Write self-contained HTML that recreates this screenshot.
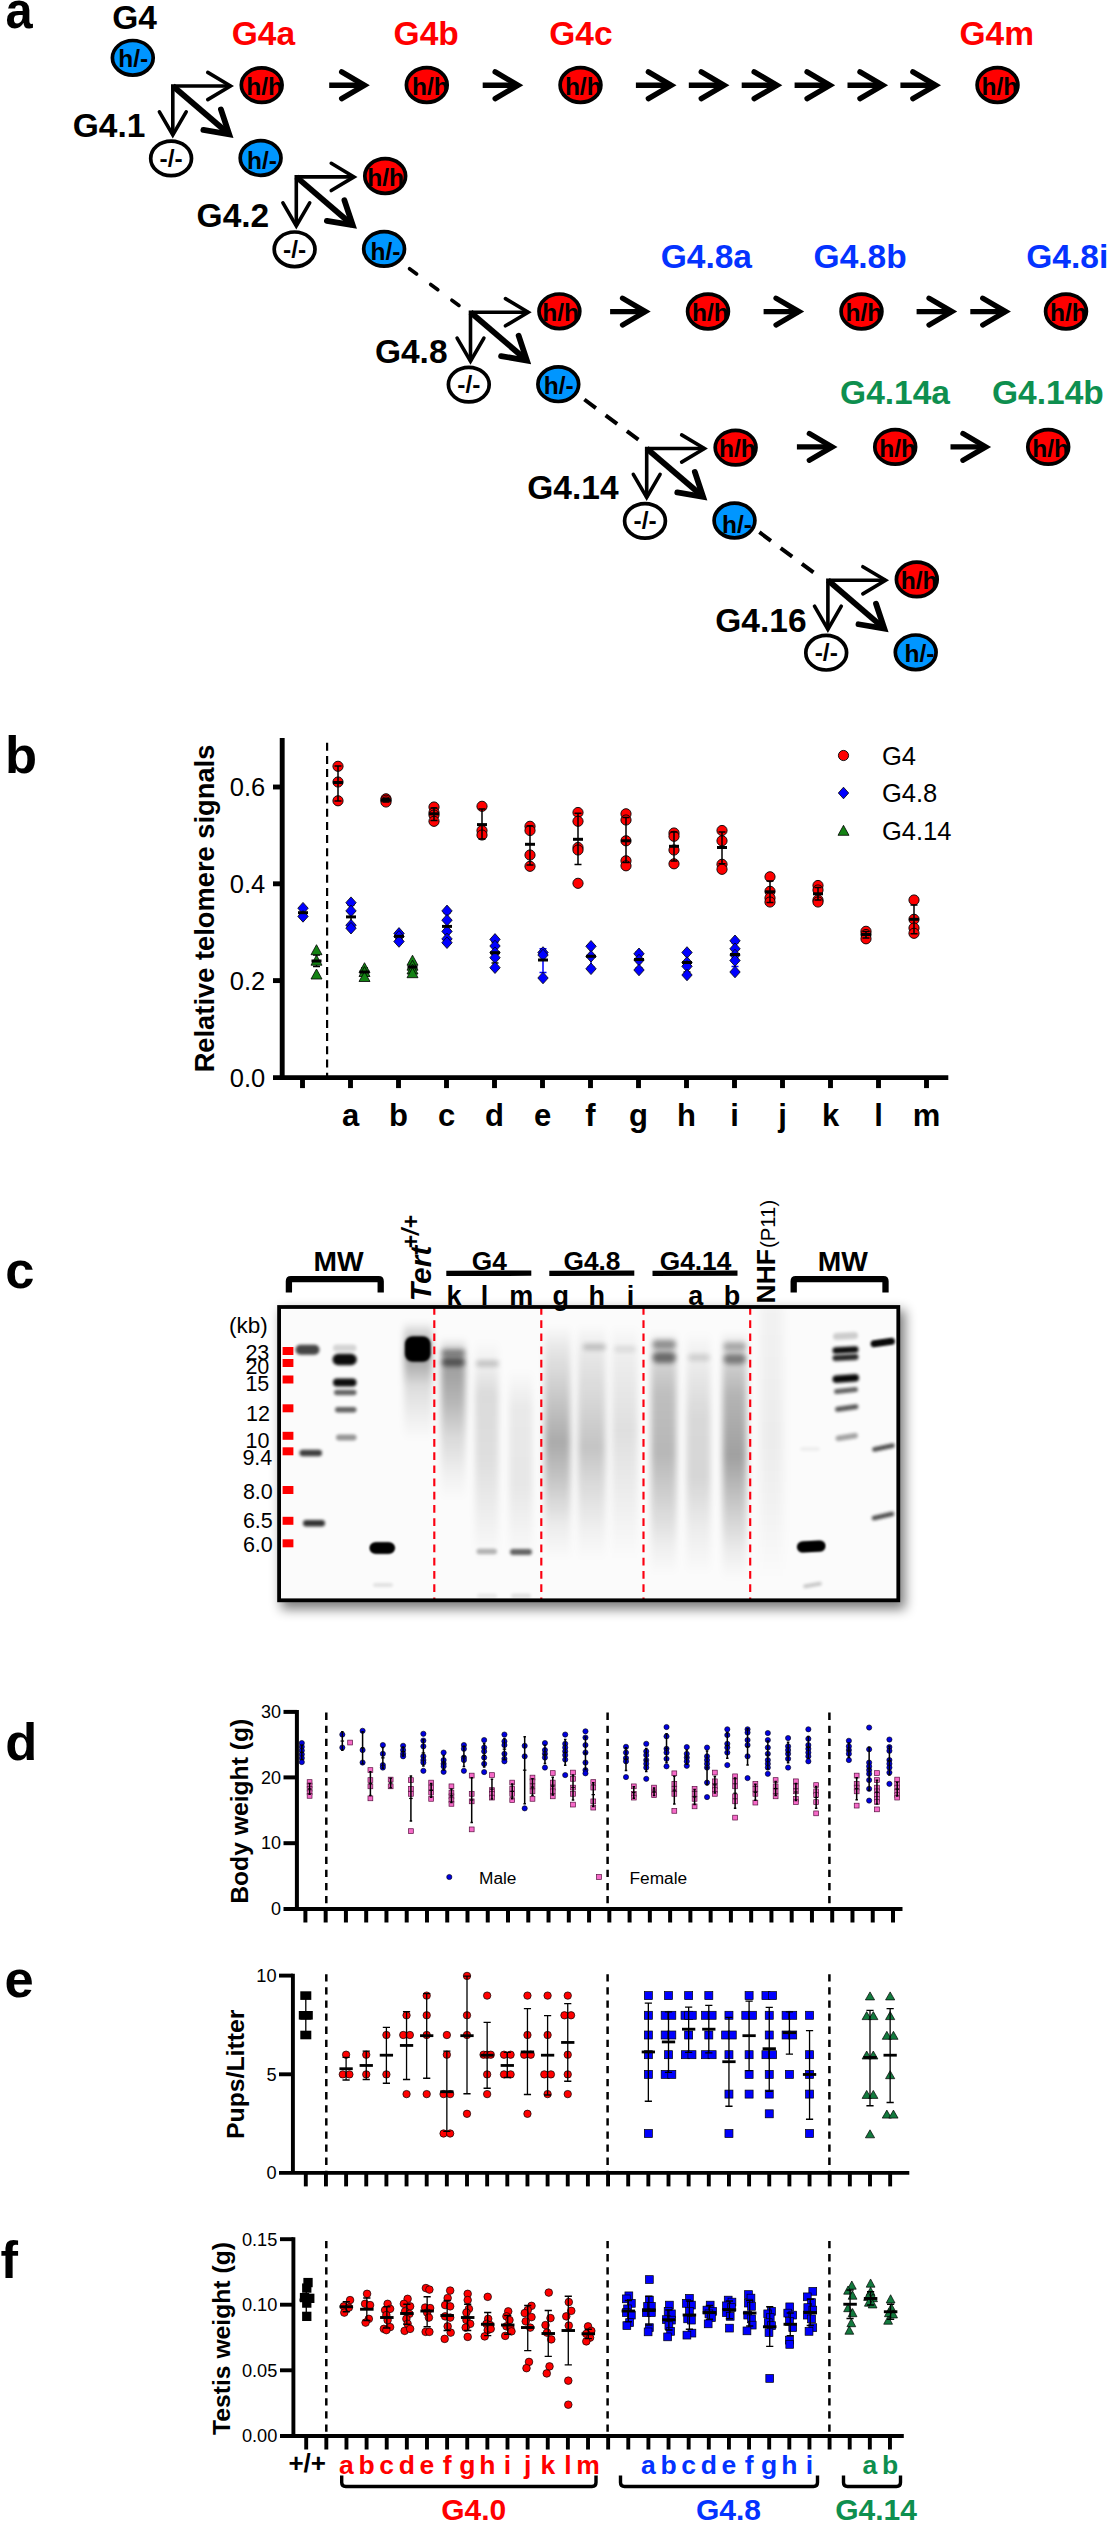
<!DOCTYPE html>
<html><head><meta charset="utf-8"><title>Figure</title><style>html,body{margin:0;padding:0;background:#fff}svg{display:block}text{font-family:"Liberation Sans",sans-serif}</style></head><body>
<svg width="1107" height="2523" viewBox="0 0 1107 2523" font-family="Liberation Sans, sans-serif">
<rect width="1107" height="2523" fill="#fff"/>
<text transform="translate(5.5,27.7) scale(0.93,1)" font-size="52.5" font-weight="bold">a</text>
<text x="5.00" y="773.00" font-size="52.5" font-weight="bold" fill="#000" >b</text>
<text x="5.30" y="1288.00" font-size="52.5" font-weight="bold" fill="#000" >c</text>
<text x="5.20" y="1760.30" font-size="52.5" font-weight="bold" fill="#000" >d</text>
<text x="4.50" y="1997.00" font-size="52.5" font-weight="bold" fill="#000" >e</text>
<text x="0.50" y="2278.00" font-size="52.5" font-weight="bold" fill="#000" >f</text>
<ellipse cx="132.8" cy="57.8" rx="20.4" ry="17.3" fill="#0096ff"/>
<clipPath id="c1"><ellipse cx="132.8" cy="57.8" rx="20.4" ry="17.3"/></clipPath>
<text clip-path="url(#c1)" x="118.3" y="67.4" font-size="24.5" font-weight="bold">h/-</text>
<ellipse cx="132.8" cy="57.8" rx="20.4" ry="17.3" fill="none" stroke="#000" stroke-width="3.7"/>
<text x="112.30" y="29.20" font-size="33.5" font-weight="bold" fill="#000" >G4</text>
<path d="M172.80,135.00 L172.80,86.00 L230.50,86.00" fill="none" stroke="#000" stroke-width="3.6" stroke-linejoin="miter"/>
<path d="M207.76,72.39 L230.50,86.00 L207.76,99.61" fill="none" stroke="#000" stroke-width="3.6" stroke-linecap="round" stroke-linejoin="miter" stroke-miterlimit="10"/>
<path d="M186.19,111.90 L172.80,135.00 L159.41,111.90" fill="none" stroke="#000" stroke-width="3.6" stroke-linecap="round" stroke-linejoin="miter" stroke-miterlimit="10"/>
<path d="M172.80,86.00 L229.20,134.30" stroke="#000" stroke-width="5.8" fill="none"/>
<path d="M220.92,109.44 L229.20,134.30 L203.37,129.94" fill="none" stroke="#000" stroke-width="5.8" stroke-linecap="round" stroke-linejoin="miter" stroke-miterlimit="10"/>
<ellipse cx="261.7" cy="85.1" rx="20.4" ry="17.3" fill="#ff0000"/>
<clipPath id="c2"><ellipse cx="261.7" cy="85.1" rx="20.4" ry="17.3"/></clipPath>
<text clip-path="url(#c2)" x="246.2" y="94.7" font-size="24.5" font-weight="bold">h/h</text>
<ellipse cx="261.7" cy="85.1" rx="20.4" ry="17.3" fill="none" stroke="#000" stroke-width="3.7"/>
<ellipse cx="171.1" cy="158.4" rx="20.4" ry="17.3" fill="#fff"/>
<clipPath id="c3"><ellipse cx="171.1" cy="158.4" rx="20.4" ry="17.3"/></clipPath>
<text clip-path="url(#c3)" x="159.6" y="166.6" font-size="24.5" font-weight="bold">-/-</text>
<ellipse cx="171.1" cy="158.4" rx="20.4" ry="17.3" fill="none" stroke="#000" stroke-width="3.7"/>
<ellipse cx="260.6" cy="158.0" rx="20.4" ry="17.3" fill="#0096ff"/>
<clipPath id="c4"><ellipse cx="260.6" cy="158.0" rx="20.4" ry="17.3"/></clipPath>
<text clip-path="url(#c4)" x="247.1" y="168.7" font-size="24.5" font-weight="bold">h/-</text>
<ellipse cx="260.6" cy="158.0" rx="20.4" ry="17.3" fill="none" stroke="#000" stroke-width="3.7"/>
<text x="72.70" y="137.20" font-size="33.5" font-weight="bold" fill="#000" >G4.1</text>
<path d="M296.30,225.90 L296.30,176.90 L354.00,176.90" fill="none" stroke="#000" stroke-width="3.6" stroke-linejoin="miter"/>
<path d="M331.26,163.29 L354.00,176.90 L331.26,190.51" fill="none" stroke="#000" stroke-width="3.6" stroke-linecap="round" stroke-linejoin="miter" stroke-miterlimit="10"/>
<path d="M309.69,202.80 L296.30,225.90 L282.91,202.80" fill="none" stroke="#000" stroke-width="3.6" stroke-linecap="round" stroke-linejoin="miter" stroke-miterlimit="10"/>
<path d="M296.30,176.90 L352.70,225.20" stroke="#000" stroke-width="5.8" fill="none"/>
<path d="M344.42,200.34 L352.70,225.20 L326.87,220.84" fill="none" stroke="#000" stroke-width="5.8" stroke-linecap="round" stroke-linejoin="miter" stroke-miterlimit="10"/>
<ellipse cx="385.2" cy="176.0" rx="20.4" ry="17.3" fill="#ff0000"/>
<clipPath id="c5"><ellipse cx="385.2" cy="176.0" rx="20.4" ry="17.3"/></clipPath>
<text clip-path="url(#c5)" x="367.3" y="185.6" font-size="24.5" font-weight="bold">h/h</text>
<ellipse cx="385.2" cy="176.0" rx="20.4" ry="17.3" fill="none" stroke="#000" stroke-width="3.7"/>
<ellipse cx="294.6" cy="249.3" rx="20.4" ry="17.3" fill="#fff"/>
<clipPath id="c6"><ellipse cx="294.6" cy="249.3" rx="20.4" ry="17.3"/></clipPath>
<text clip-path="url(#c6)" x="283.1" y="257.5" font-size="24.5" font-weight="bold">-/-</text>
<ellipse cx="294.6" cy="249.3" rx="20.4" ry="17.3" fill="none" stroke="#000" stroke-width="3.7"/>
<ellipse cx="384.1" cy="248.9" rx="20.4" ry="17.3" fill="#0096ff"/>
<clipPath id="c7"><ellipse cx="384.1" cy="248.9" rx="20.4" ry="17.3"/></clipPath>
<text clip-path="url(#c7)" x="370.6" y="259.9" font-size="24.5" font-weight="bold">h/-</text>
<ellipse cx="384.1" cy="248.9" rx="20.4" ry="17.3" fill="none" stroke="#000" stroke-width="3.7"/>
<text x="196.60" y="226.60" font-size="33.5" font-weight="bold" fill="#000" >G4.2</text>
<path d="M470.50,361.20 L470.50,312.20 L528.20,312.20" fill="none" stroke="#000" stroke-width="3.6" stroke-linejoin="miter"/>
<path d="M505.46,298.59 L528.20,312.20 L505.46,325.81" fill="none" stroke="#000" stroke-width="3.6" stroke-linecap="round" stroke-linejoin="miter" stroke-miterlimit="10"/>
<path d="M483.89,338.10 L470.50,361.20 L457.11,338.10" fill="none" stroke="#000" stroke-width="3.6" stroke-linecap="round" stroke-linejoin="miter" stroke-miterlimit="10"/>
<path d="M470.50,312.20 L526.90,360.50" stroke="#000" stroke-width="5.8" fill="none"/>
<path d="M518.62,335.64 L526.90,360.50 L501.07,356.14" fill="none" stroke="#000" stroke-width="5.8" stroke-linecap="round" stroke-linejoin="miter" stroke-miterlimit="10"/>
<ellipse cx="559.4" cy="311.3" rx="20.4" ry="17.3" fill="#ff0000"/>
<clipPath id="c8"><ellipse cx="559.4" cy="311.3" rx="20.4" ry="17.3"/></clipPath>
<text clip-path="url(#c8)" x="542.2" y="320.9" font-size="24.5" font-weight="bold">h/h</text>
<ellipse cx="559.4" cy="311.3" rx="20.4" ry="17.3" fill="none" stroke="#000" stroke-width="3.7"/>
<ellipse cx="468.8" cy="384.6" rx="20.4" ry="17.3" fill="#fff"/>
<clipPath id="c9"><ellipse cx="468.8" cy="384.6" rx="20.4" ry="17.3"/></clipPath>
<text clip-path="url(#c9)" x="457.3" y="392.8" font-size="24.5" font-weight="bold">-/-</text>
<ellipse cx="468.8" cy="384.6" rx="20.4" ry="17.3" fill="none" stroke="#000" stroke-width="3.7"/>
<ellipse cx="558.3" cy="384.2" rx="20.4" ry="17.3" fill="#0096ff"/>
<clipPath id="c10"><ellipse cx="558.3" cy="384.2" rx="20.4" ry="17.3"/></clipPath>
<text clip-path="url(#c10)" x="543.8" y="393.8" font-size="24.5" font-weight="bold">h/-</text>
<ellipse cx="558.3" cy="384.2" rx="20.4" ry="17.3" fill="none" stroke="#000" stroke-width="3.7"/>
<text x="374.90" y="362.60" font-size="33.5" font-weight="bold" fill="#000" >G4.8</text>
<path d="M646.70,497.50 L646.70,448.50 L704.40,448.50" fill="none" stroke="#000" stroke-width="3.6" stroke-linejoin="miter"/>
<path d="M681.66,434.89 L704.40,448.50 L681.66,462.11" fill="none" stroke="#000" stroke-width="3.6" stroke-linecap="round" stroke-linejoin="miter" stroke-miterlimit="10"/>
<path d="M660.09,474.40 L646.70,497.50 L633.31,474.40" fill="none" stroke="#000" stroke-width="3.6" stroke-linecap="round" stroke-linejoin="miter" stroke-miterlimit="10"/>
<path d="M646.70,448.50 L703.10,496.80" stroke="#000" stroke-width="5.8" fill="none"/>
<path d="M694.82,471.94 L703.10,496.80 L677.27,492.44" fill="none" stroke="#000" stroke-width="5.8" stroke-linecap="round" stroke-linejoin="miter" stroke-miterlimit="10"/>
<ellipse cx="735.6" cy="447.6" rx="20.4" ry="17.3" fill="#ff0000"/>
<clipPath id="c11"><ellipse cx="735.6" cy="447.6" rx="20.4" ry="17.3"/></clipPath>
<text clip-path="url(#c11)" x="719.1" y="457.2" font-size="24.5" font-weight="bold">h/h</text>
<ellipse cx="735.6" cy="447.6" rx="20.4" ry="17.3" fill="none" stroke="#000" stroke-width="3.7"/>
<ellipse cx="645.0" cy="520.9" rx="20.4" ry="17.3" fill="#fff"/>
<clipPath id="c12"><ellipse cx="645.0" cy="520.9" rx="20.4" ry="17.3"/></clipPath>
<text clip-path="url(#c12)" x="633.5" y="529.1" font-size="24.5" font-weight="bold">-/-</text>
<ellipse cx="645.0" cy="520.9" rx="20.4" ry="17.3" fill="none" stroke="#000" stroke-width="3.7"/>
<ellipse cx="734.5" cy="520.5" rx="20.4" ry="17.3" fill="#0096ff"/>
<clipPath id="c13"><ellipse cx="734.5" cy="520.5" rx="20.4" ry="17.3"/></clipPath>
<text clip-path="url(#c13)" x="722.0" y="532.5" font-size="24.5" font-weight="bold">h/-</text>
<ellipse cx="734.5" cy="520.5" rx="20.4" ry="17.3" fill="none" stroke="#000" stroke-width="3.7"/>
<text x="527.30" y="499.20" font-size="33.5" font-weight="bold" fill="#000" >G4.14</text>
<path d="M827.90,629.30 L827.90,580.30 L885.60,580.30" fill="none" stroke="#000" stroke-width="3.6" stroke-linejoin="miter"/>
<path d="M862.86,566.69 L885.60,580.30 L862.86,593.91" fill="none" stroke="#000" stroke-width="3.6" stroke-linecap="round" stroke-linejoin="miter" stroke-miterlimit="10"/>
<path d="M841.29,606.20 L827.90,629.30 L814.51,606.20" fill="none" stroke="#000" stroke-width="3.6" stroke-linecap="round" stroke-linejoin="miter" stroke-miterlimit="10"/>
<path d="M827.90,580.30 L884.30,628.60" stroke="#000" stroke-width="5.8" fill="none"/>
<path d="M876.02,603.74 L884.30,628.60 L858.47,624.24" fill="none" stroke="#000" stroke-width="5.8" stroke-linecap="round" stroke-linejoin="miter" stroke-miterlimit="10"/>
<ellipse cx="916.8" cy="579.4" rx="20.4" ry="17.3" fill="#ff0000"/>
<clipPath id="c14"><ellipse cx="916.8" cy="579.4" rx="20.4" ry="17.3"/></clipPath>
<text clip-path="url(#c14)" x="900.8" y="589.0" font-size="24.5" font-weight="bold">h/h</text>
<ellipse cx="916.8" cy="579.4" rx="20.4" ry="17.3" fill="none" stroke="#000" stroke-width="3.7"/>
<ellipse cx="826.2" cy="652.7" rx="20.4" ry="17.3" fill="#fff"/>
<clipPath id="c15"><ellipse cx="826.2" cy="652.7" rx="20.4" ry="17.3"/></clipPath>
<text clip-path="url(#c15)" x="814.7" y="660.9" font-size="24.5" font-weight="bold">-/-</text>
<ellipse cx="826.2" cy="652.7" rx="20.4" ry="17.3" fill="none" stroke="#000" stroke-width="3.7"/>
<ellipse cx="915.7" cy="652.3" rx="20.4" ry="17.3" fill="#0096ff"/>
<clipPath id="c16"><ellipse cx="915.7" cy="652.3" rx="20.4" ry="17.3"/></clipPath>
<text clip-path="url(#c16)" x="904.6" y="662.1" font-size="24.5" font-weight="bold">h/-</text>
<ellipse cx="915.7" cy="652.3" rx="20.4" ry="17.3" fill="none" stroke="#000" stroke-width="3.7"/>
<text x="715.30" y="631.60" font-size="33.5" font-weight="bold" fill="#000" >G4.16</text>
<path d="M409.5,268.7 L459.1,305.6" stroke="#000" stroke-width="3.6" stroke-dasharray="8.9,17.5" stroke-linecap="round" fill="none"/>
<path d="M584.4,399.5 L638.8,440.0" stroke="#000" stroke-width="4" stroke-dasharray="14.3,12.2" fill="none"/>
<path d="M759.4,532.2 L813.8,572.7" stroke="#000" stroke-width="4" stroke-dasharray="14.4,12.1" fill="none"/>
<ellipse cx="426.8" cy="85.0" rx="20.4" ry="17.3" fill="#ff0000"/>
<clipPath id="c17"><ellipse cx="426.8" cy="85.0" rx="20.4" ry="17.3"/></clipPath>
<text clip-path="url(#c17)" x="412.1" y="94.6" font-size="24.5" font-weight="bold">h/h</text>
<ellipse cx="426.8" cy="85.0" rx="20.4" ry="17.3" fill="none" stroke="#000" stroke-width="3.7"/>
<ellipse cx="580.5" cy="85.0" rx="20.4" ry="17.3" fill="#ff0000"/>
<clipPath id="c18"><ellipse cx="580.5" cy="85.0" rx="20.4" ry="17.3"/></clipPath>
<text clip-path="url(#c18)" x="564.9" y="94.6" font-size="24.5" font-weight="bold">h/h</text>
<ellipse cx="580.5" cy="85.0" rx="20.4" ry="17.3" fill="none" stroke="#000" stroke-width="3.7"/>
<ellipse cx="997.5" cy="85.0" rx="20.4" ry="17.3" fill="#ff0000"/>
<clipPath id="c19"><ellipse cx="997.5" cy="85.0" rx="20.4" ry="17.3"/></clipPath>
<text clip-path="url(#c19)" x="981.5" y="94.6" font-size="24.5" font-weight="bold">h/h</text>
<ellipse cx="997.5" cy="85.0" rx="20.4" ry="17.3" fill="none" stroke="#000" stroke-width="3.7"/>
<path d="M329.20,85.30 L364.50,85.30" stroke="#000" stroke-width="5.4" fill="none"/>
<path d="M341.69,71.92 L364.50,85.30 L341.69,98.68" fill="none" stroke="#000" stroke-width="5.4" stroke-linecap="round" stroke-linejoin="miter" stroke-miterlimit="10"/>
<path d="M482.70,85.30 L518.00,85.30" stroke="#000" stroke-width="5.4" fill="none"/>
<path d="M495.19,71.92 L518.00,85.30 L495.19,98.68" fill="none" stroke="#000" stroke-width="5.4" stroke-linecap="round" stroke-linejoin="miter" stroke-miterlimit="10"/>
<path d="M635.90,85.30 L671.20,85.30" stroke="#000" stroke-width="5.4" fill="none"/>
<path d="M648.39,71.92 L671.20,85.30 L648.39,98.68" fill="none" stroke="#000" stroke-width="5.4" stroke-linecap="round" stroke-linejoin="miter" stroke-miterlimit="10"/>
<path d="M688.80,85.30 L724.10,85.30" stroke="#000" stroke-width="5.4" fill="none"/>
<path d="M701.29,71.92 L724.10,85.30 L701.29,98.68" fill="none" stroke="#000" stroke-width="5.4" stroke-linecap="round" stroke-linejoin="miter" stroke-miterlimit="10"/>
<path d="M741.70,85.30 L777.00,85.30" stroke="#000" stroke-width="5.4" fill="none"/>
<path d="M754.19,71.92 L777.00,85.30 L754.19,98.68" fill="none" stroke="#000" stroke-width="5.4" stroke-linecap="round" stroke-linejoin="miter" stroke-miterlimit="10"/>
<path d="M794.60,85.30 L829.90,85.30" stroke="#000" stroke-width="5.4" fill="none"/>
<path d="M807.09,71.92 L829.90,85.30 L807.09,98.68" fill="none" stroke="#000" stroke-width="5.4" stroke-linecap="round" stroke-linejoin="miter" stroke-miterlimit="10"/>
<path d="M847.50,85.30 L882.80,85.30" stroke="#000" stroke-width="5.4" fill="none"/>
<path d="M859.99,71.92 L882.80,85.30 L859.99,98.68" fill="none" stroke="#000" stroke-width="5.4" stroke-linecap="round" stroke-linejoin="miter" stroke-miterlimit="10"/>
<path d="M900.40,85.30 L935.70,85.30" stroke="#000" stroke-width="5.4" fill="none"/>
<path d="M912.89,71.92 L935.70,85.30 L912.89,98.68" fill="none" stroke="#000" stroke-width="5.4" stroke-linecap="round" stroke-linejoin="miter" stroke-miterlimit="10"/>
<text x="231.70" y="44.80" font-size="33.5" font-weight="bold" fill="#ff0000" >G4a</text>
<text x="393.60" y="44.80" font-size="33.5" font-weight="bold" fill="#ff0000" >G4b</text>
<text x="549.30" y="44.80" font-size="33.5" font-weight="bold" fill="#ff0000" >G4c</text>
<text x="959.50" y="44.80" font-size="33.5" font-weight="bold" fill="#ff0000" >G4m</text>
<ellipse cx="708.0" cy="311.5" rx="20.4" ry="17.3" fill="#ff0000"/>
<clipPath id="c20"><ellipse cx="708.0" cy="311.5" rx="20.4" ry="17.3"/></clipPath>
<text clip-path="url(#c20)" x="692.0" y="321.1" font-size="24.5" font-weight="bold">h/h</text>
<ellipse cx="708.0" cy="311.5" rx="20.4" ry="17.3" fill="none" stroke="#000" stroke-width="3.7"/>
<ellipse cx="861.5" cy="311.5" rx="20.4" ry="17.3" fill="#ff0000"/>
<clipPath id="c21"><ellipse cx="861.5" cy="311.5" rx="20.4" ry="17.3"/></clipPath>
<text clip-path="url(#c21)" x="845.5" y="321.1" font-size="24.5" font-weight="bold">h/h</text>
<ellipse cx="861.5" cy="311.5" rx="20.4" ry="17.3" fill="none" stroke="#000" stroke-width="3.7"/>
<ellipse cx="1066.0" cy="311.5" rx="20.4" ry="17.3" fill="#ff0000"/>
<clipPath id="c22"><ellipse cx="1066.0" cy="311.5" rx="20.4" ry="17.3"/></clipPath>
<text clip-path="url(#c22)" x="1050.0" y="321.1" font-size="24.5" font-weight="bold">h/h</text>
<ellipse cx="1066.0" cy="311.5" rx="20.4" ry="17.3" fill="none" stroke="#000" stroke-width="3.7"/>
<path d="M610.10,311.60 L645.40,311.60" stroke="#000" stroke-width="5.4" fill="none"/>
<path d="M622.59,298.22 L645.40,311.60 L622.59,324.98" fill="none" stroke="#000" stroke-width="5.4" stroke-linecap="round" stroke-linejoin="miter" stroke-miterlimit="10"/>
<path d="M763.60,311.60 L798.90,311.60" stroke="#000" stroke-width="5.4" fill="none"/>
<path d="M776.09,298.22 L798.90,311.60 L776.09,324.98" fill="none" stroke="#000" stroke-width="5.4" stroke-linecap="round" stroke-linejoin="miter" stroke-miterlimit="10"/>
<path d="M916.60,311.60 L951.90,311.60" stroke="#000" stroke-width="5.4" fill="none"/>
<path d="M929.09,298.22 L951.90,311.60 L929.09,324.98" fill="none" stroke="#000" stroke-width="5.4" stroke-linecap="round" stroke-linejoin="miter" stroke-miterlimit="10"/>
<path d="M970.30,311.60 L1005.60,311.60" stroke="#000" stroke-width="5.4" fill="none"/>
<path d="M982.79,298.22 L1005.60,311.60 L982.79,324.98" fill="none" stroke="#000" stroke-width="5.4" stroke-linecap="round" stroke-linejoin="miter" stroke-miterlimit="10"/>
<text x="660.70" y="267.60" font-size="33.5" font-weight="bold" fill="#0433ff" >G4.8a</text>
<text x="813.60" y="267.60" font-size="33.5" font-weight="bold" fill="#0433ff" >G4.8b</text>
<text x="1026.30" y="267.60" font-size="33.5" font-weight="bold" fill="#0433ff" >G4.8i</text>
<ellipse cx="895.2" cy="446.9" rx="20.4" ry="17.3" fill="#ff0000"/>
<clipPath id="c23"><ellipse cx="895.2" cy="446.9" rx="20.4" ry="17.3"/></clipPath>
<text clip-path="url(#c23)" x="879.2" y="456.5" font-size="24.5" font-weight="bold">h/h</text>
<ellipse cx="895.2" cy="446.9" rx="20.4" ry="17.3" fill="none" stroke="#000" stroke-width="3.7"/>
<ellipse cx="1048.2" cy="446.9" rx="20.4" ry="17.3" fill="#ff0000"/>
<clipPath id="c24"><ellipse cx="1048.2" cy="446.9" rx="20.4" ry="17.3"/></clipPath>
<text clip-path="url(#c24)" x="1032.2" y="456.5" font-size="24.5" font-weight="bold">h/h</text>
<ellipse cx="1048.2" cy="446.9" rx="20.4" ry="17.3" fill="none" stroke="#000" stroke-width="3.7"/>
<path d="M796.90,446.90 L832.20,446.90" stroke="#000" stroke-width="5.4" fill="none"/>
<path d="M809.39,433.52 L832.20,446.90 L809.39,460.28" fill="none" stroke="#000" stroke-width="5.4" stroke-linecap="round" stroke-linejoin="miter" stroke-miterlimit="10"/>
<path d="M950.50,446.90 L985.80,446.90" stroke="#000" stroke-width="5.4" fill="none"/>
<path d="M962.99,433.52 L985.80,446.90 L962.99,460.28" fill="none" stroke="#000" stroke-width="5.4" stroke-linecap="round" stroke-linejoin="miter" stroke-miterlimit="10"/>
<text x="840.10" y="404.00" font-size="33.5" font-weight="bold" fill="#0e8f4f" >G4.14a</text>
<text x="992.00" y="404.00" font-size="33.5" font-weight="bold" fill="#0e8f4f" >G4.14b</text>
<path d="M303.00,908.00 L303.00,917.00 M299.50,908.00 L306.50,908.00 M299.50,917.00 L306.50,917.00" stroke="#000" stroke-width="1.5" fill="none"/>
<path d="M303.00,902.40 L308.20,908.20 L303.00,914.00 L297.80,908.20 Z" fill="#0000ff" stroke="#000" stroke-width="0.8"/>
<path d="M303.00,910.60 L308.20,916.40 L303.00,922.20 L297.80,916.40 Z" fill="#0000ff" stroke="#000" stroke-width="0.8"/>
<path d="M298.00,912.70 L308.00,912.70" stroke="#000" stroke-width="3" fill="none"/>
<path d="M351.00,905.00 L351.00,929.00 M347.50,905.00 L354.50,905.00 M347.50,929.00 L354.50,929.00" stroke="#000" stroke-width="1.5" fill="none"/>
<path d="M351.00,896.90 L356.20,902.70 L351.00,908.50 L345.80,902.70 Z" fill="#0000ff" stroke="#000" stroke-width="0.8"/>
<path d="M351.00,905.10 L356.20,910.90 L351.00,916.70 L345.80,910.90 Z" fill="#0000ff" stroke="#000" stroke-width="0.8"/>
<path d="M351.00,919.40 L356.20,925.20 L351.00,931.00 L345.80,925.20 Z" fill="#0000ff" stroke="#000" stroke-width="0.8"/>
<path d="M351.00,922.40 L356.20,928.20 L351.00,934.00 L345.80,928.20 Z" fill="#0000ff" stroke="#000" stroke-width="0.8"/>
<path d="M346.00,916.90 L356.00,916.90" stroke="#000" stroke-width="3" fill="none"/>
<path d="M399.00,933.00 L399.00,940.00 M395.50,933.00 L402.50,933.00 M395.50,940.00 L402.50,940.00" stroke="#000" stroke-width="1.5" fill="none"/>
<path d="M399.00,927.60 L404.20,933.40 L399.00,939.20 L393.80,933.40 Z" fill="#0000ff" stroke="#000" stroke-width="0.8"/>
<path d="M399.00,930.60 L404.20,936.40 L399.00,942.20 L393.80,936.40 Z" fill="#0000ff" stroke="#000" stroke-width="0.8"/>
<path d="M399.00,935.70 L404.20,941.50 L399.00,947.30 L393.80,941.50 Z" fill="#0000ff" stroke="#000" stroke-width="0.8"/>
<path d="M394.00,936.30 L404.00,936.30" stroke="#000" stroke-width="3" fill="none"/>
<path d="M447.00,913.00 L447.00,941.00 M443.50,913.00 L450.50,913.00 M443.50,941.00 L450.50,941.00" stroke="#000" stroke-width="1.5" fill="none"/>
<path d="M447.00,905.10 L452.20,910.90 L447.00,916.70 L441.80,910.90 Z" fill="#0000ff" stroke="#000" stroke-width="0.8"/>
<path d="M447.00,914.40 L452.20,920.20 L447.00,926.00 L441.80,920.20 Z" fill="#0000ff" stroke="#000" stroke-width="0.8"/>
<path d="M447.00,925.60 L452.20,931.40 L447.00,937.20 L441.80,931.40 Z" fill="#0000ff" stroke="#000" stroke-width="0.8"/>
<path d="M447.00,933.10 L452.20,938.90 L447.00,944.70 L441.80,938.90 Z" fill="#0000ff" stroke="#000" stroke-width="0.8"/>
<path d="M447.00,936.90 L452.20,942.70 L447.00,948.50 L441.80,942.70 Z" fill="#0000ff" stroke="#000" stroke-width="0.8"/>
<path d="M442.00,926.40 L452.00,926.40" stroke="#000" stroke-width="3" fill="none"/>
<path d="M495.00,942.00 L495.00,963.00 M491.50,942.00 L498.50,942.00 M491.50,963.00 L498.50,963.00" stroke="#000" stroke-width="1.5" fill="none"/>
<path d="M495.00,933.60 L500.20,939.40 L495.00,945.20 L489.80,939.40 Z" fill="#0000ff" stroke="#000" stroke-width="0.8"/>
<path d="M495.00,940.20 L500.20,946.00 L495.00,951.80 L489.80,946.00 Z" fill="#0000ff" stroke="#000" stroke-width="0.8"/>
<path d="M495.00,946.90 L500.20,952.70 L495.00,958.50 L489.80,952.70 Z" fill="#0000ff" stroke="#000" stroke-width="0.8"/>
<path d="M495.00,951.90 L500.20,957.70 L495.00,963.50 L489.80,957.70 Z" fill="#0000ff" stroke="#000" stroke-width="0.8"/>
<path d="M495.00,961.90 L500.20,967.70 L495.00,973.50 L489.80,967.70 Z" fill="#0000ff" stroke="#000" stroke-width="0.8"/>
<path d="M490.00,952.70 L500.00,952.70" stroke="#000" stroke-width="3" fill="none"/>
<path d="M543.00,948.80 L543.00,972.50 M539.50,948.80 L546.50,948.80 M539.50,972.50 L546.50,972.50" stroke="#0000ff" stroke-width="1.5" fill="none"/>
<path d="M543.00,946.70 L548.20,952.50 L543.00,958.30 L537.80,952.50 Z" fill="#0000ff" stroke="#000" stroke-width="0.8"/>
<path d="M543.00,949.20 L548.20,955.00 L543.00,960.80 L537.80,955.00 Z" fill="#0000ff" stroke="#000" stroke-width="0.8"/>
<path d="M543.00,972.20 L548.20,978.00 L543.00,983.80 L537.80,978.00 Z" fill="#0000ff" stroke="#000" stroke-width="0.8"/>
<path d="M538.00,960.00 L548.00,960.00" stroke="#000" stroke-width="3" fill="none"/>
<path d="M591.00,946.00 L591.00,967.00 M587.50,946.00 L594.50,946.00 M587.50,967.00 L594.50,967.00" stroke="#0000ff" stroke-width="1.5" fill="none"/>
<path d="M591.00,940.50 L596.20,946.30 L591.00,952.10 L585.80,946.30 Z" fill="#0000ff" stroke="#000" stroke-width="0.8"/>
<path d="M591.00,950.50 L596.20,956.30 L591.00,962.10 L585.80,956.30 Z" fill="#0000ff" stroke="#000" stroke-width="0.8"/>
<path d="M591.00,963.00 L596.20,968.80 L591.00,974.60 L585.80,968.80 Z" fill="#0000ff" stroke="#000" stroke-width="0.8"/>
<path d="M586.00,956.30 L596.00,956.30" stroke="#000" stroke-width="3" fill="none"/>
<path d="M639.00,952.00 L639.00,968.00 M635.50,952.00 L642.50,952.00 M635.50,968.00 L642.50,968.00" stroke="#000" stroke-width="1.5" fill="none"/>
<path d="M639.00,948.00 L644.20,953.80 L639.00,959.60 L633.80,953.80 Z" fill="#0000ff" stroke="#000" stroke-width="0.8"/>
<path d="M639.00,954.20 L644.20,960.00 L639.00,965.80 L633.80,960.00 Z" fill="#0000ff" stroke="#000" stroke-width="0.8"/>
<path d="M639.00,964.20 L644.20,970.00 L639.00,975.80 L633.80,970.00 Z" fill="#0000ff" stroke="#000" stroke-width="0.8"/>
<path d="M634.00,959.50 L644.00,959.50" stroke="#000" stroke-width="3" fill="none"/>
<path d="M687.00,953.00 L687.00,972.00 M683.50,953.00 L690.50,953.00 M683.50,972.00 L690.50,972.00" stroke="#000" stroke-width="1.5" fill="none"/>
<path d="M687.00,946.70 L692.20,952.50 L687.00,958.30 L681.80,952.50 Z" fill="#0000ff" stroke="#000" stroke-width="0.8"/>
<path d="M687.00,956.70 L692.20,962.50 L687.00,968.30 L681.80,962.50 Z" fill="#0000ff" stroke="#000" stroke-width="0.8"/>
<path d="M687.00,960.50 L692.20,966.30 L687.00,972.10 L681.80,966.30 Z" fill="#0000ff" stroke="#000" stroke-width="0.8"/>
<path d="M687.00,969.20 L692.20,975.00 L687.00,980.80 L681.80,975.00 Z" fill="#0000ff" stroke="#000" stroke-width="0.8"/>
<path d="M682.00,962.50 L692.00,962.50" stroke="#000" stroke-width="3" fill="none"/>
<path d="M735.00,943.00 L735.00,966.50 M731.50,943.00 L738.50,943.00 M731.50,966.50 L738.50,966.50" stroke="#0000ff" stroke-width="1.5" fill="none"/>
<path d="M735.00,935.00 L740.20,940.80 L735.00,946.60 L729.80,940.80 Z" fill="#0000ff" stroke="#000" stroke-width="0.8"/>
<path d="M735.00,943.00 L740.20,948.80 L735.00,954.60 L729.80,948.80 Z" fill="#0000ff" stroke="#000" stroke-width="0.8"/>
<path d="M735.00,949.20 L740.20,955.00 L735.00,960.80 L729.80,955.00 Z" fill="#0000ff" stroke="#000" stroke-width="0.8"/>
<path d="M735.00,954.70 L740.20,960.50 L735.00,966.30 L729.80,960.50 Z" fill="#0000ff" stroke="#000" stroke-width="0.8"/>
<path d="M735.00,966.20 L740.20,972.00 L735.00,977.80 L729.80,972.00 Z" fill="#0000ff" stroke="#000" stroke-width="0.8"/>
<path d="M730.00,954.50 L740.00,954.50" stroke="#000" stroke-width="3" fill="none"/>
<path d="M316.50,955.00 L316.50,966.50 M313.00,955.00 L320.00,955.00 M313.00,966.50 L320.00,966.50" stroke="#000" stroke-width="1.5" fill="none"/>
<path d="M316.50,944.70 L322.00,954.70 L311.00,954.70 Z" fill="#148214" stroke="#000" stroke-width="0.8"/>
<path d="M316.50,955.20 L322.00,965.20 L311.00,965.20 Z" fill="#148214" stroke="#000" stroke-width="0.8"/>
<path d="M316.50,969.00 L322.00,979.00 L311.00,979.00 Z" fill="#148214" stroke="#000" stroke-width="0.8"/>
<path d="M311.50,961.00 L321.50,961.00" stroke="#000" stroke-width="3" fill="none"/>
<path d="M364.50,968.00 L364.50,976.00 M361.00,968.00 L368.00,968.00 M361.00,976.00 L368.00,976.00" stroke="#000" stroke-width="1.5" fill="none"/>
<path d="M364.50,962.70 L370.00,972.70 L359.00,972.70 Z" fill="#148214" stroke="#000" stroke-width="0.8"/>
<path d="M364.50,966.50 L370.00,976.50 L359.00,976.50 Z" fill="#148214" stroke="#000" stroke-width="0.8"/>
<path d="M364.50,971.50 L370.00,981.50 L359.00,981.50 Z" fill="#148214" stroke="#000" stroke-width="0.8"/>
<path d="M359.50,972.00 L369.50,972.00" stroke="#000" stroke-width="3" fill="none"/>
<path d="M412.50,962.00 L412.50,972.00 M409.00,962.00 L416.00,962.00 M409.00,972.00 L416.00,972.00" stroke="#000" stroke-width="1.5" fill="none"/>
<path d="M412.50,955.20 L418.00,965.20 L407.00,965.20 Z" fill="#148214" stroke="#000" stroke-width="0.8"/>
<path d="M412.50,960.20 L418.00,970.20 L407.00,970.20 Z" fill="#148214" stroke="#000" stroke-width="0.8"/>
<path d="M412.50,964.00 L418.00,974.00 L407.00,974.00 Z" fill="#148214" stroke="#000" stroke-width="0.8"/>
<path d="M412.50,967.70 L418.00,977.70 L407.00,977.70 Z" fill="#148214" stroke="#000" stroke-width="0.8"/>
<path d="M407.50,967.00 L417.50,967.00" stroke="#000" stroke-width="3" fill="none"/>
<circle cx="338.00" cy="766.30" r="5.1" fill="#ff0000" stroke="#000" stroke-width="0.9"/>
<circle cx="338.00" cy="782.00" r="5.1" fill="#ff0000" stroke="#000" stroke-width="0.9"/>
<circle cx="338.00" cy="800.80" r="5.1" fill="#ff0000" stroke="#000" stroke-width="0.9"/>
<path d="M338.00,766.00 L338.00,801.00 M334.50,766.00 L341.50,766.00 M334.50,801.00 L341.50,801.00" stroke="#000" stroke-width="1.5" fill="none"/>
<path d="M333.00,782.50 L343.00,782.50" stroke="#000" stroke-width="3" fill="none"/>
<circle cx="386.00" cy="798.80" r="5.1" fill="#ff0000" stroke="#000" stroke-width="0.9"/>
<circle cx="386.00" cy="800.20" r="5.1" fill="#ff0000" stroke="#000" stroke-width="0.9"/>
<circle cx="386.00" cy="802.00" r="5.1" fill="#ff0000" stroke="#000" stroke-width="0.9"/>
<path d="M386.00,798.50 L386.00,802.00 M382.50,798.50 L389.50,798.50 M382.50,802.00 L389.50,802.00" stroke="#000" stroke-width="1.5" fill="none"/>
<path d="M381.00,800.30 L391.00,800.30" stroke="#000" stroke-width="3" fill="none"/>
<circle cx="434.00" cy="807.00" r="5.1" fill="#ff0000" stroke="#000" stroke-width="0.9"/>
<circle cx="434.00" cy="812.60" r="5.1" fill="#ff0000" stroke="#000" stroke-width="0.9"/>
<circle cx="434.00" cy="815.00" r="5.1" fill="#ff0000" stroke="#000" stroke-width="0.9"/>
<circle cx="434.00" cy="821.30" r="5.1" fill="#ff0000" stroke="#000" stroke-width="0.9"/>
<path d="M434.00,808.00 L434.00,820.50 M430.50,808.00 L437.50,808.00 M430.50,820.50 L437.50,820.50" stroke="#000" stroke-width="1.5" fill="none"/>
<path d="M429.00,813.80 L439.00,813.80" stroke="#000" stroke-width="3" fill="none"/>
<circle cx="482.00" cy="806.30" r="5.1" fill="#ff0000" stroke="#000" stroke-width="0.9"/>
<circle cx="482.00" cy="830.60" r="5.1" fill="#ff0000" stroke="#000" stroke-width="0.9"/>
<circle cx="482.00" cy="835.00" r="5.1" fill="#ff0000" stroke="#000" stroke-width="0.9"/>
<path d="M482.00,809.00 L482.00,839.00 M478.50,809.00 L485.50,809.00 M478.50,839.00 L485.50,839.00" stroke="#000" stroke-width="1.5" fill="none"/>
<path d="M477.00,824.60 L487.00,824.60" stroke="#000" stroke-width="3" fill="none"/>
<circle cx="530.00" cy="826.30" r="5.1" fill="#ff0000" stroke="#000" stroke-width="0.9"/>
<circle cx="530.00" cy="830.50" r="5.1" fill="#ff0000" stroke="#000" stroke-width="0.9"/>
<circle cx="530.00" cy="855.00" r="5.1" fill="#ff0000" stroke="#000" stroke-width="0.9"/>
<circle cx="530.00" cy="866.30" r="5.1" fill="#ff0000" stroke="#000" stroke-width="0.9"/>
<path d="M530.00,826.00 L530.00,865.00 M526.50,826.00 L533.50,826.00 M526.50,865.00 L533.50,865.00" stroke="#000" stroke-width="1.5" fill="none"/>
<path d="M525.00,844.30 L535.00,844.30" stroke="#000" stroke-width="3" fill="none"/>
<circle cx="578.00" cy="812.50" r="5.1" fill="#ff0000" stroke="#000" stroke-width="0.9"/>
<circle cx="578.00" cy="821.30" r="5.1" fill="#ff0000" stroke="#000" stroke-width="0.9"/>
<circle cx="578.00" cy="847.50" r="5.1" fill="#ff0000" stroke="#000" stroke-width="0.9"/>
<circle cx="578.00" cy="850.00" r="5.1" fill="#ff0000" stroke="#000" stroke-width="0.9"/>
<circle cx="578.00" cy="883.30" r="5.1" fill="#ff0000" stroke="#000" stroke-width="0.9"/>
<path d="M578.00,813.30 L578.00,864.50 M574.50,813.30 L581.50,813.30 M574.50,864.50 L581.50,864.50" stroke="#000" stroke-width="1.5" fill="none"/>
<path d="M573.00,839.30 L583.00,839.30" stroke="#000" stroke-width="3" fill="none"/>
<circle cx="626.00" cy="813.80" r="5.1" fill="#ff0000" stroke="#000" stroke-width="0.9"/>
<circle cx="626.00" cy="820.00" r="5.1" fill="#ff0000" stroke="#000" stroke-width="0.9"/>
<circle cx="626.00" cy="840.80" r="5.1" fill="#ff0000" stroke="#000" stroke-width="0.9"/>
<circle cx="626.00" cy="860.80" r="5.1" fill="#ff0000" stroke="#000" stroke-width="0.9"/>
<circle cx="626.00" cy="865.80" r="5.1" fill="#ff0000" stroke="#000" stroke-width="0.9"/>
<path d="M626.00,817.50 L626.00,862.50 M622.50,817.50 L629.50,817.50 M622.50,862.50 L629.50,862.50" stroke="#000" stroke-width="1.5" fill="none"/>
<path d="M621.00,840.80 L631.00,840.80" stroke="#000" stroke-width="3" fill="none"/>
<circle cx="674.00" cy="833.00" r="5.1" fill="#ff0000" stroke="#000" stroke-width="0.9"/>
<circle cx="674.00" cy="836.30" r="5.1" fill="#ff0000" stroke="#000" stroke-width="0.9"/>
<circle cx="674.00" cy="850.00" r="5.1" fill="#ff0000" stroke="#000" stroke-width="0.9"/>
<circle cx="674.00" cy="863.80" r="5.1" fill="#ff0000" stroke="#000" stroke-width="0.9"/>
<path d="M674.00,832.00 L674.00,861.00 M670.50,832.00 L677.50,832.00 M670.50,861.00 L677.50,861.00" stroke="#000" stroke-width="1.5" fill="none"/>
<path d="M669.00,846.30 L679.00,846.30" stroke="#000" stroke-width="3" fill="none"/>
<circle cx="722.00" cy="830.50" r="5.1" fill="#ff0000" stroke="#000" stroke-width="0.9"/>
<circle cx="722.00" cy="840.80" r="5.1" fill="#ff0000" stroke="#000" stroke-width="0.9"/>
<circle cx="722.00" cy="864.30" r="5.1" fill="#ff0000" stroke="#000" stroke-width="0.9"/>
<circle cx="722.00" cy="869.30" r="5.1" fill="#ff0000" stroke="#000" stroke-width="0.9"/>
<path d="M722.00,832.00 L722.00,863.80 M718.50,832.00 L725.50,832.00 M718.50,863.80 L725.50,863.80" stroke="#000" stroke-width="1.5" fill="none"/>
<path d="M717.00,847.50 L727.00,847.50" stroke="#000" stroke-width="3" fill="none"/>
<circle cx="770.00" cy="876.80" r="5.1" fill="#ff0000" stroke="#000" stroke-width="0.9"/>
<circle cx="770.00" cy="891.30" r="5.1" fill="#ff0000" stroke="#000" stroke-width="0.9"/>
<circle cx="770.00" cy="898.00" r="5.1" fill="#ff0000" stroke="#000" stroke-width="0.9"/>
<circle cx="770.00" cy="902.00" r="5.1" fill="#ff0000" stroke="#000" stroke-width="0.9"/>
<path d="M770.00,881.00 L770.00,902.50 M766.50,881.00 L773.50,881.00 M766.50,902.50 L773.50,902.50" stroke="#000" stroke-width="1.5" fill="none"/>
<path d="M765.00,891.80 L775.00,891.80" stroke="#000" stroke-width="3" fill="none"/>
<circle cx="818.00" cy="885.50" r="5.1" fill="#ff0000" stroke="#000" stroke-width="0.9"/>
<circle cx="818.00" cy="890.00" r="5.1" fill="#ff0000" stroke="#000" stroke-width="0.9"/>
<circle cx="818.00" cy="900.00" r="5.1" fill="#ff0000" stroke="#000" stroke-width="0.9"/>
<circle cx="818.00" cy="902.00" r="5.1" fill="#ff0000" stroke="#000" stroke-width="0.9"/>
<path d="M818.00,887.50 L818.00,900.00 M814.50,887.50 L821.50,887.50 M814.50,900.00 L821.50,900.00" stroke="#000" stroke-width="1.5" fill="none"/>
<path d="M813.00,893.80 L823.00,893.80" stroke="#000" stroke-width="3" fill="none"/>
<circle cx="866.00" cy="931.30" r="5.1" fill="#ff0000" stroke="#000" stroke-width="0.9"/>
<circle cx="866.00" cy="934.50" r="5.1" fill="#ff0000" stroke="#000" stroke-width="0.9"/>
<circle cx="866.00" cy="938.80" r="5.1" fill="#ff0000" stroke="#000" stroke-width="0.9"/>
<path d="M866.00,931.50 L866.00,938.00 M862.50,931.50 L869.50,931.50 M862.50,938.00 L869.50,938.00" stroke="#000" stroke-width="1.5" fill="none"/>
<path d="M861.00,934.50 L871.00,934.50" stroke="#000" stroke-width="3" fill="none"/>
<circle cx="914.00" cy="900.00" r="5.1" fill="#ff0000" stroke="#000" stroke-width="0.9"/>
<circle cx="914.00" cy="919.30" r="5.1" fill="#ff0000" stroke="#000" stroke-width="0.9"/>
<circle cx="914.00" cy="928.00" r="5.1" fill="#ff0000" stroke="#000" stroke-width="0.9"/>
<circle cx="914.00" cy="933.30" r="5.1" fill="#ff0000" stroke="#000" stroke-width="0.9"/>
<path d="M914.00,905.00 L914.00,933.80 M910.50,905.00 L917.50,905.00 M910.50,933.80 L917.50,933.80" stroke="#000" stroke-width="1.5" fill="none"/>
<path d="M909.00,919.30 L919.00,919.30" stroke="#000" stroke-width="3" fill="none"/>
<path d="M327.10,742.70 L327.10,1077.60" stroke="#000" stroke-width="2.2" stroke-dasharray="8,5.2" fill="none"/>
<path d="M282.2,738 L282.2,1077.6 M273,1077.6 L948.3,1077.6" stroke="#000" stroke-width="4.9" fill="none"/>
<path d="M273,787.0 L282.2,787.0" stroke="#000" stroke-width="4.9"/>
<path d="M273,883.8 L282.2,883.8" stroke="#000" stroke-width="4.9"/>
<path d="M273,980.6 L282.2,980.6" stroke="#000" stroke-width="4.9"/>
<path d="M302.5,1077.6 L302.5,1088.1" stroke="#000" stroke-width="4.9"/>
<path d="M350.5,1077.6 L350.5,1088.1" stroke="#000" stroke-width="4.9"/>
<path d="M398.5,1077.6 L398.5,1088.1" stroke="#000" stroke-width="4.9"/>
<path d="M446.5,1077.6 L446.5,1088.1" stroke="#000" stroke-width="4.9"/>
<path d="M494.5,1077.6 L494.5,1088.1" stroke="#000" stroke-width="4.9"/>
<path d="M542.5,1077.6 L542.5,1088.1" stroke="#000" stroke-width="4.9"/>
<path d="M590.5,1077.6 L590.5,1088.1" stroke="#000" stroke-width="4.9"/>
<path d="M638.5,1077.6 L638.5,1088.1" stroke="#000" stroke-width="4.9"/>
<path d="M686.5,1077.6 L686.5,1088.1" stroke="#000" stroke-width="4.9"/>
<path d="M734.5,1077.6 L734.5,1088.1" stroke="#000" stroke-width="4.9"/>
<path d="M782.5,1077.6 L782.5,1088.1" stroke="#000" stroke-width="4.9"/>
<path d="M830.5,1077.6 L830.5,1088.1" stroke="#000" stroke-width="4.9"/>
<path d="M878.5,1077.6 L878.5,1088.1" stroke="#000" stroke-width="4.9"/>
<path d="M926.5,1077.6 L926.5,1088.1" stroke="#000" stroke-width="4.9"/>
<text x="265.20" y="795.90" font-size="25.5" text-anchor="end" fill="#000" >0.6</text>
<text x="265.20" y="892.70" font-size="25.5" text-anchor="end" fill="#000" >0.4</text>
<text x="265.20" y="989.50" font-size="25.5" text-anchor="end" fill="#000" >0.2</text>
<text x="265.20" y="1086.50" font-size="25.5" text-anchor="end" fill="#000" >0.0</text>
<text transform="translate(214.30,908.50) rotate(-90)" font-size="27.3" font-weight="bold" text-anchor="middle" fill="#000">Relative telomere signals</text>
<text x="350.50" y="1125.50" font-size="31" font-weight="bold" text-anchor="middle" fill="#000" >a</text>
<text x="398.50" y="1125.50" font-size="31" font-weight="bold" text-anchor="middle" fill="#000" >b</text>
<text x="446.50" y="1125.50" font-size="31" font-weight="bold" text-anchor="middle" fill="#000" >c</text>
<text x="494.50" y="1125.50" font-size="31" font-weight="bold" text-anchor="middle" fill="#000" >d</text>
<text x="542.50" y="1125.50" font-size="31" font-weight="bold" text-anchor="middle" fill="#000" >e</text>
<text x="590.50" y="1125.50" font-size="31" font-weight="bold" text-anchor="middle" fill="#000" >f</text>
<text x="638.50" y="1125.50" font-size="31" font-weight="bold" text-anchor="middle" fill="#000" >g</text>
<text x="686.50" y="1125.50" font-size="31" font-weight="bold" text-anchor="middle" fill="#000" >h</text>
<text x="734.50" y="1125.50" font-size="31" font-weight="bold" text-anchor="middle" fill="#000" >i</text>
<text x="782.50" y="1125.50" font-size="31" font-weight="bold" text-anchor="middle" fill="#000" >j</text>
<text x="830.50" y="1125.50" font-size="31" font-weight="bold" text-anchor="middle" fill="#000" >k</text>
<text x="878.50" y="1125.50" font-size="31" font-weight="bold" text-anchor="middle" fill="#000" >l</text>
<text x="926.50" y="1125.50" font-size="31" font-weight="bold" text-anchor="middle" fill="#000" >m</text>
<circle cx="843.50" cy="755.50" r="5.1" fill="#ff0000" stroke="#000" stroke-width="0.9"/>
<path d="M843.50,787.20 L848.70,793.00 L843.50,798.80 L838.30,793.00 Z" fill="#0000ff" stroke="#000" stroke-width="0.8"/>
<path d="M843.50,825.30 L849.00,835.30 L838.00,835.30 Z" fill="#148214" stroke="#000" stroke-width="0.8"/>
<text x="882.00" y="764.50" font-size="25.5" fill="#000" >G4</text>
<text x="882.00" y="802.00" font-size="25.5" fill="#000" >G4.8</text>
<text x="882.00" y="839.50" font-size="25.5" fill="#000" >G4.14</text>
<defs><filter id="b1" x="-20%" y="-100%" width="140%" height="300%"><feGaussianBlur stdDeviation="1"/></filter><filter id="b2" x="-20%" y="-100%" width="140%" height="300%"><feGaussianBlur stdDeviation="1.6"/></filter><filter id="b3" x="-30%" y="-10%" width="160%" height="120%"><feGaussianBlur stdDeviation="3 3"/></filter><filter id="b4" x="-50%" y="-10%" width="200%" height="120%"><feGaussianBlur stdDeviation="5 3"/></filter><filter id="b3b" x="-30%" y="-200%" width="160%" height="500%"><feGaussianBlur stdDeviation="2.6 2.6"/></filter><filter id="sh" x="-5%" y="-10%" width="112%" height="125%"><feGaussianBlur stdDeviation="6"/></filter><clipPath id="gelclip"><rect x="279.1" y="1307.0" width="619.1999999999999" height="293.29999999999995"/></clipPath></defs>
<rect x="281.1" y="1310.0" width="624.2" height="299.3" fill="#000" opacity="0.5" filter="url(#sh)"/>
<rect x="279.1" y="1307.0" width="619.1999999999999" height="293.29999999999995" fill="#fbfbfb"/>
<g clip-path="url(#gelclip)">
<rect x="295.5" y="1344.8" width="24.0" height="10.0" rx="5.0" fill="#000" opacity="0.72" filter="url(#b2)" transform="rotate(0 307.5 1349.8)"/>
<rect x="299.5" y="1449.8" width="22.5" height="6.5" rx="3.2" fill="#000" opacity="0.75" filter="url(#b2)" transform="rotate(0 310.8 1453.0)"/>
<rect x="303.0" y="1520.0" width="22.0" height="6.5" rx="3.2" fill="#000" opacity="0.8" filter="url(#b2)" transform="rotate(0 314.0 1523.3)"/>
<rect x="333.0" y="1344.5" width="23.5" height="7.0" rx="3.5" fill="#000" opacity="0.15" filter="url(#b2)" transform="rotate(0 344.8 1348.0)"/>
<rect x="332.5" y="1353.8" width="24.3" height="11.5" rx="5.8" fill="#000" opacity="0.95" filter="url(#b2)" transform="rotate(0 344.6 1359.6)"/>
<rect x="333.0" y="1378.5" width="23.5" height="8.0" rx="4.0" fill="#000" opacity="0.95" filter="url(#b2)" transform="rotate(0 344.8 1382.5)"/>
<rect x="334.0" y="1389.8" width="22.5" height="5.5" rx="2.8" fill="#000" opacity="0.6" filter="url(#b2)" transform="rotate(0 345.2 1392.5)"/>
<rect x="335.0" y="1407.0" width="21.5" height="5.5" rx="2.8" fill="#000" opacity="0.6" filter="url(#b2)" transform="rotate(0 345.8 1409.7)"/>
<rect x="336.0" y="1434.5" width="20.5" height="6.0" rx="3.0" fill="#000" opacity="0.4" filter="url(#b2)" transform="rotate(0 346.2 1437.5)"/>
<rect x="370.0" y="1542.2" width="24.5" height="11.5" rx="5.8" fill="#000" opacity="1.0" filter="url(#b1)" transform="rotate(0 382.2 1548.0)"/>
<rect x="370.0" y="1543.5" width="24.5" height="9.0" rx="4.5" fill="#000" opacity="1.0" filter="url(#b1)" transform="rotate(0 382.2 1548.0)"/>
<rect x="373.0" y="1583.0" width="20.0" height="4.0" rx="2.0" fill="#000" opacity="0.1" filter="url(#b2)" transform="rotate(0 383.0 1585.0)"/>
<linearGradient id="g1" x1="0" y1="0" x2="0" y2="1"><stop offset="0" stop-color="#000" stop-opacity="0"/><stop offset="0.1" stop-color="#000" stop-opacity="0.18"/><stop offset="0.3" stop-color="#000" stop-opacity="0.35"/><stop offset="0.42" stop-color="#000" stop-opacity="0.25"/><stop offset="0.55" stop-color="#000" stop-opacity="0.12"/><stop offset="0.8" stop-color="#000" stop-opacity="0.05"/><stop offset="1" stop-color="#000" stop-opacity="0"/></linearGradient>
<rect x="404.0" y="1322.0" width="28.0" height="118.0" fill="url(#g1)" filter="url(#b3)"/>
<rect x="405.2" y="1336.5" width="25" height="25" rx="7" fill="#000" filter="url(#b2)"/>
<rect x="405.8" y="1337.5" width="24" height="23" rx="7" fill="#000" filter="url(#b1)"/>
<linearGradient id="g2" x1="0" y1="0" x2="0" y2="1"><stop offset="0" stop-color="#000" stop-opacity="0"/><stop offset="0.08" stop-color="#000" stop-opacity="0.18"/><stop offset="0.2" stop-color="#000" stop-opacity="0.36"/><stop offset="0.4" stop-color="#000" stop-opacity="0.27"/><stop offset="0.62" stop-color="#000" stop-opacity="0.13"/><stop offset="0.85" stop-color="#000" stop-opacity="0.04"/><stop offset="1" stop-color="#000" stop-opacity="0"/></linearGradient>
<rect x="441.0" y="1338.0" width="24.5" height="162.0" fill="url(#g2)" filter="url(#b3)"/>
<rect x="441.5" y="1349.5" width="23.5" height="7.0" rx="3.5" fill="#000" opacity="0.4" filter="url(#b3b)" transform="rotate(0 453.2 1353.0)"/>
<rect x="441.5" y="1357.5" width="23.5" height="9.0" rx="4.5" fill="#000" opacity="0.55" filter="url(#b3b)" transform="rotate(0 453.2 1362.0)"/>
<linearGradient id="g3" x1="0" y1="0" x2="0" y2="1"><stop offset="0" stop-color="#000" stop-opacity="0"/><stop offset="0.12" stop-color="#000" stop-opacity="0.05"/><stop offset="0.25" stop-color="#000" stop-opacity="0.13"/><stop offset="0.55" stop-color="#000" stop-opacity="0.11"/><stop offset="0.8" stop-color="#000" stop-opacity="0.05"/><stop offset="1" stop-color="#000" stop-opacity="0"/></linearGradient>
<rect x="475.0" y="1340.0" width="23.5" height="220.0" fill="url(#g3)" filter="url(#b3)"/>
<rect x="476.0" y="1360.5" width="23.0" height="6.0" rx="3.0" fill="#000" opacity="0.2" filter="url(#b3b)" transform="rotate(0 487.5 1363.5)"/>
<rect x="476.5" y="1548.8" width="20.5" height="5.5" rx="2.8" fill="#000" opacity="0.28" filter="url(#b2)" transform="rotate(0 486.8 1551.5)"/>
<linearGradient id="g4" x1="0" y1="0" x2="0" y2="1"><stop offset="0" stop-color="#000" stop-opacity="0"/><stop offset="0.2" stop-color="#000" stop-opacity="0.07"/><stop offset="0.6" stop-color="#000" stop-opacity="0.08"/><stop offset="0.85" stop-color="#000" stop-opacity="0.03"/><stop offset="1" stop-color="#000" stop-opacity="0"/></linearGradient>
<rect x="509.0" y="1370.0" width="23.5" height="190.0" fill="url(#g4)" filter="url(#b3)"/>
<rect x="510.0" y="1549.0" width="22.0" height="6.0" rx="3.0" fill="#000" opacity="0.6" filter="url(#b2)" transform="rotate(0 521.0 1552.0)"/>
<rect x="511.0" y="1593.5" width="20.0" height="5.0" rx="2.5" fill="#000" opacity="0.1" filter="url(#b2)" transform="rotate(0 521.0 1596.0)"/>
<rect x="477.0" y="1593.5" width="20.0" height="5.0" rx="2.5" fill="#000" opacity="0.07" filter="url(#b2)" transform="rotate(0 487.0 1596.0)"/>
<linearGradient id="g5" x1="0" y1="0" x2="0" y2="1"><stop offset="0" stop-color="#000" stop-opacity="0"/><stop offset="0.1" stop-color="#000" stop-opacity="0.08"/><stop offset="0.3" stop-color="#000" stop-opacity="0.2"/><stop offset="0.5" stop-color="#000" stop-opacity="0.32"/><stop offset="0.65" stop-color="#000" stop-opacity="0.22"/><stop offset="0.85" stop-color="#000" stop-opacity="0.06"/><stop offset="1" stop-color="#000" stop-opacity="0"/></linearGradient>
<rect x="544.5" y="1325.0" width="26.0" height="235.0" fill="url(#g5)" filter="url(#b3)"/>
<linearGradient id="g6" x1="0" y1="0" x2="0" y2="1"><stop offset="0" stop-color="#000" stop-opacity="0"/><stop offset="0.1" stop-color="#000" stop-opacity="0.07"/><stop offset="0.3" stop-color="#000" stop-opacity="0.14"/><stop offset="0.52" stop-color="#000" stop-opacity="0.22"/><stop offset="0.7" stop-color="#000" stop-opacity="0.12"/><stop offset="0.88" stop-color="#000" stop-opacity="0.04"/><stop offset="1" stop-color="#000" stop-opacity="0"/></linearGradient>
<rect x="578.0" y="1325.0" width="27.5" height="235.0" fill="url(#g6)" filter="url(#b3)"/>
<rect x="583.0" y="1344.0" width="23.0" height="6.0" rx="3.0" fill="#000" opacity="0.2" filter="url(#b3b)" transform="rotate(0 594.5 1347.0)"/>
<linearGradient id="g7" x1="0" y1="0" x2="0" y2="1"><stop offset="0" stop-color="#000" stop-opacity="0"/><stop offset="0.12" stop-color="#000" stop-opacity="0.05"/><stop offset="0.45" stop-color="#000" stop-opacity="0.11"/><stop offset="0.7" stop-color="#000" stop-opacity="0.06"/><stop offset="1" stop-color="#000" stop-opacity="0"/></linearGradient>
<rect x="612.0" y="1325.0" width="25.5" height="235.0" fill="url(#g7)" filter="url(#b3)"/>
<rect x="614.0" y="1346.0" width="22.0" height="6.0" rx="3.0" fill="#000" opacity="0.09" filter="url(#b3b)" transform="rotate(0 625.0 1349.0)"/>
<linearGradient id="g8" x1="0" y1="0" x2="0" y2="1"><stop offset="0" stop-color="#000" stop-opacity="0"/><stop offset="0.06" stop-color="#000" stop-opacity="0.12"/><stop offset="0.25" stop-color="#000" stop-opacity="0.24"/><stop offset="0.5" stop-color="#000" stop-opacity="0.27"/><stop offset="0.7" stop-color="#000" stop-opacity="0.16"/><stop offset="0.88" stop-color="#000" stop-opacity="0.05"/><stop offset="1" stop-color="#000" stop-opacity="0"/></linearGradient>
<rect x="651.0" y="1332.0" width="25.5" height="243.0" fill="url(#g8)" filter="url(#b3)"/>
<rect x="652.5" y="1340.0" width="23.5" height="9.0" rx="4.5" fill="#000" opacity="0.36" filter="url(#b3b)" transform="rotate(0 664.2 1344.5)"/>
<rect x="652.5" y="1352.0" width="23.5" height="11.0" rx="5.5" fill="#000" opacity="0.5" filter="url(#b3b)" transform="rotate(0 664.2 1357.5)"/>
<linearGradient id="g9" x1="0" y1="0" x2="0" y2="1"><stop offset="0" stop-color="#000" stop-opacity="0"/><stop offset="0.1" stop-color="#000" stop-opacity="0.05"/><stop offset="0.35" stop-color="#000" stop-opacity="0.14"/><stop offset="0.6" stop-color="#000" stop-opacity="0.15"/><stop offset="0.8" stop-color="#000" stop-opacity="0.06"/><stop offset="1" stop-color="#000" stop-opacity="0"/></linearGradient>
<rect x="686.5" y="1332.0" width="24.0" height="243.0" fill="url(#g9)" filter="url(#b3)"/>
<rect x="688.0" y="1354.0" width="22.0" height="7.0" rx="3.5" fill="#000" opacity="0.13" filter="url(#b3b)" transform="rotate(0 699.0 1357.5)"/>
<linearGradient id="g10" x1="0" y1="0" x2="0" y2="1"><stop offset="0" stop-color="#000" stop-opacity="0"/><stop offset="0.06" stop-color="#000" stop-opacity="0.12"/><stop offset="0.25" stop-color="#000" stop-opacity="0.28"/><stop offset="0.5" stop-color="#000" stop-opacity="0.36"/><stop offset="0.7" stop-color="#000" stop-opacity="0.2"/><stop offset="0.88" stop-color="#000" stop-opacity="0.06"/><stop offset="1" stop-color="#000" stop-opacity="0"/></linearGradient>
<rect x="722.5" y="1332.0" width="24.0" height="248.0" fill="url(#g10)" filter="url(#b3)"/>
<rect x="723.5" y="1342.5" width="22.5" height="8.0" rx="4.0" fill="#000" opacity="0.25" filter="url(#b3b)" transform="rotate(0 734.8 1346.5)"/>
<rect x="723.5" y="1354.0" width="22.5" height="10.0" rx="5.0" fill="#000" opacity="0.42" filter="url(#b3b)" transform="rotate(0 734.8 1359.0)"/>
<linearGradient id="g11" x1="0" y1="0" x2="0" y2="1"><stop offset="0" stop-color="#000" stop-opacity="0.035"/><stop offset="0.5" stop-color="#000" stop-opacity="0.06"/><stop offset="0.8" stop-color="#000" stop-opacity="0.03"/><stop offset="1" stop-color="#000" stop-opacity="0"/></linearGradient>
<rect x="760.0" y="1300.0" width="23.0" height="280.0" fill="url(#g11)" filter="url(#b4)"/>
<rect x="797.5" y="1541.0" width="27.5" height="11.0" rx="5.5" fill="#000" opacity="1.0" filter="url(#b1)" transform="rotate(-3 811.2 1546.5)"/>
<rect x="797.5" y="1542.2" width="27.5" height="8.5" rx="4.2" fill="#000" opacity="1.0" filter="url(#b1)" transform="rotate(-3 811.2 1546.5)"/>
<rect x="803.0" y="1583.0" width="19.0" height="4.0" rx="2.0" fill="#000" opacity="0.2" filter="url(#b2)" transform="rotate(-10 812.5 1585.0)"/>
<rect x="800.0" y="1447.0" width="20.0" height="4.0" rx="2.0" fill="#000" opacity="0.05" filter="url(#b2)" transform="rotate(0 810.0 1449.0)"/>
<rect x="833.0" y="1332.5" width="25.0" height="7.0" rx="3.5" fill="#000" opacity="0.18" filter="url(#b2)" transform="rotate(-3 845.5 1336.0)"/>
<rect x="832.5" y="1346.8" width="26.0" height="6.5" rx="3.2" fill="#000" opacity="0.95" filter="url(#b2)" transform="rotate(-3 845.5 1350.0)"/>
<rect x="832.5" y="1354.5" width="26.0" height="6.0" rx="3.0" fill="#000" opacity="0.85" filter="url(#b2)" transform="rotate(-3 845.5 1357.5)"/>
<rect x="832.5" y="1374.8" width="26.5" height="7.5" rx="3.8" fill="#000" opacity="0.97" filter="url(#b2)" transform="rotate(-4 845.8 1378.5)"/>
<rect x="834.0" y="1388.0" width="24.0" height="5.0" rx="2.5" fill="#000" opacity="0.6" filter="url(#b2)" transform="rotate(-6 846.0 1390.5)"/>
<rect x="835.0" y="1405.5" width="23.5" height="5.0" rx="2.5" fill="#000" opacity="0.65" filter="url(#b2)" transform="rotate(-8 846.8 1408.0)"/>
<rect x="835.5" y="1434.2" width="22.5" height="5.5" rx="2.8" fill="#000" opacity="0.35" filter="url(#b2)" transform="rotate(-9 846.8 1437.0)"/>
<rect x="870.5" y="1339.0" width="24.5" height="7.0" rx="3.5" fill="#000" opacity="0.97" filter="url(#b1)" transform="rotate(-8 882.8 1342.5)"/>
<rect x="872.0" y="1445.2" width="23.0" height="4.5" rx="2.2" fill="#000" opacity="0.7" filter="url(#b2)" transform="rotate(-12 883.5 1447.5)"/>
<rect x="871.5" y="1513.8" width="23.0" height="4.5" rx="2.2" fill="#000" opacity="0.7" filter="url(#b2)" transform="rotate(-13 883.0 1516.0)"/>
</g>
<path d="M434.3,1307.0 L434.3,1601.3" stroke="#fc0010" stroke-width="2.15" stroke-dasharray="7.7,5.5" fill="none"/>
<path d="M541.3,1307.0 L541.3,1601.3" stroke="#fc0010" stroke-width="2.15" stroke-dasharray="7.7,5.5" fill="none"/>
<path d="M643.5,1307.0 L643.5,1601.3" stroke="#fc0010" stroke-width="2.15" stroke-dasharray="7.7,5.5" fill="none"/>
<path d="M750.2,1307.0 L750.2,1601.3" stroke="#fc0010" stroke-width="2.15" stroke-dasharray="7.7,5.5" fill="none"/>
<rect x="279.1" y="1307.0" width="619.1999999999999" height="293.29999999999995" fill="none" stroke="#000" stroke-width="3.8"/>
<rect x="282.6" y="1347.0" width="10.8" height="8" fill="#ff0000"/>
<rect x="282.6" y="1359.0" width="10.8" height="8" fill="#ff0000"/>
<rect x="282.6" y="1375.5" width="10.8" height="8" fill="#ff0000"/>
<rect x="282.6" y="1404.3" width="10.8" height="8" fill="#ff0000"/>
<rect x="282.6" y="1431.8" width="10.8" height="8" fill="#ff0000"/>
<rect x="282.6" y="1447.3" width="10.8" height="8" fill="#ff0000"/>
<rect x="282.6" y="1486.0" width="10.8" height="8" fill="#ff0000"/>
<rect x="282.6" y="1516.8" width="10.8" height="8" fill="#ff0000"/>
<rect x="282.6" y="1539.3" width="10.8" height="8" fill="#ff0000"/>
<text x="269.30" y="1360.20" font-size="21.5" text-anchor="end" fill="#000" >23</text>
<text x="269.30" y="1373.80" font-size="21.5" text-anchor="end" fill="#000" >20</text>
<text x="269.30" y="1391.30" font-size="21.5" text-anchor="end" fill="#000" >15</text>
<text x="270.00" y="1421.30" font-size="21.5" text-anchor="end" fill="#000" >12</text>
<text x="269.50" y="1447.50" font-size="21.5" text-anchor="end" fill="#000" >10</text>
<text x="272.30" y="1464.50" font-size="21.5" text-anchor="end" fill="#000" >9.4</text>
<text x="272.80" y="1498.80" font-size="21.5" text-anchor="end" fill="#000" >8.0</text>
<text x="272.80" y="1528.30" font-size="21.5" text-anchor="end" fill="#000" >6.5</text>
<text x="272.80" y="1552.00" font-size="21.5" text-anchor="end" fill="#000" >6.0</text>
<text x="229.00" y="1332.50" font-size="22.5" fill="#000" >(kb)</text>
<text x="313.60" y="1271.00" font-size="28.2" font-weight="bold" fill="#000" >MW</text>
<text x="817.80" y="1271.00" font-size="28.2" font-weight="bold" fill="#000" >MW</text>
<path d="M288.9,1292.6 L288.9,1281.2 Q288.9,1279.2 290.9,1279.2 L378.7,1279.2 Q380.7,1279.2 380.7,1281.2 L380.7,1292.6" fill="none" stroke="#000" stroke-width="6.3" stroke-linejoin="round"/>
<path d="M793.7,1292.6 L793.7,1281.2 Q793.7,1279.2 795.7,1279.2 L883.5,1279.2 Q885.5,1279.2 885.5,1281.2 L885.5,1292.6" fill="none" stroke="#000" stroke-width="6.3" stroke-linejoin="round"/>
<text transform="translate(430.8,1301.2) rotate(-90)" font-size="30" font-weight="bold" font-style="italic">Tert<tspan font-size="23" dy="-11.4" dx="-3">+/+</tspan></text>
<text transform="translate(775.2,1303.4) rotate(-90)" font-size="26.5" font-weight="bold">NHF<tspan font-size="20.3" font-weight="normal" dx="1">(P11)</tspan></text>
<text x="489.40" y="1270.00" font-size="26.3" font-weight="bold" text-anchor="middle" fill="#000" >G4</text>
<text x="592.00" y="1270.00" font-size="26.3" font-weight="bold" text-anchor="middle" fill="#000" >G4.8</text>
<text x="695.50" y="1270.00" font-size="26.3" font-weight="bold" text-anchor="middle" fill="#000" >G4.14</text>
<path d="M446.3,1273.3 L531.3,1273.2" stroke="#000" stroke-width="5.3"/>
<path d="M549.3,1273.3 L634.3,1273.2" stroke="#000" stroke-width="5.3"/>
<path d="M652.5,1273.3 L737.5,1273.2" stroke="#000" stroke-width="5.3"/>
<text x="453.90" y="1304.50" font-size="27" font-weight="bold" text-anchor="middle" fill="#000" >k</text>
<text x="484.40" y="1304.50" font-size="27" font-weight="bold" text-anchor="middle" fill="#000" >l</text>
<text x="521.20" y="1304.50" font-size="27" font-weight="bold" text-anchor="middle" fill="#000" >m</text>
<text x="560.80" y="1304.50" font-size="27" font-weight="bold" text-anchor="middle" fill="#000" >g</text>
<text x="596.80" y="1304.50" font-size="27" font-weight="bold" text-anchor="middle" fill="#000" >h</text>
<text x="630.40" y="1304.50" font-size="27" font-weight="bold" text-anchor="middle" fill="#000" >i</text>
<text x="695.80" y="1304.50" font-size="27" font-weight="bold" text-anchor="middle" fill="#000" >a</text>
<text x="732.00" y="1304.50" font-size="27" font-weight="bold" text-anchor="middle" fill="#000" >b</text>
<circle cx="301.80" cy="1743.04" r="2.6" fill="#0000e0" stroke="#000" stroke-width="0.6"/>
<circle cx="301.80" cy="1746.80" r="2.6" fill="#0000e0" stroke="#000" stroke-width="0.6"/>
<circle cx="301.80" cy="1750.55" r="2.6" fill="#0000e0" stroke="#000" stroke-width="0.6"/>
<circle cx="301.80" cy="1754.30" r="2.6" fill="#0000e0" stroke="#000" stroke-width="0.6"/>
<circle cx="301.80" cy="1758.06" r="2.6" fill="#0000e0" stroke="#000" stroke-width="0.6"/>
<circle cx="301.80" cy="1762.06" r="2.6" fill="#0000e0" stroke="#000" stroke-width="0.6"/>
<path d="M301.80,1745.38 L301.80,1759.56 M300.55,1745.38 L303.05,1745.38 M300.55,1759.56 L303.05,1759.56" stroke="#000" stroke-width="1.5" fill="none"/>
<path d="M300.05,1752.47 L303.55,1752.47" stroke="#000" stroke-width="1.2" fill="none"/>
<rect x="307.20" y="1779.68" width="4.8" height="4.8" fill="#f66ac8" stroke="#5a1040" stroke-width="0.7"/>
<rect x="307.20" y="1783.19" width="4.8" height="4.8" fill="#f66ac8" stroke="#5a1040" stroke-width="0.7"/>
<rect x="307.20" y="1786.44" width="4.8" height="4.8" fill="#f66ac8" stroke="#5a1040" stroke-width="0.7"/>
<rect x="307.20" y="1789.94" width="4.8" height="4.8" fill="#f66ac8" stroke="#5a1040" stroke-width="0.7"/>
<rect x="307.20" y="1793.45" width="4.8" height="4.8" fill="#f66ac8" stroke="#5a1040" stroke-width="0.7"/>
<path d="M309.60,1783.52 L309.60,1794.36 M308.35,1783.52 L310.85,1783.52 M308.35,1794.36 L310.85,1794.36" stroke="#000" stroke-width="1.5" fill="none"/>
<path d="M307.85,1788.94 L311.35,1788.94" stroke="#000" stroke-width="1.2" fill="none"/>
<circle cx="342.32" cy="1734.53" r="2.6" fill="#0000e0" stroke="#000" stroke-width="0.6"/>
<circle cx="342.32" cy="1747.55" r="2.6" fill="#0000e0" stroke="#000" stroke-width="0.6"/>
<path d="M342.32,1731.84 L342.32,1750.24 M341.07,1731.84 L343.57,1731.84 M341.07,1750.24 L343.57,1750.24" stroke="#000" stroke-width="1.5" fill="none"/>
<path d="M340.57,1741.04 L344.07,1741.04" stroke="#000" stroke-width="1.2" fill="none"/>
<rect x="347.72" y="1740.14" width="4.8" height="4.8" fill="#f66ac8" stroke="#5a1040" stroke-width="0.7"/>
<circle cx="362.59" cy="1730.78" r="2.6" fill="#0000e0" stroke="#000" stroke-width="0.6"/>
<circle cx="362.59" cy="1750.05" r="2.6" fill="#0000e0" stroke="#000" stroke-width="0.6"/>
<circle cx="362.59" cy="1762.56" r="2.6" fill="#0000e0" stroke="#000" stroke-width="0.6"/>
<path d="M362.59,1731.79 L362.59,1763.81 M361.34,1731.79 L363.84,1731.79 M361.34,1763.81 L363.84,1763.81" stroke="#000" stroke-width="1.5" fill="none"/>
<path d="M360.84,1747.80 L364.34,1747.80" stroke="#000" stroke-width="1.2" fill="none"/>
<rect x="367.99" y="1767.67" width="4.8" height="4.8" fill="#f66ac8" stroke="#5a1040" stroke-width="0.7"/>
<rect x="367.99" y="1777.68" width="4.8" height="4.8" fill="#f66ac8" stroke="#5a1040" stroke-width="0.7"/>
<rect x="367.99" y="1783.94" width="4.8" height="4.8" fill="#f66ac8" stroke="#5a1040" stroke-width="0.7"/>
<rect x="367.99" y="1795.95" width="4.8" height="4.8" fill="#f66ac8" stroke="#5a1040" stroke-width="0.7"/>
<path d="M370.39,1771.87 L370.39,1795.55 M369.14,1771.87 L371.64,1771.87 M369.14,1795.55 L371.64,1795.55" stroke="#000" stroke-width="1.5" fill="none"/>
<path d="M368.64,1783.71 L372.14,1783.71" stroke="#000" stroke-width="1.2" fill="none"/>
<circle cx="382.85" cy="1745.05" r="2.6" fill="#0000e0" stroke="#000" stroke-width="0.6"/>
<circle cx="382.85" cy="1753.80" r="2.6" fill="#0000e0" stroke="#000" stroke-width="0.6"/>
<circle cx="382.85" cy="1765.07" r="2.6" fill="#0000e0" stroke="#000" stroke-width="0.6"/>
<circle cx="382.85" cy="1767.57" r="2.6" fill="#0000e0" stroke="#000" stroke-width="0.6"/>
<path d="M382.85,1747.43 L382.85,1768.31 M381.60,1747.43 L384.10,1747.43 M381.60,1768.31 L384.10,1768.31" stroke="#000" stroke-width="1.5" fill="none"/>
<path d="M381.10,1757.87 L384.60,1757.87" stroke="#000" stroke-width="1.2" fill="none"/>
<rect x="388.25" y="1777.18" width="4.8" height="4.8" fill="#f66ac8" stroke="#5a1040" stroke-width="0.7"/>
<rect x="388.25" y="1783.94" width="4.8" height="4.8" fill="#f66ac8" stroke="#5a1040" stroke-width="0.7"/>
<path d="M390.65,1778.18 L390.65,1787.74 M389.40,1778.18 L391.90,1778.18 M389.40,1787.74 L391.90,1787.74" stroke="#000" stroke-width="1.5" fill="none"/>
<path d="M388.90,1782.96 L392.40,1782.96" stroke="#000" stroke-width="1.2" fill="none"/>
<circle cx="403.11" cy="1745.80" r="2.6" fill="#0000e0" stroke="#000" stroke-width="0.6"/>
<circle cx="403.11" cy="1750.05" r="2.6" fill="#0000e0" stroke="#000" stroke-width="0.6"/>
<circle cx="403.11" cy="1753.80" r="2.6" fill="#0000e0" stroke="#000" stroke-width="0.6"/>
<circle cx="403.11" cy="1756.31" r="2.6" fill="#0000e0" stroke="#000" stroke-width="0.6"/>
<path d="M403.11,1746.90 L403.11,1756.07 M401.86,1746.90 L404.36,1746.90 M401.86,1756.07 L404.36,1756.07" stroke="#000" stroke-width="1.5" fill="none"/>
<path d="M401.36,1751.49 L404.86,1751.49" stroke="#000" stroke-width="1.2" fill="none"/>
<rect x="408.51" y="1777.68" width="4.8" height="4.8" fill="#f66ac8" stroke="#5a1040" stroke-width="0.7"/>
<rect x="408.51" y="1786.44" width="4.8" height="4.8" fill="#f66ac8" stroke="#5a1040" stroke-width="0.7"/>
<rect x="408.51" y="1791.44" width="4.8" height="4.8" fill="#f66ac8" stroke="#5a1040" stroke-width="0.7"/>
<rect x="408.51" y="1828.73" width="4.8" height="4.8" fill="#f66ac8" stroke="#5a1040" stroke-width="0.7"/>
<path d="M410.91,1775.97 L410.91,1820.98 M409.66,1775.97 L412.16,1775.97 M409.66,1820.98 L412.16,1820.98" stroke="#000" stroke-width="1.5" fill="none"/>
<path d="M409.16,1798.47 L412.66,1798.47" stroke="#000" stroke-width="1.2" fill="none"/>
<circle cx="423.37" cy="1733.78" r="2.6" fill="#0000e0" stroke="#000" stroke-width="0.6"/>
<circle cx="423.37" cy="1740.54" r="2.6" fill="#0000e0" stroke="#000" stroke-width="0.6"/>
<circle cx="423.37" cy="1746.30" r="2.6" fill="#0000e0" stroke="#000" stroke-width="0.6"/>
<circle cx="423.37" cy="1756.31" r="2.6" fill="#0000e0" stroke="#000" stroke-width="0.6"/>
<circle cx="423.37" cy="1760.06" r="2.6" fill="#0000e0" stroke="#000" stroke-width="0.6"/>
<circle cx="423.37" cy="1762.56" r="2.6" fill="#0000e0" stroke="#000" stroke-width="0.6"/>
<circle cx="423.37" cy="1770.82" r="2.6" fill="#0000e0" stroke="#000" stroke-width="0.6"/>
<path d="M423.37,1739.75 L423.37,1766.07 M422.12,1739.75 L424.62,1739.75 M422.12,1766.07 L424.62,1766.07" stroke="#000" stroke-width="1.5" fill="none"/>
<path d="M421.62,1752.91 L425.12,1752.91" stroke="#000" stroke-width="1.2" fill="none"/>
<rect x="428.77" y="1780.18" width="4.8" height="4.8" fill="#f66ac8" stroke="#5a1040" stroke-width="0.7"/>
<rect x="428.77" y="1785.19" width="4.8" height="4.8" fill="#f66ac8" stroke="#5a1040" stroke-width="0.7"/>
<rect x="428.77" y="1790.19" width="4.8" height="4.8" fill="#f66ac8" stroke="#5a1040" stroke-width="0.7"/>
<rect x="428.77" y="1796.45" width="4.8" height="4.8" fill="#f66ac8" stroke="#5a1040" stroke-width="0.7"/>
<path d="M431.17,1783.45 L431.17,1797.36 M429.92,1783.45 L432.42,1783.45 M429.92,1797.36 L432.42,1797.36" stroke="#000" stroke-width="1.5" fill="none"/>
<path d="M429.42,1790.40 L432.92,1790.40" stroke="#000" stroke-width="1.2" fill="none"/>
<circle cx="443.63" cy="1752.55" r="2.6" fill="#0000e0" stroke="#000" stroke-width="0.6"/>
<circle cx="443.63" cy="1760.06" r="2.6" fill="#0000e0" stroke="#000" stroke-width="0.6"/>
<circle cx="443.63" cy="1763.81" r="2.6" fill="#0000e0" stroke="#000" stroke-width="0.6"/>
<circle cx="443.63" cy="1766.32" r="2.6" fill="#0000e0" stroke="#000" stroke-width="0.6"/>
<circle cx="443.63" cy="1771.82" r="2.6" fill="#0000e0" stroke="#000" stroke-width="0.6"/>
<path d="M443.63,1755.72 L443.63,1770.11 M442.38,1755.72 L444.88,1755.72 M442.38,1770.11 L444.88,1770.11" stroke="#000" stroke-width="1.5" fill="none"/>
<path d="M441.88,1762.91 L445.38,1762.91" stroke="#000" stroke-width="1.2" fill="none"/>
<rect x="449.03" y="1783.94" width="4.8" height="4.8" fill="#f66ac8" stroke="#5a1040" stroke-width="0.7"/>
<rect x="449.03" y="1790.19" width="4.8" height="4.8" fill="#f66ac8" stroke="#5a1040" stroke-width="0.7"/>
<rect x="449.03" y="1793.95" width="4.8" height="4.8" fill="#f66ac8" stroke="#5a1040" stroke-width="0.7"/>
<rect x="449.03" y="1797.70" width="4.8" height="4.8" fill="#f66ac8" stroke="#5a1040" stroke-width="0.7"/>
<rect x="449.03" y="1801.45" width="4.8" height="4.8" fill="#f66ac8" stroke="#5a1040" stroke-width="0.7"/>
<path d="M451.43,1789.07 L451.43,1802.62 M450.18,1789.07 L452.68,1789.07 M450.18,1802.62 L452.68,1802.62" stroke="#000" stroke-width="1.5" fill="none"/>
<path d="M449.68,1795.85 L453.18,1795.85" stroke="#000" stroke-width="1.2" fill="none"/>
<circle cx="463.90" cy="1745.05" r="2.6" fill="#0000e0" stroke="#000" stroke-width="0.6"/>
<circle cx="463.90" cy="1748.80" r="2.6" fill="#0000e0" stroke="#000" stroke-width="0.6"/>
<circle cx="463.90" cy="1757.56" r="2.6" fill="#0000e0" stroke="#000" stroke-width="0.6"/>
<circle cx="463.90" cy="1760.06" r="2.6" fill="#0000e0" stroke="#000" stroke-width="0.6"/>
<circle cx="463.90" cy="1770.82" r="2.6" fill="#0000e0" stroke="#000" stroke-width="0.6"/>
<path d="M463.90,1746.34 L463.90,1766.57 M462.65,1746.34 L465.15,1746.34 M462.65,1766.57 L465.15,1766.57" stroke="#000" stroke-width="1.5" fill="none"/>
<path d="M462.15,1756.46 L465.65,1756.46" stroke="#000" stroke-width="1.2" fill="none"/>
<rect x="469.30" y="1773.18" width="4.8" height="4.8" fill="#f66ac8" stroke="#5a1040" stroke-width="0.7"/>
<rect x="469.30" y="1791.44" width="4.8" height="4.8" fill="#f66ac8" stroke="#5a1040" stroke-width="0.7"/>
<rect x="469.30" y="1798.95" width="4.8" height="4.8" fill="#f66ac8" stroke="#5a1040" stroke-width="0.7"/>
<rect x="469.30" y="1826.98" width="4.8" height="4.8" fill="#f66ac8" stroke="#5a1040" stroke-width="0.7"/>
<path d="M471.70,1777.68 L471.70,1822.39 M470.45,1777.68 L472.95,1777.68 M470.45,1822.39 L472.95,1822.39" stroke="#000" stroke-width="1.5" fill="none"/>
<path d="M469.95,1800.04 L473.45,1800.04" stroke="#000" stroke-width="1.2" fill="none"/>
<circle cx="484.16" cy="1740.04" r="2.6" fill="#0000e0" stroke="#000" stroke-width="0.6"/>
<circle cx="484.16" cy="1747.55" r="2.6" fill="#0000e0" stroke="#000" stroke-width="0.6"/>
<circle cx="484.16" cy="1751.30" r="2.6" fill="#0000e0" stroke="#000" stroke-width="0.6"/>
<circle cx="484.16" cy="1757.56" r="2.6" fill="#0000e0" stroke="#000" stroke-width="0.6"/>
<circle cx="484.16" cy="1763.81" r="2.6" fill="#0000e0" stroke="#000" stroke-width="0.6"/>
<circle cx="484.16" cy="1772.07" r="2.6" fill="#0000e0" stroke="#000" stroke-width="0.6"/>
<path d="M484.16,1743.83 L484.16,1766.95 M482.91,1743.83 L485.41,1743.83 M482.91,1766.95 L485.41,1766.95" stroke="#000" stroke-width="1.5" fill="none"/>
<path d="M482.41,1755.39 L485.91,1755.39" stroke="#000" stroke-width="1.2" fill="none"/>
<rect x="489.56" y="1772.68" width="4.8" height="4.8" fill="#f66ac8" stroke="#5a1040" stroke-width="0.7"/>
<rect x="489.56" y="1787.69" width="4.8" height="4.8" fill="#f66ac8" stroke="#5a1040" stroke-width="0.7"/>
<rect x="489.56" y="1791.44" width="4.8" height="4.8" fill="#f66ac8" stroke="#5a1040" stroke-width="0.7"/>
<rect x="489.56" y="1795.20" width="4.8" height="4.8" fill="#f66ac8" stroke="#5a1040" stroke-width="0.7"/>
<path d="M491.96,1779.28 L491.96,1799.02 M490.71,1779.28 L493.21,1779.28 M490.71,1799.02 L493.21,1799.02" stroke="#000" stroke-width="1.5" fill="none"/>
<path d="M490.21,1789.15 L493.71,1789.15" stroke="#000" stroke-width="1.2" fill="none"/>
<circle cx="504.42" cy="1734.53" r="2.6" fill="#0000e0" stroke="#000" stroke-width="0.6"/>
<circle cx="504.42" cy="1741.29" r="2.6" fill="#0000e0" stroke="#000" stroke-width="0.6"/>
<circle cx="504.42" cy="1745.05" r="2.6" fill="#0000e0" stroke="#000" stroke-width="0.6"/>
<circle cx="504.42" cy="1753.80" r="2.6" fill="#0000e0" stroke="#000" stroke-width="0.6"/>
<circle cx="504.42" cy="1758.81" r="2.6" fill="#0000e0" stroke="#000" stroke-width="0.6"/>
<circle cx="504.42" cy="1761.31" r="2.6" fill="#0000e0" stroke="#000" stroke-width="0.6"/>
<path d="M504.42,1738.60 L504.42,1759.67 M503.17,1738.60 L505.67,1738.60 M503.17,1759.67 L505.67,1759.67" stroke="#000" stroke-width="1.5" fill="none"/>
<path d="M502.67,1749.13 L506.17,1749.13" stroke="#000" stroke-width="1.2" fill="none"/>
<rect x="509.82" y="1780.18" width="4.8" height="4.8" fill="#f66ac8" stroke="#5a1040" stroke-width="0.7"/>
<rect x="509.82" y="1786.44" width="4.8" height="4.8" fill="#f66ac8" stroke="#5a1040" stroke-width="0.7"/>
<rect x="509.82" y="1791.44" width="4.8" height="4.8" fill="#f66ac8" stroke="#5a1040" stroke-width="0.7"/>
<rect x="509.82" y="1797.70" width="4.8" height="4.8" fill="#f66ac8" stroke="#5a1040" stroke-width="0.7"/>
<path d="M512.22,1783.90 L512.22,1798.78 M510.97,1783.90 L513.47,1783.90 M510.97,1798.78 L513.47,1798.78" stroke="#000" stroke-width="1.5" fill="none"/>
<path d="M510.47,1791.34 L513.97,1791.34" stroke="#000" stroke-width="1.2" fill="none"/>
<circle cx="524.68" cy="1745.80" r="2.6" fill="#0000e0" stroke="#000" stroke-width="0.6"/>
<circle cx="524.68" cy="1756.31" r="2.6" fill="#0000e0" stroke="#000" stroke-width="0.6"/>
<circle cx="524.68" cy="1808.36" r="2.6" fill="#0000e0" stroke="#000" stroke-width="0.6"/>
<path d="M524.68,1736.65 L524.68,1803.65 M523.43,1736.65 L525.93,1736.65 M523.43,1803.65 L525.93,1803.65" stroke="#000" stroke-width="1.5" fill="none"/>
<path d="M522.93,1770.15 L526.43,1770.15" stroke="#000" stroke-width="1.2" fill="none"/>
<rect x="530.08" y="1775.18" width="4.8" height="4.8" fill="#f66ac8" stroke="#5a1040" stroke-width="0.7"/>
<rect x="530.08" y="1778.93" width="4.8" height="4.8" fill="#f66ac8" stroke="#5a1040" stroke-width="0.7"/>
<rect x="530.08" y="1783.94" width="4.8" height="4.8" fill="#f66ac8" stroke="#5a1040" stroke-width="0.7"/>
<rect x="530.08" y="1788.94" width="4.8" height="4.8" fill="#f66ac8" stroke="#5a1040" stroke-width="0.7"/>
<rect x="530.08" y="1796.45" width="4.8" height="4.8" fill="#f66ac8" stroke="#5a1040" stroke-width="0.7"/>
<path d="M532.48,1778.71 L532.48,1795.46 M531.23,1778.71 L533.73,1778.71 M531.23,1795.46 L533.73,1795.46" stroke="#000" stroke-width="1.5" fill="none"/>
<path d="M530.73,1787.09 L534.23,1787.09" stroke="#000" stroke-width="1.2" fill="none"/>
<circle cx="544.94" cy="1743.04" r="2.6" fill="#0000e0" stroke="#000" stroke-width="0.6"/>
<circle cx="544.94" cy="1750.05" r="2.6" fill="#0000e0" stroke="#000" stroke-width="0.6"/>
<circle cx="544.94" cy="1753.80" r="2.6" fill="#0000e0" stroke="#000" stroke-width="0.6"/>
<circle cx="544.94" cy="1757.56" r="2.6" fill="#0000e0" stroke="#000" stroke-width="0.6"/>
<circle cx="544.94" cy="1767.57" r="2.6" fill="#0000e0" stroke="#000" stroke-width="0.6"/>
<path d="M544.94,1745.30 L544.94,1763.51 M543.69,1745.30 L546.19,1745.30 M543.69,1763.51 L546.19,1763.51" stroke="#000" stroke-width="1.5" fill="none"/>
<path d="M543.19,1754.40 L546.69,1754.40" stroke="#000" stroke-width="1.2" fill="none"/>
<rect x="550.34" y="1770.67" width="4.8" height="4.8" fill="#f66ac8" stroke="#5a1040" stroke-width="0.7"/>
<rect x="550.34" y="1780.18" width="4.8" height="4.8" fill="#f66ac8" stroke="#5a1040" stroke-width="0.7"/>
<rect x="550.34" y="1785.19" width="4.8" height="4.8" fill="#f66ac8" stroke="#5a1040" stroke-width="0.7"/>
<rect x="550.34" y="1788.94" width="4.8" height="4.8" fill="#f66ac8" stroke="#5a1040" stroke-width="0.7"/>
<rect x="550.34" y="1793.95" width="4.8" height="4.8" fill="#f66ac8" stroke="#5a1040" stroke-width="0.7"/>
<path d="M552.74,1777.29 L552.74,1795.08 M551.49,1777.29 L553.99,1777.29 M551.49,1795.08 L553.99,1795.08" stroke="#000" stroke-width="1.5" fill="none"/>
<path d="M550.99,1786.19 L554.49,1786.19" stroke="#000" stroke-width="1.2" fill="none"/>
<circle cx="565.21" cy="1734.53" r="2.6" fill="#0000e0" stroke="#000" stroke-width="0.6"/>
<circle cx="565.21" cy="1743.79" r="2.6" fill="#0000e0" stroke="#000" stroke-width="0.6"/>
<circle cx="565.21" cy="1747.55" r="2.6" fill="#0000e0" stroke="#000" stroke-width="0.6"/>
<circle cx="565.21" cy="1751.30" r="2.6" fill="#0000e0" stroke="#000" stroke-width="0.6"/>
<circle cx="565.21" cy="1755.06" r="2.6" fill="#0000e0" stroke="#000" stroke-width="0.6"/>
<circle cx="565.21" cy="1759.56" r="2.6" fill="#0000e0" stroke="#000" stroke-width="0.6"/>
<circle cx="565.21" cy="1775.08" r="2.6" fill="#0000e0" stroke="#000" stroke-width="0.6"/>
<path d="M565.21,1739.56 L565.21,1765.26 M563.96,1739.56 L566.46,1739.56 M563.96,1765.26 L566.46,1765.26" stroke="#000" stroke-width="1.5" fill="none"/>
<path d="M563.46,1752.41 L566.96,1752.41" stroke="#000" stroke-width="1.2" fill="none"/>
<rect x="570.61" y="1770.17" width="4.8" height="4.8" fill="#f66ac8" stroke="#5a1040" stroke-width="0.7"/>
<rect x="570.61" y="1776.43" width="4.8" height="4.8" fill="#f66ac8" stroke="#5a1040" stroke-width="0.7"/>
<rect x="570.61" y="1785.19" width="4.8" height="4.8" fill="#f66ac8" stroke="#5a1040" stroke-width="0.7"/>
<rect x="570.61" y="1791.44" width="4.8" height="4.8" fill="#f66ac8" stroke="#5a1040" stroke-width="0.7"/>
<rect x="570.61" y="1802.20" width="4.8" height="4.8" fill="#f66ac8" stroke="#5a1040" stroke-width="0.7"/>
<path d="M573.01,1774.93 L573.01,1800.05 M571.76,1774.93 L574.26,1774.93 M571.76,1800.05 L574.26,1800.05" stroke="#000" stroke-width="1.5" fill="none"/>
<path d="M571.26,1787.49 L574.76,1787.49" stroke="#000" stroke-width="1.2" fill="none"/>
<circle cx="585.47" cy="1731.28" r="2.6" fill="#0000e0" stroke="#000" stroke-width="0.6"/>
<circle cx="585.47" cy="1737.54" r="2.6" fill="#0000e0" stroke="#000" stroke-width="0.6"/>
<circle cx="585.47" cy="1745.05" r="2.6" fill="#0000e0" stroke="#000" stroke-width="0.6"/>
<circle cx="585.47" cy="1752.55" r="2.6" fill="#0000e0" stroke="#000" stroke-width="0.6"/>
<circle cx="585.47" cy="1762.56" r="2.6" fill="#0000e0" stroke="#000" stroke-width="0.6"/>
<circle cx="585.47" cy="1770.07" r="2.6" fill="#0000e0" stroke="#000" stroke-width="0.6"/>
<circle cx="585.47" cy="1773.32" r="2.6" fill="#0000e0" stroke="#000" stroke-width="0.6"/>
<path d="M585.47,1737.02 L585.47,1769.37 M584.22,1737.02 L586.72,1737.02 M584.22,1769.37 L586.72,1769.37" stroke="#000" stroke-width="1.5" fill="none"/>
<path d="M583.72,1753.20 L587.22,1753.20" stroke="#000" stroke-width="1.2" fill="none"/>
<rect x="590.87" y="1779.68" width="4.8" height="4.8" fill="#f66ac8" stroke="#5a1040" stroke-width="0.7"/>
<rect x="590.87" y="1785.19" width="4.8" height="4.8" fill="#f66ac8" stroke="#5a1040" stroke-width="0.7"/>
<rect x="590.87" y="1798.95" width="4.8" height="4.8" fill="#f66ac8" stroke="#5a1040" stroke-width="0.7"/>
<rect x="590.87" y="1805.21" width="4.8" height="4.8" fill="#f66ac8" stroke="#5a1040" stroke-width="0.7"/>
<path d="M593.27,1782.82 L593.27,1806.50 M592.02,1782.82 L594.52,1782.82 M592.02,1806.50 L594.52,1806.50" stroke="#000" stroke-width="1.5" fill="none"/>
<path d="M591.52,1794.66 L595.02,1794.66" stroke="#000" stroke-width="1.2" fill="none"/>
<circle cx="625.99" cy="1746.80" r="2.6" fill="#0000e0" stroke="#000" stroke-width="0.6"/>
<circle cx="625.99" cy="1752.55" r="2.6" fill="#0000e0" stroke="#000" stroke-width="0.6"/>
<circle cx="625.99" cy="1758.06" r="2.6" fill="#0000e0" stroke="#000" stroke-width="0.6"/>
<circle cx="625.99" cy="1761.31" r="2.6" fill="#0000e0" stroke="#000" stroke-width="0.6"/>
<circle cx="625.99" cy="1777.08" r="2.6" fill="#0000e0" stroke="#000" stroke-width="0.6"/>
<path d="M625.99,1747.72 L625.99,1770.60 M624.74,1747.72 L627.24,1747.72 M624.74,1770.60 L627.24,1770.60" stroke="#000" stroke-width="1.5" fill="none"/>
<path d="M624.24,1759.16 L627.74,1759.16" stroke="#000" stroke-width="1.2" fill="none"/>
<rect x="631.39" y="1783.94" width="4.8" height="4.8" fill="#f66ac8" stroke="#5a1040" stroke-width="0.7"/>
<rect x="631.39" y="1791.44" width="4.8" height="4.8" fill="#f66ac8" stroke="#5a1040" stroke-width="0.7"/>
<rect x="631.39" y="1795.20" width="4.8" height="4.8" fill="#f66ac8" stroke="#5a1040" stroke-width="0.7"/>
<path d="M633.79,1786.86 L633.79,1798.33 M632.54,1786.86 L635.04,1786.86 M632.54,1798.33 L635.04,1798.33" stroke="#000" stroke-width="1.5" fill="none"/>
<path d="M632.04,1792.59 L635.54,1792.59" stroke="#000" stroke-width="1.2" fill="none"/>
<circle cx="646.25" cy="1743.79" r="2.6" fill="#0000e0" stroke="#000" stroke-width="0.6"/>
<circle cx="646.25" cy="1751.30" r="2.6" fill="#0000e0" stroke="#000" stroke-width="0.6"/>
<circle cx="646.25" cy="1755.06" r="2.6" fill="#0000e0" stroke="#000" stroke-width="0.6"/>
<circle cx="646.25" cy="1760.06" r="2.6" fill="#0000e0" stroke="#000" stroke-width="0.6"/>
<circle cx="646.25" cy="1763.81" r="2.6" fill="#0000e0" stroke="#000" stroke-width="0.6"/>
<circle cx="646.25" cy="1767.57" r="2.6" fill="#0000e0" stroke="#000" stroke-width="0.6"/>
<circle cx="646.25" cy="1778.83" r="2.6" fill="#0000e0" stroke="#000" stroke-width="0.6"/>
<path d="M646.25,1748.59 L646.25,1771.53 M645.00,1748.59 L647.50,1748.59 M645.00,1771.53 L647.50,1771.53" stroke="#000" stroke-width="1.5" fill="none"/>
<path d="M644.50,1760.06 L648.00,1760.06" stroke="#000" stroke-width="1.2" fill="none"/>
<rect x="651.65" y="1785.19" width="4.8" height="4.8" fill="#f66ac8" stroke="#5a1040" stroke-width="0.7"/>
<rect x="651.65" y="1790.19" width="4.8" height="4.8" fill="#f66ac8" stroke="#5a1040" stroke-width="0.7"/>
<rect x="651.65" y="1792.70" width="4.8" height="4.8" fill="#f66ac8" stroke="#5a1040" stroke-width="0.7"/>
<path d="M654.05,1787.94 L654.05,1795.58 M652.80,1787.94 L655.30,1787.94 M652.80,1795.58 L655.30,1795.58" stroke="#000" stroke-width="1.5" fill="none"/>
<path d="M652.30,1791.76 L655.80,1791.76" stroke="#000" stroke-width="1.2" fill="none"/>
<circle cx="666.52" cy="1727.03" r="2.6" fill="#0000e0" stroke="#000" stroke-width="0.6"/>
<circle cx="666.52" cy="1736.29" r="2.6" fill="#0000e0" stroke="#000" stroke-width="0.6"/>
<circle cx="666.52" cy="1748.80" r="2.6" fill="#0000e0" stroke="#000" stroke-width="0.6"/>
<circle cx="666.52" cy="1752.55" r="2.6" fill="#0000e0" stroke="#000" stroke-width="0.6"/>
<circle cx="666.52" cy="1758.81" r="2.6" fill="#0000e0" stroke="#000" stroke-width="0.6"/>
<circle cx="666.52" cy="1766.32" r="2.6" fill="#0000e0" stroke="#000" stroke-width="0.6"/>
<path d="M666.52,1733.81 L666.52,1762.79 M665.27,1733.81 L667.77,1733.81 M665.27,1762.79 L667.77,1762.79" stroke="#000" stroke-width="1.5" fill="none"/>
<path d="M664.77,1748.30 L668.27,1748.30" stroke="#000" stroke-width="1.2" fill="none"/>
<rect x="671.92" y="1770.92" width="4.8" height="4.8" fill="#f66ac8" stroke="#5a1040" stroke-width="0.7"/>
<rect x="671.92" y="1781.43" width="4.8" height="4.8" fill="#f66ac8" stroke="#5a1040" stroke-width="0.7"/>
<rect x="671.92" y="1786.44" width="4.8" height="4.8" fill="#f66ac8" stroke="#5a1040" stroke-width="0.7"/>
<rect x="671.92" y="1791.44" width="4.8" height="4.8" fill="#f66ac8" stroke="#5a1040" stroke-width="0.7"/>
<rect x="671.92" y="1808.46" width="4.8" height="4.8" fill="#f66ac8" stroke="#5a1040" stroke-width="0.7"/>
<path d="M674.32,1776.29 L674.32,1803.99 M673.07,1776.29 L675.57,1776.29 M673.07,1803.99 L675.57,1803.99" stroke="#000" stroke-width="1.5" fill="none"/>
<path d="M672.57,1790.14 L676.07,1790.14" stroke="#000" stroke-width="1.2" fill="none"/>
<circle cx="686.78" cy="1747.05" r="2.6" fill="#0000e0" stroke="#000" stroke-width="0.6"/>
<circle cx="686.78" cy="1753.80" r="2.6" fill="#0000e0" stroke="#000" stroke-width="0.6"/>
<circle cx="686.78" cy="1757.56" r="2.6" fill="#0000e0" stroke="#000" stroke-width="0.6"/>
<circle cx="686.78" cy="1761.31" r="2.6" fill="#0000e0" stroke="#000" stroke-width="0.6"/>
<circle cx="686.78" cy="1765.82" r="2.6" fill="#0000e0" stroke="#000" stroke-width="0.6"/>
<path d="M686.78,1749.93 L686.78,1764.28 M685.53,1749.93 L688.03,1749.93 M685.53,1764.28 L688.03,1764.28" stroke="#000" stroke-width="1.5" fill="none"/>
<path d="M685.03,1757.11 L688.53,1757.11" stroke="#000" stroke-width="1.2" fill="none"/>
<rect x="692.18" y="1786.44" width="4.8" height="4.8" fill="#f66ac8" stroke="#5a1040" stroke-width="0.7"/>
<rect x="692.18" y="1791.44" width="4.8" height="4.8" fill="#f66ac8" stroke="#5a1040" stroke-width="0.7"/>
<rect x="692.18" y="1796.45" width="4.8" height="4.8" fill="#f66ac8" stroke="#5a1040" stroke-width="0.7"/>
<rect x="692.18" y="1803.96" width="4.8" height="4.8" fill="#f66ac8" stroke="#5a1040" stroke-width="0.7"/>
<path d="M694.58,1789.50 L694.58,1804.44 M693.33,1789.50 L695.83,1789.50 M693.33,1804.44 L695.83,1804.44" stroke="#000" stroke-width="1.5" fill="none"/>
<path d="M692.83,1796.97 L696.33,1796.97" stroke="#000" stroke-width="1.2" fill="none"/>
<circle cx="707.04" cy="1747.55" r="2.6" fill="#0000e0" stroke="#000" stroke-width="0.6"/>
<circle cx="707.04" cy="1756.31" r="2.6" fill="#0000e0" stroke="#000" stroke-width="0.6"/>
<circle cx="707.04" cy="1760.06" r="2.6" fill="#0000e0" stroke="#000" stroke-width="0.6"/>
<circle cx="707.04" cy="1763.81" r="2.6" fill="#0000e0" stroke="#000" stroke-width="0.6"/>
<circle cx="707.04" cy="1767.57" r="2.6" fill="#0000e0" stroke="#000" stroke-width="0.6"/>
<circle cx="707.04" cy="1782.58" r="2.6" fill="#0000e0" stroke="#000" stroke-width="0.6"/>
<circle cx="707.04" cy="1797.10" r="2.6" fill="#0000e0" stroke="#000" stroke-width="0.6"/>
<path d="M707.04,1751.05 L707.04,1784.66 M705.79,1751.05 L708.29,1751.05 M705.79,1784.66 L708.29,1784.66" stroke="#000" stroke-width="1.5" fill="none"/>
<path d="M705.29,1767.85 L708.79,1767.85" stroke="#000" stroke-width="1.2" fill="none"/>
<rect x="712.44" y="1770.17" width="4.8" height="4.8" fill="#f66ac8" stroke="#5a1040" stroke-width="0.7"/>
<rect x="712.44" y="1778.93" width="4.8" height="4.8" fill="#f66ac8" stroke="#5a1040" stroke-width="0.7"/>
<rect x="712.44" y="1783.94" width="4.8" height="4.8" fill="#f66ac8" stroke="#5a1040" stroke-width="0.7"/>
<rect x="712.44" y="1787.69" width="4.8" height="4.8" fill="#f66ac8" stroke="#5a1040" stroke-width="0.7"/>
<rect x="712.44" y="1791.44" width="4.8" height="4.8" fill="#f66ac8" stroke="#5a1040" stroke-width="0.7"/>
<path d="M714.84,1776.56 L714.84,1793.11 M713.59,1776.56 L716.09,1776.56 M713.59,1793.11 L716.09,1793.11" stroke="#000" stroke-width="1.5" fill="none"/>
<path d="M713.09,1784.83 L716.59,1784.83" stroke="#000" stroke-width="1.2" fill="none"/>
<circle cx="727.30" cy="1729.28" r="2.6" fill="#0000e0" stroke="#000" stroke-width="0.6"/>
<circle cx="727.30" cy="1735.04" r="2.6" fill="#0000e0" stroke="#000" stroke-width="0.6"/>
<circle cx="727.30" cy="1743.79" r="2.6" fill="#0000e0" stroke="#000" stroke-width="0.6"/>
<circle cx="727.30" cy="1747.55" r="2.6" fill="#0000e0" stroke="#000" stroke-width="0.6"/>
<circle cx="727.30" cy="1752.55" r="2.6" fill="#0000e0" stroke="#000" stroke-width="0.6"/>
<circle cx="727.30" cy="1765.07" r="2.6" fill="#0000e0" stroke="#000" stroke-width="0.6"/>
<path d="M727.30,1732.80 L727.30,1758.29 M726.05,1732.80 L728.55,1732.80 M726.05,1758.29 L728.55,1758.29" stroke="#000" stroke-width="1.5" fill="none"/>
<path d="M725.55,1745.55 L729.05,1745.55" stroke="#000" stroke-width="1.2" fill="none"/>
<rect x="732.70" y="1773.93" width="4.8" height="4.8" fill="#f66ac8" stroke="#5a1040" stroke-width="0.7"/>
<rect x="732.70" y="1778.93" width="4.8" height="4.8" fill="#f66ac8" stroke="#5a1040" stroke-width="0.7"/>
<rect x="732.70" y="1783.94" width="4.8" height="4.8" fill="#f66ac8" stroke="#5a1040" stroke-width="0.7"/>
<rect x="732.70" y="1793.95" width="4.8" height="4.8" fill="#f66ac8" stroke="#5a1040" stroke-width="0.7"/>
<rect x="732.70" y="1798.95" width="4.8" height="4.8" fill="#f66ac8" stroke="#5a1040" stroke-width="0.7"/>
<rect x="732.70" y="1815.22" width="4.8" height="4.8" fill="#f66ac8" stroke="#5a1040" stroke-width="0.7"/>
<path d="M735.10,1778.08 L735.10,1808.35 M733.85,1778.08 L736.35,1778.08 M733.85,1808.35 L736.35,1808.35" stroke="#000" stroke-width="1.5" fill="none"/>
<path d="M733.35,1793.22 L736.85,1793.22" stroke="#000" stroke-width="1.2" fill="none"/>
<circle cx="747.56" cy="1729.28" r="2.6" fill="#0000e0" stroke="#000" stroke-width="0.6"/>
<circle cx="747.56" cy="1732.53" r="2.6" fill="#0000e0" stroke="#000" stroke-width="0.6"/>
<circle cx="747.56" cy="1740.04" r="2.6" fill="#0000e0" stroke="#000" stroke-width="0.6"/>
<circle cx="747.56" cy="1745.05" r="2.6" fill="#0000e0" stroke="#000" stroke-width="0.6"/>
<circle cx="747.56" cy="1756.31" r="2.6" fill="#0000e0" stroke="#000" stroke-width="0.6"/>
<circle cx="747.56" cy="1778.08" r="2.6" fill="#0000e0" stroke="#000" stroke-width="0.6"/>
<path d="M747.56,1728.84 L747.56,1764.92 M746.31,1728.84 L748.81,1728.84 M746.31,1764.92 L748.81,1764.92" stroke="#000" stroke-width="1.5" fill="none"/>
<path d="M745.81,1746.88 L749.31,1746.88" stroke="#000" stroke-width="1.2" fill="none"/>
<rect x="752.96" y="1781.43" width="4.8" height="4.8" fill="#f66ac8" stroke="#5a1040" stroke-width="0.7"/>
<rect x="752.96" y="1786.44" width="4.8" height="4.8" fill="#f66ac8" stroke="#5a1040" stroke-width="0.7"/>
<rect x="752.96" y="1791.44" width="4.8" height="4.8" fill="#f66ac8" stroke="#5a1040" stroke-width="0.7"/>
<rect x="752.96" y="1800.20" width="4.8" height="4.8" fill="#f66ac8" stroke="#5a1040" stroke-width="0.7"/>
<path d="M755.36,1784.28 L755.36,1800.28 M754.11,1784.28 L756.61,1784.28 M754.11,1800.28 L756.61,1800.28" stroke="#000" stroke-width="1.5" fill="none"/>
<path d="M753.61,1792.28 L757.11,1792.28" stroke="#000" stroke-width="1.2" fill="none"/>
<circle cx="767.83" cy="1733.03" r="2.6" fill="#0000e0" stroke="#000" stroke-width="0.6"/>
<circle cx="767.83" cy="1740.04" r="2.6" fill="#0000e0" stroke="#000" stroke-width="0.6"/>
<circle cx="767.83" cy="1747.55" r="2.6" fill="#0000e0" stroke="#000" stroke-width="0.6"/>
<circle cx="767.83" cy="1753.80" r="2.6" fill="#0000e0" stroke="#000" stroke-width="0.6"/>
<circle cx="767.83" cy="1760.06" r="2.6" fill="#0000e0" stroke="#000" stroke-width="0.6"/>
<circle cx="767.83" cy="1763.81" r="2.6" fill="#0000e0" stroke="#000" stroke-width="0.6"/>
<circle cx="767.83" cy="1767.57" r="2.6" fill="#0000e0" stroke="#000" stroke-width="0.6"/>
<circle cx="767.83" cy="1773.82" r="2.6" fill="#0000e0" stroke="#000" stroke-width="0.6"/>
<path d="M767.83,1740.93 L767.83,1769.00 M766.58,1740.93 L769.08,1740.93 M766.58,1769.00 L769.08,1769.00" stroke="#000" stroke-width="1.5" fill="none"/>
<path d="M766.08,1754.96 L769.58,1754.96" stroke="#000" stroke-width="1.2" fill="none"/>
<rect x="773.23" y="1777.68" width="4.8" height="4.8" fill="#f66ac8" stroke="#5a1040" stroke-width="0.7"/>
<rect x="773.23" y="1783.94" width="4.8" height="4.8" fill="#f66ac8" stroke="#5a1040" stroke-width="0.7"/>
<rect x="773.23" y="1788.94" width="4.8" height="4.8" fill="#f66ac8" stroke="#5a1040" stroke-width="0.7"/>
<rect x="773.23" y="1793.95" width="4.8" height="4.8" fill="#f66ac8" stroke="#5a1040" stroke-width="0.7"/>
<path d="M775.63,1781.57 L775.63,1795.48 M774.38,1781.57 L776.88,1781.57 M774.38,1795.48 L776.88,1795.48" stroke="#000" stroke-width="1.5" fill="none"/>
<path d="M773.88,1788.53 L777.38,1788.53" stroke="#000" stroke-width="1.2" fill="none"/>
<circle cx="788.09" cy="1738.04" r="2.6" fill="#0000e0" stroke="#000" stroke-width="0.6"/>
<circle cx="788.09" cy="1746.30" r="2.6" fill="#0000e0" stroke="#000" stroke-width="0.6"/>
<circle cx="788.09" cy="1750.05" r="2.6" fill="#0000e0" stroke="#000" stroke-width="0.6"/>
<circle cx="788.09" cy="1753.80" r="2.6" fill="#0000e0" stroke="#000" stroke-width="0.6"/>
<circle cx="788.09" cy="1758.81" r="2.6" fill="#0000e0" stroke="#000" stroke-width="0.6"/>
<circle cx="788.09" cy="1767.57" r="2.6" fill="#0000e0" stroke="#000" stroke-width="0.6"/>
<path d="M788.09,1742.21 L788.09,1762.65 M786.84,1742.21 L789.34,1742.21 M786.84,1762.65 L789.34,1762.65" stroke="#000" stroke-width="1.5" fill="none"/>
<path d="M786.34,1752.43 L789.84,1752.43" stroke="#000" stroke-width="1.2" fill="none"/>
<rect x="793.49" y="1778.93" width="4.8" height="4.8" fill="#f66ac8" stroke="#5a1040" stroke-width="0.7"/>
<rect x="793.49" y="1783.94" width="4.8" height="4.8" fill="#f66ac8" stroke="#5a1040" stroke-width="0.7"/>
<rect x="793.49" y="1788.94" width="4.8" height="4.8" fill="#f66ac8" stroke="#5a1040" stroke-width="0.7"/>
<rect x="793.49" y="1796.45" width="4.8" height="4.8" fill="#f66ac8" stroke="#5a1040" stroke-width="0.7"/>
<rect x="793.49" y="1799.70" width="4.8" height="4.8" fill="#f66ac8" stroke="#5a1040" stroke-width="0.7"/>
<path d="M795.89,1783.40 L795.89,1800.58 M794.64,1783.40 L797.14,1783.40 M794.64,1800.58 L797.14,1800.58" stroke="#000" stroke-width="1.5" fill="none"/>
<path d="M794.14,1791.99 L797.64,1791.99" stroke="#000" stroke-width="1.2" fill="none"/>
<circle cx="808.35" cy="1729.28" r="2.6" fill="#0000e0" stroke="#000" stroke-width="0.6"/>
<circle cx="808.35" cy="1738.79" r="2.6" fill="#0000e0" stroke="#000" stroke-width="0.6"/>
<circle cx="808.35" cy="1745.05" r="2.6" fill="#0000e0" stroke="#000" stroke-width="0.6"/>
<circle cx="808.35" cy="1748.80" r="2.6" fill="#0000e0" stroke="#000" stroke-width="0.6"/>
<circle cx="808.35" cy="1752.55" r="2.6" fill="#0000e0" stroke="#000" stroke-width="0.6"/>
<circle cx="808.35" cy="1756.31" r="2.6" fill="#0000e0" stroke="#000" stroke-width="0.6"/>
<circle cx="808.35" cy="1761.31" r="2.6" fill="#0000e0" stroke="#000" stroke-width="0.6"/>
<path d="M808.35,1736.57 L808.35,1758.31 M807.10,1736.57 L809.60,1736.57 M807.10,1758.31 L809.60,1758.31" stroke="#000" stroke-width="1.5" fill="none"/>
<path d="M806.60,1747.44 L810.10,1747.44" stroke="#000" stroke-width="1.2" fill="none"/>
<rect x="813.75" y="1782.69" width="4.8" height="4.8" fill="#f66ac8" stroke="#5a1040" stroke-width="0.7"/>
<rect x="813.75" y="1788.94" width="4.8" height="4.8" fill="#f66ac8" stroke="#5a1040" stroke-width="0.7"/>
<rect x="813.75" y="1792.70" width="4.8" height="4.8" fill="#f66ac8" stroke="#5a1040" stroke-width="0.7"/>
<rect x="813.75" y="1799.70" width="4.8" height="4.8" fill="#f66ac8" stroke="#5a1040" stroke-width="0.7"/>
<rect x="813.75" y="1810.96" width="4.8" height="4.8" fill="#f66ac8" stroke="#5a1040" stroke-width="0.7"/>
<path d="M816.15,1786.55 L816.15,1808.24 M814.90,1786.55 L817.40,1786.55 M814.90,1808.24 L817.40,1808.24" stroke="#000" stroke-width="1.5" fill="none"/>
<path d="M814.40,1797.40 L817.90,1797.40" stroke="#000" stroke-width="1.2" fill="none"/>
<circle cx="848.87" cy="1740.79" r="2.6" fill="#0000e0" stroke="#000" stroke-width="0.6"/>
<circle cx="848.87" cy="1746.30" r="2.6" fill="#0000e0" stroke="#000" stroke-width="0.6"/>
<circle cx="848.87" cy="1750.05" r="2.6" fill="#0000e0" stroke="#000" stroke-width="0.6"/>
<circle cx="848.87" cy="1753.80" r="2.6" fill="#0000e0" stroke="#000" stroke-width="0.6"/>
<circle cx="848.87" cy="1760.06" r="2.6" fill="#0000e0" stroke="#000" stroke-width="0.6"/>
<path d="M848.87,1742.89 L848.87,1757.51 M847.62,1742.89 L850.12,1742.89 M847.62,1757.51 L850.12,1757.51" stroke="#000" stroke-width="1.5" fill="none"/>
<path d="M847.12,1750.20 L850.62,1750.20" stroke="#000" stroke-width="1.2" fill="none"/>
<rect x="854.27" y="1773.18" width="4.8" height="4.8" fill="#f66ac8" stroke="#5a1040" stroke-width="0.7"/>
<rect x="854.27" y="1781.43" width="4.8" height="4.8" fill="#f66ac8" stroke="#5a1040" stroke-width="0.7"/>
<rect x="854.27" y="1785.19" width="4.8" height="4.8" fill="#f66ac8" stroke="#5a1040" stroke-width="0.7"/>
<rect x="854.27" y="1788.94" width="4.8" height="4.8" fill="#f66ac8" stroke="#5a1040" stroke-width="0.7"/>
<rect x="854.27" y="1803.21" width="4.8" height="4.8" fill="#f66ac8" stroke="#5a1040" stroke-width="0.7"/>
<path d="M856.67,1777.72 L856.67,1799.86 M855.42,1777.72 L857.92,1777.72 M855.42,1799.86 L857.92,1799.86" stroke="#000" stroke-width="1.5" fill="none"/>
<path d="M854.92,1788.79 L858.42,1788.79" stroke="#000" stroke-width="1.2" fill="none"/>
<circle cx="869.14" cy="1727.53" r="2.6" fill="#0000e0" stroke="#000" stroke-width="0.6"/>
<circle cx="869.14" cy="1749.30" r="2.6" fill="#0000e0" stroke="#000" stroke-width="0.6"/>
<circle cx="869.14" cy="1762.56" r="2.6" fill="#0000e0" stroke="#000" stroke-width="0.6"/>
<circle cx="869.14" cy="1766.32" r="2.6" fill="#0000e0" stroke="#000" stroke-width="0.6"/>
<circle cx="869.14" cy="1770.07" r="2.6" fill="#0000e0" stroke="#000" stroke-width="0.6"/>
<circle cx="869.14" cy="1773.82" r="2.6" fill="#0000e0" stroke="#000" stroke-width="0.6"/>
<circle cx="869.14" cy="1780.08" r="2.6" fill="#0000e0" stroke="#000" stroke-width="0.6"/>
<circle cx="869.14" cy="1788.84" r="2.6" fill="#0000e0" stroke="#000" stroke-width="0.6"/>
<circle cx="869.14" cy="1800.60" r="2.6" fill="#0000e0" stroke="#000" stroke-width="0.6"/>
<path d="M869.14,1747.30 L869.14,1790.28 M867.89,1747.30 L870.39,1747.30 M867.89,1790.28 L870.39,1790.28" stroke="#000" stroke-width="1.5" fill="none"/>
<path d="M867.39,1768.79 L870.89,1768.79" stroke="#000" stroke-width="1.2" fill="none"/>
<rect x="874.54" y="1770.67" width="4.8" height="4.8" fill="#f66ac8" stroke="#5a1040" stroke-width="0.7"/>
<rect x="874.54" y="1777.68" width="4.8" height="4.8" fill="#f66ac8" stroke="#5a1040" stroke-width="0.7"/>
<rect x="874.54" y="1785.19" width="4.8" height="4.8" fill="#f66ac8" stroke="#5a1040" stroke-width="0.7"/>
<rect x="874.54" y="1788.94" width="4.8" height="4.8" fill="#f66ac8" stroke="#5a1040" stroke-width="0.7"/>
<rect x="874.54" y="1792.70" width="4.8" height="4.8" fill="#f66ac8" stroke="#5a1040" stroke-width="0.7"/>
<rect x="874.54" y="1796.45" width="4.8" height="4.8" fill="#f66ac8" stroke="#5a1040" stroke-width="0.7"/>
<rect x="874.54" y="1799.45" width="4.8" height="4.8" fill="#f66ac8" stroke="#5a1040" stroke-width="0.7"/>
<rect x="874.54" y="1806.96" width="4.8" height="4.8" fill="#f66ac8" stroke="#5a1040" stroke-width="0.7"/>
<path d="M876.94,1780.35 L876.94,1803.96 M875.69,1780.35 L878.19,1780.35 M875.69,1803.96 L878.19,1803.96" stroke="#000" stroke-width="1.5" fill="none"/>
<path d="M875.19,1792.15 L878.69,1792.15" stroke="#000" stroke-width="1.2" fill="none"/>
<circle cx="889.40" cy="1739.54" r="2.6" fill="#0000e0" stroke="#000" stroke-width="0.6"/>
<circle cx="889.40" cy="1747.05" r="2.6" fill="#0000e0" stroke="#000" stroke-width="0.6"/>
<circle cx="889.40" cy="1750.80" r="2.6" fill="#0000e0" stroke="#000" stroke-width="0.6"/>
<circle cx="889.40" cy="1760.06" r="2.6" fill="#0000e0" stroke="#000" stroke-width="0.6"/>
<circle cx="889.40" cy="1763.81" r="2.6" fill="#0000e0" stroke="#000" stroke-width="0.6"/>
<circle cx="889.40" cy="1767.57" r="2.6" fill="#0000e0" stroke="#000" stroke-width="0.6"/>
<circle cx="889.40" cy="1772.57" r="2.6" fill="#0000e0" stroke="#000" stroke-width="0.6"/>
<circle cx="889.40" cy="1783.83" r="2.6" fill="#0000e0" stroke="#000" stroke-width="0.6"/>
<path d="M889.40,1746.18 L889.40,1775.12 M888.15,1746.18 L890.65,1746.18 M888.15,1775.12 L890.65,1775.12" stroke="#000" stroke-width="1.5" fill="none"/>
<path d="M887.65,1760.65 L891.15,1760.65" stroke="#000" stroke-width="1.2" fill="none"/>
<rect x="894.80" y="1777.18" width="4.8" height="4.8" fill="#f66ac8" stroke="#5a1040" stroke-width="0.7"/>
<rect x="894.80" y="1781.43" width="4.8" height="4.8" fill="#f66ac8" stroke="#5a1040" stroke-width="0.7"/>
<rect x="894.80" y="1785.19" width="4.8" height="4.8" fill="#f66ac8" stroke="#5a1040" stroke-width="0.7"/>
<rect x="894.80" y="1788.94" width="4.8" height="4.8" fill="#f66ac8" stroke="#5a1040" stroke-width="0.7"/>
<rect x="894.80" y="1792.70" width="4.8" height="4.8" fill="#f66ac8" stroke="#5a1040" stroke-width="0.7"/>
<rect x="894.80" y="1795.20" width="4.8" height="4.8" fill="#f66ac8" stroke="#5a1040" stroke-width="0.7"/>
<path d="M897.20,1782.33 L897.20,1796.01 M895.95,1782.33 L898.45,1782.33 M895.95,1796.01 L898.45,1796.01" stroke="#000" stroke-width="1.5" fill="none"/>
<path d="M895.45,1789.17 L898.95,1789.17" stroke="#000" stroke-width="1.2" fill="none"/>
<path d="M326.30,1712.60 L326.30,1909.10" stroke="#000" stroke-width="2.5" stroke-dasharray="7.3,5.8" fill="none"/>
<path d="M607.60,1712.60 L607.60,1909.10" stroke="#000" stroke-width="2.5" stroke-dasharray="7.3,5.8" fill="none"/>
<path d="M829.40,1712.60 L829.40,1909.10" stroke="#000" stroke-width="2.5" stroke-dasharray="7.3,5.8" fill="none"/>
<path d="M296.9,1709.90 L296.9,1909.1 M283.5,1909.1 L902.5,1909.1" stroke="#000" stroke-width="4.0" fill="none"/>
<path d="M283.5,1711.9 L296.9,1711.9" stroke="#000" stroke-width="4.0"/>
<path d="M283.5,1777.4 L296.9,1777.4" stroke="#000" stroke-width="4.0"/>
<path d="M283.5,1843.2 L296.9,1843.2" stroke="#000" stroke-width="4.0"/>
<path d="M305.40,1909.1 L305.40,1922.5" stroke="#000" stroke-width="4.0"/>
<path d="M325.66,1909.1 L325.66,1922.5" stroke="#000" stroke-width="4.0"/>
<path d="M345.92,1909.1 L345.92,1922.5" stroke="#000" stroke-width="4.0"/>
<path d="M366.19,1909.1 L366.19,1922.5" stroke="#000" stroke-width="4.0"/>
<path d="M386.45,1909.1 L386.45,1922.5" stroke="#000" stroke-width="4.0"/>
<path d="M406.71,1909.1 L406.71,1922.5" stroke="#000" stroke-width="4.0"/>
<path d="M426.97,1909.1 L426.97,1922.5" stroke="#000" stroke-width="4.0"/>
<path d="M447.23,1909.1 L447.23,1922.5" stroke="#000" stroke-width="4.0"/>
<path d="M467.50,1909.1 L467.50,1922.5" stroke="#000" stroke-width="4.0"/>
<path d="M487.76,1909.1 L487.76,1922.5" stroke="#000" stroke-width="4.0"/>
<path d="M508.02,1909.1 L508.02,1922.5" stroke="#000" stroke-width="4.0"/>
<path d="M528.28,1909.1 L528.28,1922.5" stroke="#000" stroke-width="4.0"/>
<path d="M548.54,1909.1 L548.54,1922.5" stroke="#000" stroke-width="4.0"/>
<path d="M568.81,1909.1 L568.81,1922.5" stroke="#000" stroke-width="4.0"/>
<path d="M589.07,1909.1 L589.07,1922.5" stroke="#000" stroke-width="4.0"/>
<path d="M609.33,1909.1 L609.33,1922.5" stroke="#000" stroke-width="4.0"/>
<path d="M629.59,1909.1 L629.59,1922.5" stroke="#000" stroke-width="4.0"/>
<path d="M649.85,1909.1 L649.85,1922.5" stroke="#000" stroke-width="4.0"/>
<path d="M670.12,1909.1 L670.12,1922.5" stroke="#000" stroke-width="4.0"/>
<path d="M690.38,1909.1 L690.38,1922.5" stroke="#000" stroke-width="4.0"/>
<path d="M710.64,1909.1 L710.64,1922.5" stroke="#000" stroke-width="4.0"/>
<path d="M730.90,1909.1 L730.90,1922.5" stroke="#000" stroke-width="4.0"/>
<path d="M751.16,1909.1 L751.16,1922.5" stroke="#000" stroke-width="4.0"/>
<path d="M771.43,1909.1 L771.43,1922.5" stroke="#000" stroke-width="4.0"/>
<path d="M791.69,1909.1 L791.69,1922.5" stroke="#000" stroke-width="4.0"/>
<path d="M811.95,1909.1 L811.95,1922.5" stroke="#000" stroke-width="4.0"/>
<path d="M832.21,1909.1 L832.21,1922.5" stroke="#000" stroke-width="4.0"/>
<path d="M852.47,1909.1 L852.47,1922.5" stroke="#000" stroke-width="4.0"/>
<path d="M872.74,1909.1 L872.74,1922.5" stroke="#000" stroke-width="4.0"/>
<path d="M893.00,1909.1 L893.00,1922.5" stroke="#000" stroke-width="4.0"/>
<text x="281.00" y="1718.00" font-size="18" text-anchor="end" fill="#000" >30</text>
<text x="281.00" y="1783.50" font-size="18" text-anchor="end" fill="#000" >20</text>
<text x="281.00" y="1849.30" font-size="18" text-anchor="end" fill="#000" >10</text>
<text x="281.00" y="1915.20" font-size="18" text-anchor="end" fill="#000" >0</text>
<text transform="translate(248.20,1811.30) rotate(-90)" font-size="24.7" font-weight="bold" text-anchor="middle" fill="#000">Body weight (g)</text>
<circle cx="449.30" cy="1877.00" r="2.6" fill="#0000e0" stroke="#000" stroke-width="0.6"/>
<rect x="596.60" y="1874.60" width="4.8" height="4.8" fill="#f66ac8" stroke="#5a1040" stroke-width="0.7"/>
<text x="479.00" y="1883.80" font-size="17.3" fill="#000" >Male</text>
<text x="629.50" y="1883.80" font-size="17.3" fill="#000" >Female</text>
<rect x="300.30" y="1991.30" width="11" height="8.6" fill="#000"/>
<rect x="300.30" y="2011.00" width="11" height="8.6" fill="#000"/>
<rect x="300.30" y="2030.70" width="11" height="8.6" fill="#000"/>
<path d="M305.80,1995.64 L305.80,2035.18 M302.20,1995.64 L309.40,1995.64 M302.20,2035.18 L309.40,2035.18" stroke="#000" stroke-width="1.3" fill="none"/>
<rect x="298.80" y="2011.00" width="14" height="8.6" fill="#000"/>
<circle cx="346.10" cy="2054.70" r="3.7" fill="#ff0000" stroke="#000" stroke-width="0.7"/>
<circle cx="342.80" cy="2074.40" r="3.7" fill="#ff0000" stroke="#000" stroke-width="0.7"/>
<circle cx="349.40" cy="2074.40" r="3.7" fill="#ff0000" stroke="#000" stroke-width="0.7"/>
<path d="M346.10,2057.46 L346.10,2079.98 M342.50,2057.46 L349.70,2057.46 M342.50,2079.98 L349.70,2079.98" stroke="#000" stroke-width="1.3" fill="none"/>
<path d="M339.45,2068.72 L352.75,2068.72" stroke="#000" stroke-width="2.8" fill="none"/>
<circle cx="366.25" cy="2054.70" r="3.7" fill="#ff0000" stroke="#000" stroke-width="0.7"/>
<circle cx="366.25" cy="2074.40" r="3.7" fill="#ff0000" stroke="#000" stroke-width="0.7"/>
<path d="M366.25,2051.20 L366.25,2079.48 M362.65,2051.20 L369.85,2051.20 M362.65,2079.48 L369.85,2079.48" stroke="#000" stroke-width="1.3" fill="none"/>
<path d="M359.60,2065.46 L372.90,2065.46" stroke="#000" stroke-width="2.8" fill="none"/>
<circle cx="386.40" cy="2035.00" r="3.7" fill="#ff0000" stroke="#000" stroke-width="0.7"/>
<circle cx="386.40" cy="2074.40" r="3.7" fill="#ff0000" stroke="#000" stroke-width="0.7"/>
<path d="M386.40,2027.43 L386.40,2083.23 M382.80,2027.43 L390.00,2027.43 M382.80,2083.23 L390.00,2083.23" stroke="#000" stroke-width="1.3" fill="none"/>
<path d="M379.75,2055.20 L393.05,2055.20" stroke="#000" stroke-width="2.8" fill="none"/>
<circle cx="406.55" cy="2015.30" r="3.7" fill="#ff0000" stroke="#000" stroke-width="0.7"/>
<circle cx="403.25" cy="2035.00" r="3.7" fill="#ff0000" stroke="#000" stroke-width="0.7"/>
<circle cx="409.85" cy="2035.00" r="3.7" fill="#ff0000" stroke="#000" stroke-width="0.7"/>
<circle cx="406.55" cy="2094.10" r="3.7" fill="#ff0000" stroke="#000" stroke-width="0.7"/>
<path d="M406.55,2011.66 L406.55,2079.48 M402.95,2011.66 L410.15,2011.66 M402.95,2079.48 L410.15,2079.48" stroke="#000" stroke-width="1.3" fill="none"/>
<path d="M399.90,2045.44 L413.20,2045.44" stroke="#000" stroke-width="2.8" fill="none"/>
<circle cx="426.70" cy="1995.60" r="3.7" fill="#ff0000" stroke="#000" stroke-width="0.7"/>
<circle cx="426.70" cy="2015.30" r="3.7" fill="#ff0000" stroke="#000" stroke-width="0.7"/>
<circle cx="426.70" cy="2035.00" r="3.7" fill="#ff0000" stroke="#000" stroke-width="0.7"/>
<circle cx="426.70" cy="2094.10" r="3.7" fill="#ff0000" stroke="#000" stroke-width="0.7"/>
<path d="M426.70,1993.64 L426.70,2078.23 M423.10,1993.64 L430.30,1993.64 M423.10,2078.23 L430.30,2078.23" stroke="#000" stroke-width="1.3" fill="none"/>
<path d="M420.05,2035.68 L433.35,2035.68" stroke="#000" stroke-width="2.8" fill="none"/>
<circle cx="446.85" cy="2035.00" r="3.7" fill="#ff0000" stroke="#000" stroke-width="0.7"/>
<circle cx="446.85" cy="2054.70" r="3.7" fill="#ff0000" stroke="#000" stroke-width="0.7"/>
<circle cx="443.55" cy="2094.10" r="3.7" fill="#ff0000" stroke="#000" stroke-width="0.7"/>
<circle cx="450.15" cy="2094.10" r="3.7" fill="#ff0000" stroke="#000" stroke-width="0.7"/>
<circle cx="443.55" cy="2133.50" r="3.7" fill="#ff0000" stroke="#000" stroke-width="0.7"/>
<circle cx="450.15" cy="2133.50" r="3.7" fill="#ff0000" stroke="#000" stroke-width="0.7"/>
<path d="M446.85,2051.20 L446.85,2131.28 M443.25,2051.20 L450.45,2051.20 M443.25,2131.28 L450.45,2131.28" stroke="#000" stroke-width="1.3" fill="none"/>
<path d="M440.20,2091.74 L453.50,2091.74" stroke="#000" stroke-width="2.8" fill="none"/>
<circle cx="467.00" cy="1975.90" r="3.7" fill="#ff0000" stroke="#000" stroke-width="0.7"/>
<circle cx="467.00" cy="2015.30" r="3.7" fill="#ff0000" stroke="#000" stroke-width="0.7"/>
<circle cx="467.00" cy="2035.00" r="3.7" fill="#ff0000" stroke="#000" stroke-width="0.7"/>
<circle cx="467.00" cy="2113.80" r="3.7" fill="#ff0000" stroke="#000" stroke-width="0.7"/>
<path d="M467.00,1976.13 L467.00,2093.74 M463.40,1976.13 L470.60,1976.13 M463.40,2093.74 L470.60,2093.74" stroke="#000" stroke-width="1.3" fill="none"/>
<path d="M460.35,2035.68 L473.65,2035.68" stroke="#000" stroke-width="2.8" fill="none"/>
<circle cx="487.15" cy="1995.60" r="3.7" fill="#ff0000" stroke="#000" stroke-width="0.7"/>
<circle cx="483.55" cy="2054.70" r="3.7" fill="#ff0000" stroke="#000" stroke-width="0.7"/>
<circle cx="487.15" cy="2054.70" r="3.7" fill="#ff0000" stroke="#000" stroke-width="0.7"/>
<circle cx="490.75" cy="2054.70" r="3.7" fill="#ff0000" stroke="#000" stroke-width="0.7"/>
<circle cx="487.15" cy="2074.40" r="3.7" fill="#ff0000" stroke="#000" stroke-width="0.7"/>
<circle cx="487.15" cy="2094.10" r="3.7" fill="#ff0000" stroke="#000" stroke-width="0.7"/>
<path d="M487.15,2022.42 L487.15,2088.24 M483.55,2022.42 L490.75,2022.42 M483.55,2088.24 L490.75,2088.24" stroke="#000" stroke-width="1.3" fill="none"/>
<path d="M480.50,2055.20 L493.80,2055.20" stroke="#000" stroke-width="2.8" fill="none"/>
<circle cx="504.00" cy="2054.70" r="3.7" fill="#ff0000" stroke="#000" stroke-width="0.7"/>
<circle cx="510.60" cy="2054.70" r="3.7" fill="#ff0000" stroke="#000" stroke-width="0.7"/>
<circle cx="504.00" cy="2074.40" r="3.7" fill="#ff0000" stroke="#000" stroke-width="0.7"/>
<circle cx="510.60" cy="2074.40" r="3.7" fill="#ff0000" stroke="#000" stroke-width="0.7"/>
<path d="M507.30,2052.45 L507.30,2077.48 M503.70,2052.45 L510.90,2052.45 M503.70,2077.48 L510.90,2077.48" stroke="#000" stroke-width="1.3" fill="none"/>
<path d="M500.65,2065.46 L513.95,2065.46" stroke="#000" stroke-width="2.8" fill="none"/>
<circle cx="527.45" cy="1995.60" r="3.7" fill="#ff0000" stroke="#000" stroke-width="0.7"/>
<circle cx="527.45" cy="2035.00" r="3.7" fill="#ff0000" stroke="#000" stroke-width="0.7"/>
<circle cx="524.15" cy="2054.70" r="3.7" fill="#ff0000" stroke="#000" stroke-width="0.7"/>
<circle cx="530.75" cy="2054.70" r="3.7" fill="#ff0000" stroke="#000" stroke-width="0.7"/>
<circle cx="527.45" cy="2113.80" r="3.7" fill="#ff0000" stroke="#000" stroke-width="0.7"/>
<path d="M527.45,2008.66 L527.45,2094.49 M523.85,2008.66 L531.05,2008.66 M523.85,2094.49 L531.05,2094.49" stroke="#000" stroke-width="1.3" fill="none"/>
<path d="M520.80,2051.95 L534.10,2051.95" stroke="#000" stroke-width="2.8" fill="none"/>
<circle cx="547.60" cy="1995.60" r="3.7" fill="#ff0000" stroke="#000" stroke-width="0.7"/>
<circle cx="547.60" cy="2035.00" r="3.7" fill="#ff0000" stroke="#000" stroke-width="0.7"/>
<circle cx="544.30" cy="2074.40" r="3.7" fill="#ff0000" stroke="#000" stroke-width="0.7"/>
<circle cx="550.90" cy="2074.40" r="3.7" fill="#ff0000" stroke="#000" stroke-width="0.7"/>
<circle cx="547.60" cy="2094.10" r="3.7" fill="#ff0000" stroke="#000" stroke-width="0.7"/>
<path d="M547.60,2015.66 L547.60,2094.99 M544.00,2015.66 L551.20,2015.66 M544.00,2094.99 L551.20,2094.99" stroke="#000" stroke-width="1.3" fill="none"/>
<path d="M540.95,2055.20 L554.25,2055.20" stroke="#000" stroke-width="2.8" fill="none"/>
<circle cx="567.75" cy="1995.60" r="3.7" fill="#ff0000" stroke="#000" stroke-width="0.7"/>
<circle cx="564.45" cy="2015.30" r="3.7" fill="#ff0000" stroke="#000" stroke-width="0.7"/>
<circle cx="571.05" cy="2015.30" r="3.7" fill="#ff0000" stroke="#000" stroke-width="0.7"/>
<circle cx="567.75" cy="2054.70" r="3.7" fill="#ff0000" stroke="#000" stroke-width="0.7"/>
<circle cx="567.75" cy="2074.40" r="3.7" fill="#ff0000" stroke="#000" stroke-width="0.7"/>
<circle cx="567.75" cy="2094.10" r="3.7" fill="#ff0000" stroke="#000" stroke-width="0.7"/>
<path d="M567.75,2003.65 L567.75,2081.23 M564.15,2003.65 L571.35,2003.65 M564.15,2081.23 L571.35,2081.23" stroke="#000" stroke-width="1.3" fill="none"/>
<path d="M561.10,2042.44 L574.40,2042.44" stroke="#000" stroke-width="2.8" fill="none"/>
<rect x="644.35" y="1991.60" width="8" height="8" fill="#0000ff" stroke="#000" stroke-width="0.7"/>
<rect x="644.35" y="2011.30" width="8" height="8" fill="#0000ff" stroke="#000" stroke-width="0.7"/>
<rect x="644.35" y="2031.00" width="8" height="8" fill="#0000ff" stroke="#000" stroke-width="0.7"/>
<rect x="644.35" y="2050.70" width="8" height="8" fill="#0000ff" stroke="#000" stroke-width="0.7"/>
<rect x="644.35" y="2070.40" width="8" height="8" fill="#0000ff" stroke="#000" stroke-width="0.7"/>
<rect x="644.35" y="2129.50" width="8" height="8" fill="#0000ff" stroke="#000" stroke-width="0.7"/>
<path d="M648.35,2003.15 L648.35,2101.25 M644.75,2003.15 L651.95,2003.15 M644.75,2101.25 L651.95,2101.25" stroke="#000" stroke-width="1.3" fill="none"/>
<path d="M641.70,2051.95 L655.00,2051.95" stroke="#000" stroke-width="2.8" fill="none"/>
<rect x="664.50" y="1991.60" width="8" height="8" fill="#0000ff" stroke="#000" stroke-width="0.7"/>
<rect x="661.20" y="2011.30" width="8" height="8" fill="#0000ff" stroke="#000" stroke-width="0.7"/>
<rect x="667.80" y="2011.30" width="8" height="8" fill="#0000ff" stroke="#000" stroke-width="0.7"/>
<rect x="661.20" y="2031.00" width="8" height="8" fill="#0000ff" stroke="#000" stroke-width="0.7"/>
<rect x="667.80" y="2031.00" width="8" height="8" fill="#0000ff" stroke="#000" stroke-width="0.7"/>
<rect x="664.50" y="2050.70" width="8" height="8" fill="#0000ff" stroke="#000" stroke-width="0.7"/>
<rect x="661.20" y="2070.40" width="8" height="8" fill="#0000ff" stroke="#000" stroke-width="0.7"/>
<rect x="667.80" y="2070.40" width="8" height="8" fill="#0000ff" stroke="#000" stroke-width="0.7"/>
<path d="M668.50,2011.91 L668.50,2072.47 M664.90,2011.91 L672.10,2011.91 M664.90,2072.47 L672.10,2072.47" stroke="#000" stroke-width="1.3" fill="none"/>
<path d="M661.85,2041.94 L675.15,2041.94" stroke="#000" stroke-width="2.8" fill="none"/>
<rect x="684.65" y="1991.60" width="8" height="8" fill="#0000ff" stroke="#000" stroke-width="0.7"/>
<rect x="681.05" y="2011.30" width="8" height="8" fill="#0000ff" stroke="#000" stroke-width="0.7"/>
<rect x="684.65" y="2011.30" width="8" height="8" fill="#0000ff" stroke="#000" stroke-width="0.7"/>
<rect x="688.25" y="2011.30" width="8" height="8" fill="#0000ff" stroke="#000" stroke-width="0.7"/>
<rect x="684.65" y="2031.00" width="8" height="8" fill="#0000ff" stroke="#000" stroke-width="0.7"/>
<rect x="681.35" y="2050.70" width="8" height="8" fill="#0000ff" stroke="#000" stroke-width="0.7"/>
<rect x="687.95" y="2050.70" width="8" height="8" fill="#0000ff" stroke="#000" stroke-width="0.7"/>
<path d="M688.65,2007.16 L688.65,2052.45 M685.05,2007.16 L692.25,2007.16 M685.05,2052.45 L692.25,2052.45" stroke="#000" stroke-width="1.3" fill="none"/>
<path d="M682.00,2029.18 L695.30,2029.18" stroke="#000" stroke-width="2.8" fill="none"/>
<rect x="704.80" y="1991.60" width="8" height="8" fill="#0000ff" stroke="#000" stroke-width="0.7"/>
<rect x="701.50" y="2011.30" width="8" height="8" fill="#0000ff" stroke="#000" stroke-width="0.7"/>
<rect x="708.10" y="2011.30" width="8" height="8" fill="#0000ff" stroke="#000" stroke-width="0.7"/>
<rect x="704.80" y="2031.00" width="8" height="8" fill="#0000ff" stroke="#000" stroke-width="0.7"/>
<rect x="701.50" y="2050.70" width="8" height="8" fill="#0000ff" stroke="#000" stroke-width="0.7"/>
<rect x="708.10" y="2050.70" width="8" height="8" fill="#0000ff" stroke="#000" stroke-width="0.7"/>
<path d="M708.80,2005.40 L708.80,2052.95 M705.20,2005.40 L712.40,2005.40 M705.20,2052.95 L712.40,2052.95" stroke="#000" stroke-width="1.3" fill="none"/>
<path d="M702.15,2029.18 L715.45,2029.18" stroke="#000" stroke-width="2.8" fill="none"/>
<rect x="724.95" y="2011.30" width="8" height="8" fill="#0000ff" stroke="#000" stroke-width="0.7"/>
<rect x="721.65" y="2031.00" width="8" height="8" fill="#0000ff" stroke="#000" stroke-width="0.7"/>
<rect x="728.25" y="2031.00" width="8" height="8" fill="#0000ff" stroke="#000" stroke-width="0.7"/>
<rect x="724.95" y="2050.70" width="8" height="8" fill="#0000ff" stroke="#000" stroke-width="0.7"/>
<rect x="724.95" y="2090.10" width="8" height="8" fill="#0000ff" stroke="#000" stroke-width="0.7"/>
<rect x="724.95" y="2129.50" width="8" height="8" fill="#0000ff" stroke="#000" stroke-width="0.7"/>
<path d="M728.95,2017.42 L728.95,2106.26 M725.35,2017.42 L732.55,2017.42 M725.35,2106.26 L732.55,2106.26" stroke="#000" stroke-width="1.3" fill="none"/>
<path d="M722.30,2061.71 L735.60,2061.71" stroke="#000" stroke-width="2.8" fill="none"/>
<rect x="745.10" y="1991.60" width="8" height="8" fill="#0000ff" stroke="#000" stroke-width="0.7"/>
<rect x="741.80" y="2011.30" width="8" height="8" fill="#0000ff" stroke="#000" stroke-width="0.7"/>
<rect x="748.40" y="2011.30" width="8" height="8" fill="#0000ff" stroke="#000" stroke-width="0.7"/>
<rect x="745.10" y="2050.70" width="8" height="8" fill="#0000ff" stroke="#000" stroke-width="0.7"/>
<rect x="745.10" y="2070.40" width="8" height="8" fill="#0000ff" stroke="#000" stroke-width="0.7"/>
<rect x="745.10" y="2090.10" width="8" height="8" fill="#0000ff" stroke="#000" stroke-width="0.7"/>
<path d="M749.10,2001.15 L749.10,2070.72 M745.50,2001.15 L752.70,2001.15 M745.50,2070.72 L752.70,2070.72" stroke="#000" stroke-width="1.3" fill="none"/>
<path d="M742.45,2035.68 L755.75,2035.68" stroke="#000" stroke-width="2.8" fill="none"/>
<rect x="761.95" y="1991.60" width="8" height="8" fill="#0000ff" stroke="#000" stroke-width="0.7"/>
<rect x="768.55" y="1991.60" width="8" height="8" fill="#0000ff" stroke="#000" stroke-width="0.7"/>
<rect x="765.25" y="2011.30" width="8" height="8" fill="#0000ff" stroke="#000" stroke-width="0.7"/>
<rect x="765.25" y="2031.00" width="8" height="8" fill="#0000ff" stroke="#000" stroke-width="0.7"/>
<rect x="761.95" y="2050.70" width="8" height="8" fill="#0000ff" stroke="#000" stroke-width="0.7"/>
<rect x="768.55" y="2050.70" width="8" height="8" fill="#0000ff" stroke="#000" stroke-width="0.7"/>
<rect x="765.25" y="2070.40" width="8" height="8" fill="#0000ff" stroke="#000" stroke-width="0.7"/>
<rect x="765.25" y="2090.10" width="8" height="8" fill="#0000ff" stroke="#000" stroke-width="0.7"/>
<rect x="765.25" y="2109.80" width="8" height="8" fill="#0000ff" stroke="#000" stroke-width="0.7"/>
<path d="M769.25,2007.41 L769.25,2091.24 M765.65,2007.41 L772.85,2007.41 M765.65,2091.24 L772.85,2091.24" stroke="#000" stroke-width="1.3" fill="none"/>
<path d="M762.60,2048.70 L775.90,2048.70" stroke="#000" stroke-width="2.8" fill="none"/>
<rect x="782.10" y="2011.30" width="8" height="8" fill="#0000ff" stroke="#000" stroke-width="0.7"/>
<rect x="788.70" y="2011.30" width="8" height="8" fill="#0000ff" stroke="#000" stroke-width="0.7"/>
<rect x="782.10" y="2031.00" width="8" height="8" fill="#0000ff" stroke="#000" stroke-width="0.7"/>
<rect x="788.70" y="2031.00" width="8" height="8" fill="#0000ff" stroke="#000" stroke-width="0.7"/>
<rect x="785.40" y="2070.40" width="8" height="8" fill="#0000ff" stroke="#000" stroke-width="0.7"/>
<path d="M789.40,2011.91 L789.40,2054.20 M785.80,2011.91 L793.00,2011.91 M785.80,2054.20 L793.00,2054.20" stroke="#000" stroke-width="1.3" fill="none"/>
<path d="M782.75,2032.68 L796.05,2032.68" stroke="#000" stroke-width="2.8" fill="none"/>
<rect x="805.55" y="2011.30" width="8" height="8" fill="#0000ff" stroke="#000" stroke-width="0.7"/>
<rect x="805.55" y="2050.70" width="8" height="8" fill="#0000ff" stroke="#000" stroke-width="0.7"/>
<rect x="805.55" y="2070.40" width="8" height="8" fill="#0000ff" stroke="#000" stroke-width="0.7"/>
<rect x="805.55" y="2090.10" width="8" height="8" fill="#0000ff" stroke="#000" stroke-width="0.7"/>
<rect x="805.55" y="2129.50" width="8" height="8" fill="#0000ff" stroke="#000" stroke-width="0.7"/>
<path d="M809.55,2030.68 L809.55,2119.27 M805.95,2030.68 L813.15,2030.68 M805.95,2119.27 L813.15,2119.27" stroke="#000" stroke-width="1.3" fill="none"/>
<path d="M802.90,2074.47 L816.20,2074.47" stroke="#000" stroke-width="2.8" fill="none"/>
<path d="M870.00,1991.90 L874.60,1999.90 L865.40,1999.90 Z" fill="#137a3e" stroke="#000" stroke-width="0.7"/>
<path d="M866.70,2011.60 L871.30,2019.60 L862.10,2019.60 Z" fill="#137a3e" stroke="#000" stroke-width="0.7"/>
<path d="M873.30,2011.60 L877.90,2019.60 L868.70,2019.60 Z" fill="#137a3e" stroke="#000" stroke-width="0.7"/>
<path d="M866.70,2051.00 L871.30,2059.00 L862.10,2059.00 Z" fill="#137a3e" stroke="#000" stroke-width="0.7"/>
<path d="M873.30,2051.00 L877.90,2059.00 L868.70,2059.00 Z" fill="#137a3e" stroke="#000" stroke-width="0.7"/>
<path d="M866.70,2090.40 L871.30,2098.40 L862.10,2098.40 Z" fill="#137a3e" stroke="#000" stroke-width="0.7"/>
<path d="M873.30,2090.40 L877.90,2098.40 L868.70,2098.40 Z" fill="#137a3e" stroke="#000" stroke-width="0.7"/>
<path d="M870.00,2129.80 L874.60,2137.80 L865.40,2137.80 Z" fill="#137a3e" stroke="#000" stroke-width="0.7"/>
<path d="M870.00,2010.41 L870.00,2105.75 M866.40,2010.41 L873.60,2010.41 M866.40,2105.75 L873.60,2105.75" stroke="#000" stroke-width="1.3" fill="none"/>
<path d="M863.35,2057.46 L876.65,2057.46" stroke="#000" stroke-width="2.8" fill="none"/>
<path d="M890.15,1991.90 L894.75,1999.90 L885.55,1999.90 Z" fill="#137a3e" stroke="#000" stroke-width="0.7"/>
<path d="M890.15,2011.60 L894.75,2019.60 L885.55,2019.60 Z" fill="#137a3e" stroke="#000" stroke-width="0.7"/>
<path d="M886.85,2031.30 L891.45,2039.30 L882.25,2039.30 Z" fill="#137a3e" stroke="#000" stroke-width="0.7"/>
<path d="M893.45,2031.30 L898.05,2039.30 L888.85,2039.30 Z" fill="#137a3e" stroke="#000" stroke-width="0.7"/>
<path d="M890.15,2070.70 L894.75,2078.70 L885.55,2078.70 Z" fill="#137a3e" stroke="#000" stroke-width="0.7"/>
<path d="M886.85,2110.10 L891.45,2118.10 L882.25,2118.10 Z" fill="#137a3e" stroke="#000" stroke-width="0.7"/>
<path d="M893.45,2110.10 L898.05,2118.10 L888.85,2118.10 Z" fill="#137a3e" stroke="#000" stroke-width="0.7"/>
<path d="M890.15,2008.66 L890.15,2102.50 M886.55,2008.66 L893.75,2008.66 M886.55,2102.50 L893.75,2102.50" stroke="#000" stroke-width="1.3" fill="none"/>
<path d="M883.50,2055.20 L896.80,2055.20" stroke="#000" stroke-width="2.8" fill="none"/>
<path d="M326.30,1974.20 L326.30,2172.90" stroke="#000" stroke-width="2.5" stroke-dasharray="7.3,5.8" fill="none"/>
<path d="M607.60,1974.20 L607.60,2172.90" stroke="#000" stroke-width="2.5" stroke-dasharray="7.3,5.8" fill="none"/>
<path d="M829.40,1974.20 L829.40,2172.90" stroke="#000" stroke-width="2.5" stroke-dasharray="7.3,5.8" fill="none"/>
<path d="M292.9,1973.65 L292.9,2172.9 M279,2172.9 L909.3,2172.9" stroke="#000" stroke-width="3.9" fill="none"/>
<path d="M279,1975.6 L292.9,1975.6" stroke="#000" stroke-width="3.9"/>
<path d="M279,2074.3 L292.9,2074.3" stroke="#000" stroke-width="3.9"/>
<path d="M305.80,2172.9 L305.80,2186.4" stroke="#000" stroke-width="3.9"/>
<path d="M325.95,2172.9 L325.95,2186.4" stroke="#000" stroke-width="3.9"/>
<path d="M346.10,2172.9 L346.10,2186.4" stroke="#000" stroke-width="3.9"/>
<path d="M366.25,2172.9 L366.25,2186.4" stroke="#000" stroke-width="3.9"/>
<path d="M386.40,2172.9 L386.40,2186.4" stroke="#000" stroke-width="3.9"/>
<path d="M406.55,2172.9 L406.55,2186.4" stroke="#000" stroke-width="3.9"/>
<path d="M426.70,2172.9 L426.70,2186.4" stroke="#000" stroke-width="3.9"/>
<path d="M446.85,2172.9 L446.85,2186.4" stroke="#000" stroke-width="3.9"/>
<path d="M467.00,2172.9 L467.00,2186.4" stroke="#000" stroke-width="3.9"/>
<path d="M487.15,2172.9 L487.15,2186.4" stroke="#000" stroke-width="3.9"/>
<path d="M507.30,2172.9 L507.30,2186.4" stroke="#000" stroke-width="3.9"/>
<path d="M527.45,2172.9 L527.45,2186.4" stroke="#000" stroke-width="3.9"/>
<path d="M547.60,2172.9 L547.60,2186.4" stroke="#000" stroke-width="3.9"/>
<path d="M567.75,2172.9 L567.75,2186.4" stroke="#000" stroke-width="3.9"/>
<path d="M587.90,2172.9 L587.90,2186.4" stroke="#000" stroke-width="3.9"/>
<path d="M608.05,2172.9 L608.05,2186.4" stroke="#000" stroke-width="3.9"/>
<path d="M628.20,2172.9 L628.20,2186.4" stroke="#000" stroke-width="3.9"/>
<path d="M648.35,2172.9 L648.35,2186.4" stroke="#000" stroke-width="3.9"/>
<path d="M668.50,2172.9 L668.50,2186.4" stroke="#000" stroke-width="3.9"/>
<path d="M688.65,2172.9 L688.65,2186.4" stroke="#000" stroke-width="3.9"/>
<path d="M708.80,2172.9 L708.80,2186.4" stroke="#000" stroke-width="3.9"/>
<path d="M728.95,2172.9 L728.95,2186.4" stroke="#000" stroke-width="3.9"/>
<path d="M749.10,2172.9 L749.10,2186.4" stroke="#000" stroke-width="3.9"/>
<path d="M769.25,2172.9 L769.25,2186.4" stroke="#000" stroke-width="3.9"/>
<path d="M789.40,2172.9 L789.40,2186.4" stroke="#000" stroke-width="3.9"/>
<path d="M809.55,2172.9 L809.55,2186.4" stroke="#000" stroke-width="3.9"/>
<path d="M829.70,2172.9 L829.70,2186.4" stroke="#000" stroke-width="3.9"/>
<path d="M849.85,2172.9 L849.85,2186.4" stroke="#000" stroke-width="3.9"/>
<path d="M870.00,2172.9 L870.00,2186.4" stroke="#000" stroke-width="3.9"/>
<path d="M890.15,2172.9 L890.15,2186.4" stroke="#000" stroke-width="3.9"/>
<text x="276.50" y="1982.10" font-size="18.2" text-anchor="end" fill="#000" >10</text>
<text x="276.50" y="2080.80" font-size="18.2" text-anchor="end" fill="#000" >5</text>
<text x="276.50" y="2179.40" font-size="18.2" text-anchor="end" fill="#000" >0</text>
<text transform="translate(244.20,2074.30) rotate(-90)" font-size="24.8" font-weight="bold" text-anchor="middle" fill="#000">Pups/Litter</text>
<rect x="303.37" y="2277.92" width="9.3" height="9.3" fill="#000" stroke="#000" stroke-width="0"/>
<rect x="302.12" y="2283.43" width="9.3" height="9.3" fill="#000" stroke="#000" stroke-width="0"/>
<rect x="299.87" y="2292.94" width="9.3" height="9.3" fill="#000" stroke="#000" stroke-width="0"/>
<rect x="305.12" y="2293.69" width="9.3" height="9.3" fill="#000" stroke="#000" stroke-width="0"/>
<rect x="302.12" y="2298.44" width="9.3" height="9.3" fill="#000" stroke="#000" stroke-width="0"/>
<rect x="302.12" y="2311.71" width="9.3" height="9.3" fill="#000" stroke="#000" stroke-width="0"/>
<path d="M306.27,2285.48 L306.27,2313.00 M302.67,2285.48 L309.87,2285.48 M302.67,2313.00 L309.87,2313.00" stroke="#000" stroke-width="1.3" fill="none"/>
<path d="M299.52,2299.99 L313.02,2299.99" stroke="#000" stroke-width="2.9" fill="none"/>
<circle cx="350.07" cy="2300.09" r="3.8" fill="#ff0000" stroke="#000" stroke-width="0.7"/>
<circle cx="343.81" cy="2306.35" r="3.8" fill="#ff0000" stroke="#000" stroke-width="0.7"/>
<circle cx="348.81" cy="2307.60" r="3.8" fill="#ff0000" stroke="#000" stroke-width="0.7"/>
<circle cx="344.31" cy="2312.60" r="3.8" fill="#ff0000" stroke="#000" stroke-width="0.7"/>
<path d="M346.31,2301.74 L346.31,2311.75 M342.71,2301.74 L349.91,2301.74 M342.71,2311.75 L349.91,2311.75" stroke="#000" stroke-width="1.3" fill="none"/>
<path d="M339.56,2306.75 L353.06,2306.75" stroke="#000" stroke-width="2.9" fill="none"/>
<circle cx="367.08" cy="2293.83" r="3.8" fill="#ff0000" stroke="#000" stroke-width="0.7"/>
<circle cx="365.08" cy="2303.84" r="3.8" fill="#ff0000" stroke="#000" stroke-width="0.7"/>
<circle cx="370.09" cy="2305.10" r="3.8" fill="#ff0000" stroke="#000" stroke-width="0.7"/>
<circle cx="368.83" cy="2318.86" r="3.8" fill="#ff0000" stroke="#000" stroke-width="0.7"/>
<circle cx="365.58" cy="2322.61" r="3.8" fill="#ff0000" stroke="#000" stroke-width="0.7"/>
<path d="M366.83,2297.99 L366.83,2320.51 M363.23,2297.99 L370.43,2297.99 M363.23,2320.51 L370.43,2320.51" stroke="#000" stroke-width="1.3" fill="none"/>
<path d="M360.08,2309.25 L373.58,2309.25" stroke="#000" stroke-width="2.9" fill="none"/>
<circle cx="387.60" cy="2303.84" r="3.8" fill="#ff0000" stroke="#000" stroke-width="0.7"/>
<circle cx="385.10" cy="2310.10" r="3.8" fill="#ff0000" stroke="#000" stroke-width="0.7"/>
<circle cx="390.11" cy="2308.85" r="3.8" fill="#ff0000" stroke="#000" stroke-width="0.7"/>
<circle cx="386.35" cy="2315.11" r="3.8" fill="#ff0000" stroke="#000" stroke-width="0.7"/>
<circle cx="387.60" cy="2320.11" r="3.8" fill="#ff0000" stroke="#000" stroke-width="0.7"/>
<circle cx="383.85" cy="2328.87" r="3.8" fill="#ff0000" stroke="#000" stroke-width="0.7"/>
<circle cx="390.11" cy="2327.12" r="3.8" fill="#ff0000" stroke="#000" stroke-width="0.7"/>
<circle cx="386.35" cy="2330.12" r="3.8" fill="#ff0000" stroke="#000" stroke-width="0.7"/>
<path d="M386.85,2306.75 L386.85,2328.02 M383.25,2306.75 L390.45,2306.75 M383.25,2328.02 L390.45,2328.02" stroke="#000" stroke-width="1.3" fill="none"/>
<path d="M380.10,2317.51 L393.60,2317.51" stroke="#000" stroke-width="2.9" fill="none"/>
<circle cx="407.62" cy="2298.84" r="3.8" fill="#ff0000" stroke="#000" stroke-width="0.7"/>
<circle cx="403.87" cy="2303.84" r="3.8" fill="#ff0000" stroke="#000" stroke-width="0.7"/>
<circle cx="410.13" cy="2306.35" r="3.8" fill="#ff0000" stroke="#000" stroke-width="0.7"/>
<circle cx="405.12" cy="2311.35" r="3.8" fill="#ff0000" stroke="#000" stroke-width="0.7"/>
<circle cx="409.37" cy="2313.85" r="3.8" fill="#ff0000" stroke="#000" stroke-width="0.7"/>
<circle cx="406.37" cy="2318.86" r="3.8" fill="#ff0000" stroke="#000" stroke-width="0.7"/>
<circle cx="407.62" cy="2323.86" r="3.8" fill="#ff0000" stroke="#000" stroke-width="0.7"/>
<circle cx="404.62" cy="2330.87" r="3.8" fill="#ff0000" stroke="#000" stroke-width="0.7"/>
<circle cx="410.13" cy="2328.87" r="3.8" fill="#ff0000" stroke="#000" stroke-width="0.7"/>
<path d="M406.87,2304.24 L406.87,2324.26 M403.27,2304.24 L410.47,2304.24 M403.27,2324.26 L410.47,2324.26" stroke="#000" stroke-width="1.3" fill="none"/>
<path d="M400.12,2313.50 L413.62,2313.50" stroke="#000" stroke-width="2.9" fill="none"/>
<circle cx="425.89" cy="2288.08" r="3.8" fill="#ff0000" stroke="#000" stroke-width="0.7"/>
<circle cx="429.39" cy="2289.58" r="3.8" fill="#ff0000" stroke="#000" stroke-width="0.7"/>
<circle cx="425.14" cy="2307.60" r="3.8" fill="#ff0000" stroke="#000" stroke-width="0.7"/>
<circle cx="430.15" cy="2308.10" r="3.8" fill="#ff0000" stroke="#000" stroke-width="0.7"/>
<circle cx="427.14" cy="2312.60" r="3.8" fill="#ff0000" stroke="#000" stroke-width="0.7"/>
<circle cx="428.89" cy="2317.61" r="3.8" fill="#ff0000" stroke="#000" stroke-width="0.7"/>
<circle cx="425.64" cy="2331.87" r="3.8" fill="#ff0000" stroke="#000" stroke-width="0.7"/>
<circle cx="429.39" cy="2331.87" r="3.8" fill="#ff0000" stroke="#000" stroke-width="0.7"/>
<path d="M427.14,2296.74 L427.14,2326.77 M423.54,2296.74 L430.74,2296.74 M423.54,2326.77 L430.74,2326.77" stroke="#000" stroke-width="1.3" fill="none"/>
<path d="M420.39,2311.00 L433.89,2311.00" stroke="#000" stroke-width="2.9" fill="none"/>
<circle cx="450.17" cy="2290.58" r="3.8" fill="#ff0000" stroke="#000" stroke-width="0.7"/>
<circle cx="447.66" cy="2298.09" r="3.8" fill="#ff0000" stroke="#000" stroke-width="0.7"/>
<circle cx="445.16" cy="2305.10" r="3.8" fill="#ff0000" stroke="#000" stroke-width="0.7"/>
<circle cx="450.17" cy="2306.35" r="3.8" fill="#ff0000" stroke="#000" stroke-width="0.7"/>
<circle cx="445.16" cy="2316.36" r="3.8" fill="#ff0000" stroke="#000" stroke-width="0.7"/>
<circle cx="450.17" cy="2317.61" r="3.8" fill="#ff0000" stroke="#000" stroke-width="0.7"/>
<circle cx="447.66" cy="2326.37" r="3.8" fill="#ff0000" stroke="#000" stroke-width="0.7"/>
<circle cx="450.67" cy="2332.62" r="3.8" fill="#ff0000" stroke="#000" stroke-width="0.7"/>
<circle cx="444.66" cy="2338.88" r="3.8" fill="#ff0000" stroke="#000" stroke-width="0.7"/>
<path d="M447.16,2300.49 L447.16,2330.52 M443.56,2300.49 L450.76,2300.49 M443.56,2330.52 L450.76,2330.52" stroke="#000" stroke-width="1.3" fill="none"/>
<path d="M440.41,2315.51 L453.91,2315.51" stroke="#000" stroke-width="2.9" fill="none"/>
<circle cx="467.68" cy="2293.83" r="3.8" fill="#ff0000" stroke="#000" stroke-width="0.7"/>
<circle cx="467.68" cy="2300.09" r="3.8" fill="#ff0000" stroke="#000" stroke-width="0.7"/>
<circle cx="468.93" cy="2308.85" r="3.8" fill="#ff0000" stroke="#000" stroke-width="0.7"/>
<circle cx="466.43" cy="2312.60" r="3.8" fill="#ff0000" stroke="#000" stroke-width="0.7"/>
<circle cx="466.43" cy="2320.11" r="3.8" fill="#ff0000" stroke="#000" stroke-width="0.7"/>
<circle cx="470.19" cy="2323.86" r="3.8" fill="#ff0000" stroke="#000" stroke-width="0.7"/>
<circle cx="465.68" cy="2327.62" r="3.8" fill="#ff0000" stroke="#000" stroke-width="0.7"/>
<circle cx="467.68" cy="2336.88" r="3.8" fill="#ff0000" stroke="#000" stroke-width="0.7"/>
<path d="M467.68,2304.24 L467.68,2330.52 M464.08,2304.24 L471.28,2304.24 M464.08,2330.52 L471.28,2330.52" stroke="#000" stroke-width="1.3" fill="none"/>
<path d="M460.93,2317.51 L474.43,2317.51" stroke="#000" stroke-width="2.9" fill="none"/>
<circle cx="487.70" cy="2296.84" r="3.8" fill="#ff0000" stroke="#000" stroke-width="0.7"/>
<circle cx="488.20" cy="2318.86" r="3.8" fill="#ff0000" stroke="#000" stroke-width="0.7"/>
<circle cx="486.45" cy="2323.86" r="3.8" fill="#ff0000" stroke="#000" stroke-width="0.7"/>
<circle cx="490.21" cy="2325.12" r="3.8" fill="#ff0000" stroke="#000" stroke-width="0.7"/>
<circle cx="487.70" cy="2330.12" r="3.8" fill="#ff0000" stroke="#000" stroke-width="0.7"/>
<circle cx="490.71" cy="2328.87" r="3.8" fill="#ff0000" stroke="#000" stroke-width="0.7"/>
<circle cx="484.70" cy="2336.38" r="3.8" fill="#ff0000" stroke="#000" stroke-width="0.7"/>
<path d="M487.70,2312.50 L487.70,2335.53 M484.10,2312.50 L491.30,2312.50 M484.10,2335.53 L491.30,2335.53" stroke="#000" stroke-width="1.3" fill="none"/>
<path d="M480.95,2324.26 L494.45,2324.26" stroke="#000" stroke-width="2.9" fill="none"/>
<circle cx="508.22" cy="2311.35" r="3.8" fill="#ff0000" stroke="#000" stroke-width="0.7"/>
<circle cx="506.47" cy="2316.36" r="3.8" fill="#ff0000" stroke="#000" stroke-width="0.7"/>
<circle cx="509.47" cy="2320.11" r="3.8" fill="#ff0000" stroke="#000" stroke-width="0.7"/>
<circle cx="506.47" cy="2326.37" r="3.8" fill="#ff0000" stroke="#000" stroke-width="0.7"/>
<circle cx="510.23" cy="2327.62" r="3.8" fill="#ff0000" stroke="#000" stroke-width="0.7"/>
<circle cx="511.48" cy="2331.37" r="3.8" fill="#ff0000" stroke="#000" stroke-width="0.7"/>
<circle cx="505.22" cy="2335.88" r="3.8" fill="#ff0000" stroke="#000" stroke-width="0.7"/>
<path d="M507.72,2315.51 L507.72,2334.27 M504.12,2315.51 L511.32,2315.51 M504.12,2334.27 L511.32,2334.27" stroke="#000" stroke-width="1.3" fill="none"/>
<path d="M500.97,2325.01 L514.47,2325.01" stroke="#000" stroke-width="2.9" fill="none"/>
<circle cx="531.50" cy="2305.85" r="3.8" fill="#ff0000" stroke="#000" stroke-width="0.7"/>
<circle cx="527.74" cy="2310.10" r="3.8" fill="#ff0000" stroke="#000" stroke-width="0.7"/>
<circle cx="524.74" cy="2313.10" r="3.8" fill="#ff0000" stroke="#000" stroke-width="0.7"/>
<circle cx="531.50" cy="2317.11" r="3.8" fill="#ff0000" stroke="#000" stroke-width="0.7"/>
<circle cx="525.74" cy="2321.36" r="3.8" fill="#ff0000" stroke="#000" stroke-width="0.7"/>
<circle cx="530.25" cy="2327.62" r="3.8" fill="#ff0000" stroke="#000" stroke-width="0.7"/>
<circle cx="528.99" cy="2361.90" r="3.8" fill="#ff0000" stroke="#000" stroke-width="0.7"/>
<circle cx="526.49" cy="2368.16" r="3.8" fill="#ff0000" stroke="#000" stroke-width="0.7"/>
<path d="M527.74,2305.50 L527.74,2350.54 M524.14,2305.50 L531.34,2305.50 M524.14,2350.54 L531.34,2350.54" stroke="#000" stroke-width="1.3" fill="none"/>
<path d="M520.99,2327.52 L534.49,2327.52" stroke="#000" stroke-width="2.9" fill="none"/>
<circle cx="548.76" cy="2292.58" r="3.8" fill="#ff0000" stroke="#000" stroke-width="0.7"/>
<circle cx="550.51" cy="2318.11" r="3.8" fill="#ff0000" stroke="#000" stroke-width="0.7"/>
<circle cx="545.51" cy="2325.12" r="3.8" fill="#ff0000" stroke="#000" stroke-width="0.7"/>
<circle cx="547.01" cy="2332.62" r="3.8" fill="#ff0000" stroke="#000" stroke-width="0.7"/>
<circle cx="551.26" cy="2339.38" r="3.8" fill="#ff0000" stroke="#000" stroke-width="0.7"/>
<circle cx="549.51" cy="2366.41" r="3.8" fill="#ff0000" stroke="#000" stroke-width="0.7"/>
<circle cx="546.76" cy="2373.41" r="3.8" fill="#ff0000" stroke="#000" stroke-width="0.7"/>
<path d="M548.26,2310.50 L548.26,2356.30 M544.66,2310.50 L551.86,2310.50 M544.66,2356.30 L551.86,2356.30" stroke="#000" stroke-width="1.3" fill="none"/>
<path d="M541.51,2333.52 L555.01,2333.52" stroke="#000" stroke-width="2.9" fill="none"/>
<circle cx="568.78" cy="2302.09" r="3.8" fill="#ff0000" stroke="#000" stroke-width="0.7"/>
<circle cx="571.28" cy="2310.85" r="3.8" fill="#ff0000" stroke="#000" stroke-width="0.7"/>
<circle cx="566.28" cy="2316.36" r="3.8" fill="#ff0000" stroke="#000" stroke-width="0.7"/>
<circle cx="568.78" cy="2325.62" r="3.8" fill="#ff0000" stroke="#000" stroke-width="0.7"/>
<circle cx="568.28" cy="2380.67" r="3.8" fill="#ff0000" stroke="#000" stroke-width="0.7"/>
<circle cx="568.28" cy="2404.69" r="3.8" fill="#ff0000" stroke="#000" stroke-width="0.7"/>
<path d="M568.28,2296.24 L568.28,2364.80 M564.68,2296.24 L571.88,2296.24 M564.68,2364.80 L571.88,2364.80" stroke="#000" stroke-width="1.3" fill="none"/>
<path d="M561.53,2330.52 L575.03,2330.52" stroke="#000" stroke-width="2.9" fill="none"/>
<circle cx="588.05" cy="2326.37" r="3.8" fill="#ff0000" stroke="#000" stroke-width="0.7"/>
<circle cx="591.30" cy="2330.87" r="3.8" fill="#ff0000" stroke="#000" stroke-width="0.7"/>
<circle cx="586.30" cy="2333.87" r="3.8" fill="#ff0000" stroke="#000" stroke-width="0.7"/>
<circle cx="590.05" cy="2337.63" r="3.8" fill="#ff0000" stroke="#000" stroke-width="0.7"/>
<circle cx="586.30" cy="2341.38" r="3.8" fill="#ff0000" stroke="#000" stroke-width="0.7"/>
<path d="M588.30,2329.27 L588.30,2338.53 M584.70,2329.27 L591.90,2329.27 M584.70,2338.53 L591.90,2338.53" stroke="#000" stroke-width="1.3" fill="none"/>
<path d="M581.55,2333.77 L595.05,2333.77" stroke="#000" stroke-width="2.9" fill="none"/>
<rect x="624.94" y="2291.94" width="7.8" height="7.8" fill="#0000ff" stroke="#000" stroke-width="0.7"/>
<rect x="622.44" y="2294.94" width="7.8" height="7.8" fill="#0000ff" stroke="#000" stroke-width="0.7"/>
<rect x="627.44" y="2299.44" width="7.8" height="7.8" fill="#0000ff" stroke="#000" stroke-width="0.7"/>
<rect x="623.69" y="2304.95" width="7.8" height="7.8" fill="#0000ff" stroke="#000" stroke-width="0.7"/>
<rect x="622.44" y="2308.70" width="7.8" height="7.8" fill="#0000ff" stroke="#000" stroke-width="0.7"/>
<rect x="627.44" y="2311.21" width="7.8" height="7.8" fill="#0000ff" stroke="#000" stroke-width="0.7"/>
<rect x="625.69" y="2318.71" width="7.8" height="7.8" fill="#0000ff" stroke="#000" stroke-width="0.7"/>
<rect x="622.94" y="2321.72" width="7.8" height="7.8" fill="#0000ff" stroke="#000" stroke-width="0.7"/>
<path d="M628.34,2300.49 L628.34,2321.76 M624.74,2300.49 L631.94,2300.49 M624.74,2321.76 L631.94,2321.76" stroke="#000" stroke-width="1.3" fill="none"/>
<path d="M621.59,2311.00 L635.09,2311.00" stroke="#000" stroke-width="2.9" fill="none"/>
<rect x="645.46" y="2275.67" width="7.8" height="7.8" fill="#0000ff" stroke="#000" stroke-width="0.7"/>
<rect x="645.46" y="2296.19" width="7.8" height="7.8" fill="#0000ff" stroke="#000" stroke-width="0.7"/>
<rect x="643.71" y="2302.45" width="7.8" height="7.8" fill="#0000ff" stroke="#000" stroke-width="0.7"/>
<rect x="647.46" y="2302.45" width="7.8" height="7.8" fill="#0000ff" stroke="#000" stroke-width="0.7"/>
<rect x="642.46" y="2308.70" width="7.8" height="7.8" fill="#0000ff" stroke="#000" stroke-width="0.7"/>
<rect x="647.46" y="2308.70" width="7.8" height="7.8" fill="#0000ff" stroke="#000" stroke-width="0.7"/>
<rect x="645.46" y="2323.72" width="7.8" height="7.8" fill="#0000ff" stroke="#000" stroke-width="0.7"/>
<rect x="644.21" y="2327.97" width="7.8" height="7.8" fill="#0000ff" stroke="#000" stroke-width="0.7"/>
<path d="M648.86,2296.24 L648.86,2325.01 M645.26,2296.24 L652.46,2296.24 M645.26,2325.01 L652.46,2325.01" stroke="#000" stroke-width="1.3" fill="none"/>
<path d="M642.11,2310.50 L655.61,2310.50" stroke="#000" stroke-width="2.9" fill="none"/>
<rect x="665.48" y="2301.20" width="7.8" height="7.8" fill="#0000ff" stroke="#000" stroke-width="0.7"/>
<rect x="664.23" y="2307.45" width="7.8" height="7.8" fill="#0000ff" stroke="#000" stroke-width="0.7"/>
<rect x="667.48" y="2309.95" width="7.8" height="7.8" fill="#0000ff" stroke="#000" stroke-width="0.7"/>
<rect x="662.48" y="2315.71" width="7.8" height="7.8" fill="#0000ff" stroke="#000" stroke-width="0.7"/>
<rect x="667.48" y="2316.21" width="7.8" height="7.8" fill="#0000ff" stroke="#000" stroke-width="0.7"/>
<rect x="664.98" y="2321.72" width="7.8" height="7.8" fill="#0000ff" stroke="#000" stroke-width="0.7"/>
<rect x="666.73" y="2327.47" width="7.8" height="7.8" fill="#0000ff" stroke="#000" stroke-width="0.7"/>
<rect x="663.73" y="2332.98" width="7.8" height="7.8" fill="#0000ff" stroke="#000" stroke-width="0.7"/>
<path d="M668.88,2310.00 L668.88,2330.02 M665.28,2310.00 L672.48,2310.00 M665.28,2330.02 L672.48,2330.02" stroke="#000" stroke-width="1.3" fill="none"/>
<path d="M662.13,2319.76 L675.63,2319.76" stroke="#000" stroke-width="2.9" fill="none"/>
<rect x="685.50" y="2294.44" width="7.8" height="7.8" fill="#0000ff" stroke="#000" stroke-width="0.7"/>
<rect x="682.50" y="2299.44" width="7.8" height="7.8" fill="#0000ff" stroke="#000" stroke-width="0.7"/>
<rect x="687.50" y="2301.20" width="7.8" height="7.8" fill="#0000ff" stroke="#000" stroke-width="0.7"/>
<rect x="685.50" y="2307.45" width="7.8" height="7.8" fill="#0000ff" stroke="#000" stroke-width="0.7"/>
<rect x="683.75" y="2314.96" width="7.8" height="7.8" fill="#0000ff" stroke="#000" stroke-width="0.7"/>
<rect x="687.50" y="2316.21" width="7.8" height="7.8" fill="#0000ff" stroke="#000" stroke-width="0.7"/>
<rect x="688.00" y="2329.22" width="7.8" height="7.8" fill="#0000ff" stroke="#000" stroke-width="0.7"/>
<rect x="683.00" y="2331.23" width="7.8" height="7.8" fill="#0000ff" stroke="#000" stroke-width="0.7"/>
<path d="M689.40,2300.99 L689.40,2329.27 M685.80,2300.99 L693.00,2300.99 M685.80,2329.27 L693.00,2329.27" stroke="#000" stroke-width="1.3" fill="none"/>
<path d="M682.65,2315.00 L696.15,2315.00" stroke="#000" stroke-width="2.9" fill="none"/>
<rect x="706.27" y="2301.20" width="7.8" height="7.8" fill="#0000ff" stroke="#000" stroke-width="0.7"/>
<rect x="703.02" y="2306.20" width="7.8" height="7.8" fill="#0000ff" stroke="#000" stroke-width="0.7"/>
<rect x="708.77" y="2307.45" width="7.8" height="7.8" fill="#0000ff" stroke="#000" stroke-width="0.7"/>
<rect x="705.02" y="2309.95" width="7.8" height="7.8" fill="#0000ff" stroke="#000" stroke-width="0.7"/>
<rect x="707.52" y="2313.71" width="7.8" height="7.8" fill="#0000ff" stroke="#000" stroke-width="0.7"/>
<rect x="704.27" y="2319.96" width="7.8" height="7.8" fill="#0000ff" stroke="#000" stroke-width="0.7"/>
<path d="M709.42,2305.50 L709.42,2319.26 M705.82,2305.50 L713.02,2305.50 M705.82,2319.26 L713.02,2319.26" stroke="#000" stroke-width="1.3" fill="none"/>
<path d="M702.67,2312.50 L716.17,2312.50" stroke="#000" stroke-width="2.9" fill="none"/>
<rect x="724.29" y="2296.19" width="7.8" height="7.8" fill="#0000ff" stroke="#000" stroke-width="0.7"/>
<rect x="728.04" y="2298.19" width="7.8" height="7.8" fill="#0000ff" stroke="#000" stroke-width="0.7"/>
<rect x="722.54" y="2301.95" width="7.8" height="7.8" fill="#0000ff" stroke="#000" stroke-width="0.7"/>
<rect x="727.54" y="2303.70" width="7.8" height="7.8" fill="#0000ff" stroke="#000" stroke-width="0.7"/>
<rect x="722.54" y="2308.70" width="7.8" height="7.8" fill="#0000ff" stroke="#000" stroke-width="0.7"/>
<rect x="726.29" y="2312.46" width="7.8" height="7.8" fill="#0000ff" stroke="#000" stroke-width="0.7"/>
<rect x="725.54" y="2324.22" width="7.8" height="7.8" fill="#0000ff" stroke="#000" stroke-width="0.7"/>
<path d="M729.44,2300.99 L729.44,2318.76 M725.84,2300.99 L733.04,2300.99 M725.84,2318.76 L733.04,2318.76" stroke="#000" stroke-width="1.3" fill="none"/>
<path d="M722.69,2309.75 L736.19,2309.75" stroke="#000" stroke-width="2.9" fill="none"/>
<rect x="744.56" y="2290.68" width="7.8" height="7.8" fill="#0000ff" stroke="#000" stroke-width="0.7"/>
<rect x="747.06" y="2294.19" width="7.8" height="7.8" fill="#0000ff" stroke="#000" stroke-width="0.7"/>
<rect x="744.56" y="2299.19" width="7.8" height="7.8" fill="#0000ff" stroke="#000" stroke-width="0.7"/>
<rect x="747.56" y="2302.45" width="7.8" height="7.8" fill="#0000ff" stroke="#000" stroke-width="0.7"/>
<rect x="743.81" y="2311.21" width="7.8" height="7.8" fill="#0000ff" stroke="#000" stroke-width="0.7"/>
<rect x="747.56" y="2314.96" width="7.8" height="7.8" fill="#0000ff" stroke="#000" stroke-width="0.7"/>
<rect x="748.31" y="2321.22" width="7.8" height="7.8" fill="#0000ff" stroke="#000" stroke-width="0.7"/>
<rect x="743.06" y="2326.97" width="7.8" height="7.8" fill="#0000ff" stroke="#000" stroke-width="0.7"/>
<path d="M749.71,2300.49 L749.71,2326.02 M746.11,2300.49 L753.31,2300.49 M746.11,2326.02 L753.31,2326.02" stroke="#000" stroke-width="1.3" fill="none"/>
<path d="M742.96,2313.00 L756.46,2313.00" stroke="#000" stroke-width="2.9" fill="none"/>
<rect x="767.58" y="2307.45" width="7.8" height="7.8" fill="#0000ff" stroke="#000" stroke-width="0.7"/>
<rect x="763.83" y="2309.95" width="7.8" height="7.8" fill="#0000ff" stroke="#000" stroke-width="0.7"/>
<rect x="766.33" y="2313.71" width="7.8" height="7.8" fill="#0000ff" stroke="#000" stroke-width="0.7"/>
<rect x="764.33" y="2318.71" width="7.8" height="7.8" fill="#0000ff" stroke="#000" stroke-width="0.7"/>
<rect x="767.58" y="2321.72" width="7.8" height="7.8" fill="#0000ff" stroke="#000" stroke-width="0.7"/>
<rect x="765.08" y="2328.72" width="7.8" height="7.8" fill="#0000ff" stroke="#000" stroke-width="0.7"/>
<rect x="765.83" y="2374.52" width="7.8" height="7.8" fill="#0000ff" stroke="#000" stroke-width="0.7"/>
<path d="M769.73,2306.75 L769.73,2346.29 M766.13,2306.75 L773.33,2306.75 M766.13,2346.29 L773.33,2346.29" stroke="#000" stroke-width="1.3" fill="none"/>
<path d="M762.98,2326.77 L776.48,2326.77" stroke="#000" stroke-width="2.9" fill="none"/>
<rect x="785.85" y="2302.95" width="7.8" height="7.8" fill="#0000ff" stroke="#000" stroke-width="0.7"/>
<rect x="783.85" y="2309.20" width="7.8" height="7.8" fill="#0000ff" stroke="#000" stroke-width="0.7"/>
<rect x="788.85" y="2311.21" width="7.8" height="7.8" fill="#0000ff" stroke="#000" stroke-width="0.7"/>
<rect x="785.60" y="2317.46" width="7.8" height="7.8" fill="#0000ff" stroke="#000" stroke-width="0.7"/>
<rect x="788.85" y="2323.72" width="7.8" height="7.8" fill="#0000ff" stroke="#000" stroke-width="0.7"/>
<rect x="785.60" y="2336.23" width="7.8" height="7.8" fill="#0000ff" stroke="#000" stroke-width="0.7"/>
<rect x="785.85" y="2340.48" width="7.8" height="7.8" fill="#0000ff" stroke="#000" stroke-width="0.7"/>
<path d="M790.25,2313.00 L790.25,2335.53 M786.65,2313.00 L793.85,2313.00 M786.65,2335.53 L793.85,2335.53" stroke="#000" stroke-width="1.3" fill="none"/>
<path d="M783.50,2324.26 L797.00,2324.26" stroke="#000" stroke-width="2.9" fill="none"/>
<rect x="808.87" y="2287.43" width="7.8" height="7.8" fill="#0000ff" stroke="#000" stroke-width="0.7"/>
<rect x="803.37" y="2292.94" width="7.8" height="7.8" fill="#0000ff" stroke="#000" stroke-width="0.7"/>
<rect x="807.62" y="2298.69" width="7.8" height="7.8" fill="#0000ff" stroke="#000" stroke-width="0.7"/>
<rect x="803.87" y="2303.70" width="7.8" height="7.8" fill="#0000ff" stroke="#000" stroke-width="0.7"/>
<rect x="808.87" y="2306.20" width="7.8" height="7.8" fill="#0000ff" stroke="#000" stroke-width="0.7"/>
<rect x="803.37" y="2311.21" width="7.8" height="7.8" fill="#0000ff" stroke="#000" stroke-width="0.7"/>
<rect x="807.62" y="2314.96" width="7.8" height="7.8" fill="#0000ff" stroke="#000" stroke-width="0.7"/>
<rect x="808.87" y="2323.72" width="7.8" height="7.8" fill="#0000ff" stroke="#000" stroke-width="0.7"/>
<rect x="805.12" y="2327.47" width="7.8" height="7.8" fill="#0000ff" stroke="#000" stroke-width="0.7"/>
<path d="M810.27,2299.24 L810.27,2325.52 M806.67,2299.24 L813.87,2299.24 M806.67,2325.52 L813.87,2325.52" stroke="#000" stroke-width="1.3" fill="none"/>
<path d="M803.52,2312.50 L817.02,2312.50" stroke="#000" stroke-width="2.9" fill="none"/>
<path d="M851.82,2280.98 L856.22,2289.18 L847.42,2289.18 Z" fill="#137a3e" stroke="#000" stroke-width="0.7"/>
<path d="M848.07,2285.98 L852.47,2294.18 L843.67,2294.18 Z" fill="#137a3e" stroke="#000" stroke-width="0.7"/>
<path d="M852.57,2290.99 L856.97,2299.19 L848.17,2299.19 Z" fill="#137a3e" stroke="#000" stroke-width="0.7"/>
<path d="M848.07,2303.50 L852.47,2311.70 L843.67,2311.70 Z" fill="#137a3e" stroke="#000" stroke-width="0.7"/>
<path d="M852.57,2308.50 L856.97,2316.70 L848.17,2316.70 Z" fill="#137a3e" stroke="#000" stroke-width="0.7"/>
<path d="M851.32,2318.51 L855.72,2326.71 L846.92,2326.71 Z" fill="#137a3e" stroke="#000" stroke-width="0.7"/>
<path d="M849.32,2326.02 L853.72,2334.22 L844.92,2334.22 Z" fill="#137a3e" stroke="#000" stroke-width="0.7"/>
<path d="M850.07,2289.98 L850.07,2318.51 M846.47,2289.98 L853.67,2289.98 M846.47,2318.51 L853.67,2318.51" stroke="#000" stroke-width="1.3" fill="none"/>
<path d="M843.32,2304.24 L856.82,2304.24" stroke="#000" stroke-width="2.9" fill="none"/>
<path d="M870.59,2278.97 L874.99,2287.17 L866.19,2287.17 Z" fill="#137a3e" stroke="#000" stroke-width="0.7"/>
<path d="M870.59,2287.23 L874.99,2295.43 L866.19,2295.43 Z" fill="#137a3e" stroke="#000" stroke-width="0.7"/>
<path d="M868.09,2292.24 L872.49,2300.44 L863.69,2300.44 Z" fill="#137a3e" stroke="#000" stroke-width="0.7"/>
<path d="M873.09,2293.49 L877.49,2301.69 L868.69,2301.69 Z" fill="#137a3e" stroke="#000" stroke-width="0.7"/>
<path d="M868.84,2297.99 L873.24,2306.19 L864.44,2306.19 Z" fill="#137a3e" stroke="#000" stroke-width="0.7"/>
<path d="M872.59,2299.74 L876.99,2307.94 L868.19,2307.94 Z" fill="#137a3e" stroke="#000" stroke-width="0.7"/>
<path d="M870.59,2291.73 L870.59,2304.99 M866.99,2291.73 L874.19,2291.73 M866.99,2304.99 L874.19,2304.99" stroke="#000" stroke-width="1.3" fill="none"/>
<path d="M863.84,2298.49 L877.34,2298.49" stroke="#000" stroke-width="2.9" fill="none"/>
<path d="M890.61,2294.74 L895.01,2302.94 L886.21,2302.94 Z" fill="#137a3e" stroke="#000" stroke-width="0.7"/>
<path d="M891.36,2303.50 L895.76,2311.70 L886.96,2311.70 Z" fill="#137a3e" stroke="#000" stroke-width="0.7"/>
<path d="M888.86,2308.50 L893.26,2316.70 L884.46,2316.70 Z" fill="#137a3e" stroke="#000" stroke-width="0.7"/>
<path d="M893.11,2309.75 L897.51,2317.95 L888.71,2317.95 Z" fill="#137a3e" stroke="#000" stroke-width="0.7"/>
<path d="M888.11,2316.01 L892.51,2324.21 L883.71,2324.21 Z" fill="#137a3e" stroke="#000" stroke-width="0.7"/>
<path d="M890.61,2304.24 L890.61,2319.26 M887.01,2304.24 L894.21,2304.24 M887.01,2319.26 L894.21,2319.26" stroke="#000" stroke-width="1.3" fill="none"/>
<path d="M883.86,2311.75 L897.36,2311.75" stroke="#000" stroke-width="2.9" fill="none"/>
<path d="M326.30,2241.00 L326.30,2436.00" stroke="#000" stroke-width="2.5" stroke-dasharray="7.3,5.8" fill="none"/>
<path d="M607.60,2241.00 L607.60,2436.00" stroke="#000" stroke-width="2.5" stroke-dasharray="7.3,5.8" fill="none"/>
<path d="M829.40,2241.00 L829.40,2436.00" stroke="#000" stroke-width="2.5" stroke-dasharray="7.3,5.8" fill="none"/>
<path d="M293.4,2237.25 L293.4,2436.0 M280,2436.0 L903.8,2436.0" stroke="#000" stroke-width="3.9" fill="none"/>
<path d="M280,2239.2 L293.4,2239.2" stroke="#000" stroke-width="3.9"/>
<path d="M280,2304.7 L293.4,2304.7" stroke="#000" stroke-width="3.9"/>
<path d="M280,2370.3 L293.4,2370.3" stroke="#000" stroke-width="3.9"/>
<path d="M306.20,2436.0 L306.20,2449.5" stroke="#000" stroke-width="3.9"/>
<path d="M326.33,2436.0 L326.33,2449.5" stroke="#000" stroke-width="3.9"/>
<path d="M346.46,2436.0 L346.46,2449.5" stroke="#000" stroke-width="3.9"/>
<path d="M366.59,2436.0 L366.59,2449.5" stroke="#000" stroke-width="3.9"/>
<path d="M386.72,2436.0 L386.72,2449.5" stroke="#000" stroke-width="3.9"/>
<path d="M406.85,2436.0 L406.85,2449.5" stroke="#000" stroke-width="3.9"/>
<path d="M426.98,2436.0 L426.98,2449.5" stroke="#000" stroke-width="3.9"/>
<path d="M447.11,2436.0 L447.11,2449.5" stroke="#000" stroke-width="3.9"/>
<path d="M467.24,2436.0 L467.24,2449.5" stroke="#000" stroke-width="3.9"/>
<path d="M487.37,2436.0 L487.37,2449.5" stroke="#000" stroke-width="3.9"/>
<path d="M507.50,2436.0 L507.50,2449.5" stroke="#000" stroke-width="3.9"/>
<path d="M527.63,2436.0 L527.63,2449.5" stroke="#000" stroke-width="3.9"/>
<path d="M547.76,2436.0 L547.76,2449.5" stroke="#000" stroke-width="3.9"/>
<path d="M567.89,2436.0 L567.89,2449.5" stroke="#000" stroke-width="3.9"/>
<path d="M588.02,2436.0 L588.02,2449.5" stroke="#000" stroke-width="3.9"/>
<path d="M608.15,2436.0 L608.15,2449.5" stroke="#000" stroke-width="3.9"/>
<path d="M628.28,2436.0 L628.28,2449.5" stroke="#000" stroke-width="3.9"/>
<path d="M648.41,2436.0 L648.41,2449.5" stroke="#000" stroke-width="3.9"/>
<path d="M668.54,2436.0 L668.54,2449.5" stroke="#000" stroke-width="3.9"/>
<path d="M688.67,2436.0 L688.67,2449.5" stroke="#000" stroke-width="3.9"/>
<path d="M708.80,2436.0 L708.80,2449.5" stroke="#000" stroke-width="3.9"/>
<path d="M728.93,2436.0 L728.93,2449.5" stroke="#000" stroke-width="3.9"/>
<path d="M749.06,2436.0 L749.06,2449.5" stroke="#000" stroke-width="3.9"/>
<path d="M769.19,2436.0 L769.19,2449.5" stroke="#000" stroke-width="3.9"/>
<path d="M789.32,2436.0 L789.32,2449.5" stroke="#000" stroke-width="3.9"/>
<path d="M809.45,2436.0 L809.45,2449.5" stroke="#000" stroke-width="3.9"/>
<path d="M829.58,2436.0 L829.58,2449.5" stroke="#000" stroke-width="3.9"/>
<path d="M849.71,2436.0 L849.71,2449.5" stroke="#000" stroke-width="3.9"/>
<path d="M869.84,2436.0 L869.84,2449.5" stroke="#000" stroke-width="3.9"/>
<path d="M889.97,2436.0 L889.97,2449.5" stroke="#000" stroke-width="3.9"/>
<text x="277.30" y="2245.50" font-size="18.2" text-anchor="end" fill="#000" >0.15</text>
<text x="277.30" y="2311.00" font-size="18.2" text-anchor="end" fill="#000" >0.10</text>
<text x="277.30" y="2376.60" font-size="18.2" text-anchor="end" fill="#000" >0.05</text>
<text x="277.30" y="2442.30" font-size="18.2" text-anchor="end" fill="#000" >0.00</text>
<text transform="translate(229.70,2338.50) rotate(-90)" font-size="24.7" font-weight="bold" text-anchor="middle" fill="#000">Testis weight (g)</text>
<text x="307.20" y="2472.00" font-size="26" font-weight="bold" text-anchor="middle" fill="#000" >+/+</text>
<text x="346.46" y="2473.60" font-size="26.5" font-weight="bold" text-anchor="middle" fill="#ff0000" >a</text>
<text x="366.59" y="2473.60" font-size="26.5" font-weight="bold" text-anchor="middle" fill="#ff0000" >b</text>
<text x="386.72" y="2473.60" font-size="26.5" font-weight="bold" text-anchor="middle" fill="#ff0000" >c</text>
<text x="406.85" y="2473.60" font-size="26.5" font-weight="bold" text-anchor="middle" fill="#ff0000" >d</text>
<text x="426.98" y="2473.60" font-size="26.5" font-weight="bold" text-anchor="middle" fill="#ff0000" >e</text>
<text x="447.11" y="2473.60" font-size="26.5" font-weight="bold" text-anchor="middle" fill="#ff0000" >f</text>
<text x="467.24" y="2473.60" font-size="26.5" font-weight="bold" text-anchor="middle" fill="#ff0000" >g</text>
<text x="487.37" y="2473.60" font-size="26.5" font-weight="bold" text-anchor="middle" fill="#ff0000" >h</text>
<text x="507.50" y="2473.60" font-size="26.5" font-weight="bold" text-anchor="middle" fill="#ff0000" >i</text>
<text x="527.63" y="2473.60" font-size="26.5" font-weight="bold" text-anchor="middle" fill="#ff0000" >j</text>
<text x="547.76" y="2473.60" font-size="26.5" font-weight="bold" text-anchor="middle" fill="#ff0000" >k</text>
<text x="567.89" y="2473.60" font-size="26.5" font-weight="bold" text-anchor="middle" fill="#ff0000" >l</text>
<text x="588.02" y="2473.60" font-size="26.5" font-weight="bold" text-anchor="middle" fill="#ff0000" >m</text>
<text x="648.41" y="2473.60" font-size="26.5" font-weight="bold" text-anchor="middle" fill="#0433ff" >a</text>
<text x="668.54" y="2473.60" font-size="26.5" font-weight="bold" text-anchor="middle" fill="#0433ff" >b</text>
<text x="688.67" y="2473.60" font-size="26.5" font-weight="bold" text-anchor="middle" fill="#0433ff" >c</text>
<text x="708.80" y="2473.60" font-size="26.5" font-weight="bold" text-anchor="middle" fill="#0433ff" >d</text>
<text x="728.93" y="2473.60" font-size="26.5" font-weight="bold" text-anchor="middle" fill="#0433ff" >e</text>
<text x="749.06" y="2473.60" font-size="26.5" font-weight="bold" text-anchor="middle" fill="#0433ff" >f</text>
<text x="769.19" y="2473.60" font-size="26.5" font-weight="bold" text-anchor="middle" fill="#0433ff" >g</text>
<text x="789.32" y="2473.60" font-size="26.5" font-weight="bold" text-anchor="middle" fill="#0433ff" >h</text>
<text x="809.45" y="2473.60" font-size="26.5" font-weight="bold" text-anchor="middle" fill="#0433ff" >i</text>
<text x="869.84" y="2473.60" font-size="26.5" font-weight="bold" text-anchor="middle" fill="#0e8f4f" >a</text>
<text x="889.97" y="2473.60" font-size="26.5" font-weight="bold" text-anchor="middle" fill="#0e8f4f" >b</text>
<path d="M341.7,2475.5 L341.7,2482.5 Q341.7,2486.5 345.7,2486.5 L592,2486.5 Q596,2486.5 596,2482.5 L596,2475.5" fill="none" stroke="#000" stroke-width="3.4"/>
<path d="M620.5,2475.5 L620.5,2482.5 Q620.5,2486.5 624.5,2486.5 L813.5,2486.5 Q817.5,2486.5 817.5,2482.5 L817.5,2475.5" fill="none" stroke="#000" stroke-width="3.4"/>
<path d="M843.5,2475.5 L843.5,2482.5 Q843.5,2486.5 847.5,2486.5 L896.5,2486.5 Q900.5,2486.5 900.5,2482.5 L900.5,2475.5" fill="none" stroke="#000" stroke-width="3.4"/>
<text x="473.80" y="2520.30" font-size="30" font-weight="bold" text-anchor="middle" fill="#ff0000" >G4.0</text>
<text x="728.50" y="2520.30" font-size="30" font-weight="bold" text-anchor="middle" fill="#0433ff" >G4.8</text>
<text x="876.00" y="2520.30" font-size="30" font-weight="bold" text-anchor="middle" fill="#0e8f4f" >G4.14</text>
</svg>
</body></html>
